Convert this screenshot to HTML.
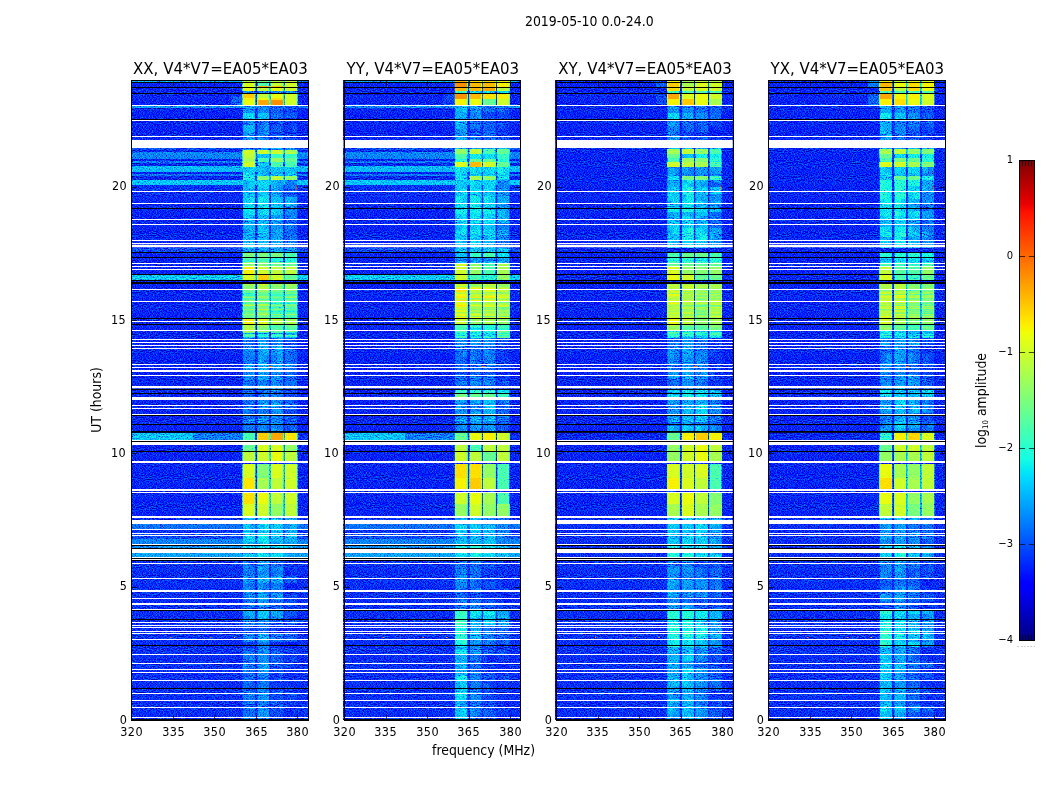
<!DOCTYPE html>
<html><head><meta charset="utf-8"><title>2019-05-10 0.0-24.0</title>
<style>html,body{margin:0;padding:0;background:#fff}svg{display:block}text{opacity:.999}text{font-family:"DejaVu Sans Condensed","DejaVu Sans","Liberation Sans",sans-serif;font-stretch:condensed;fill:#000}</style></head><body>
<svg width="1050" height="800" viewBox="0 0 1050 800">
<defs><filter id="jet" x="0" y="0" width="100%" height="100%" color-interpolation-filters="sRGB"><feTurbulence type="fractalNoise" baseFrequency="0.71 0.93" numOctaves="1" seed="7" result="n"/><feColorMatrix in="n" type="matrix" values="1 0 0 0 0 1 0 0 0 0 1 0 0 0 0 0 0 0 0 1" result="g0"/><feComponentTransfer in="g0" result="gn"><feFuncR type="table" tableValues="0.116 0.116 0.116 0.116 0.116 0.116 0.116 0.116 0.116 0.116 0.116 0.119 0.153 0.188 0.221 0.248 0.274 0.303 0.331 0.355 0.375 0.392 0.406 0.418 0.429 0.438 0.448 0.456 0.465 0.474 0.483 0.491 0.498 0.507 0.514 0.521 0.528 0.533 0.539 0.544 0.549 0.554 0.558 0.564 0.569 0.575 0.581 0.586 0.592 0.597 0.601 0.605 0.61 0.612 0.612 0.612 0.612 0.612 0.612 0.612 0.612 0.612 0.612 0.612 0.612"/><feFuncG type="table" tableValues="0.116 0.116 0.116 0.116 0.116 0.116 0.116 0.116 0.116 0.116 0.116 0.119 0.153 0.188 0.221 0.248 0.274 0.303 0.331 0.355 0.375 0.392 0.406 0.418 0.429 0.438 0.448 0.456 0.465 0.474 0.483 0.491 0.498 0.507 0.514 0.521 0.528 0.533 0.539 0.544 0.549 0.554 0.558 0.564 0.569 0.575 0.581 0.586 0.592 0.597 0.601 0.605 0.61 0.612 0.612 0.612 0.612 0.612 0.612 0.612 0.612 0.612 0.612 0.612 0.612"/><feFuncB type="table" tableValues="0.116 0.116 0.116 0.116 0.116 0.116 0.116 0.116 0.116 0.116 0.116 0.119 0.153 0.188 0.221 0.248 0.274 0.303 0.331 0.355 0.375 0.392 0.406 0.418 0.429 0.438 0.448 0.456 0.465 0.474 0.483 0.491 0.498 0.507 0.514 0.521 0.528 0.533 0.539 0.544 0.549 0.554 0.558 0.564 0.569 0.575 0.581 0.586 0.592 0.597 0.601 0.605 0.61 0.612 0.612 0.612 0.612 0.612 0.612 0.612 0.612 0.612 0.612 0.612 0.612"/></feComponentTransfer><feComposite in="SourceGraphic" in2="gn" operator="arithmetic" k1="-1.5892" k2="1.7946" k3="1.2225" k4="-0.4112" result="s"/><feComponentTransfer in="s"><feFuncR type="table" tableValues="0 0 0 0 0 0 0 0 0 0 0 0 0 0 0 0 0 0 0 0 0 0 0 0 0 0 0 0 0 0 0 0 0 0 0 0 0 0 0 0 0 0 0 0 0 0 0 0 0 0 0 0 0 0 0 0 0 0 0 0 0 0 0 0 0 0 0 0 0 0.006 0.032 0.058 0.084 0.11 0.135 0.161 0.187 0.213 0.239 0.265 0.29 0.316 0.342 0.368 0.394 0.419 0.445 0.471 0.497 0.523 0.548 0.574 0.6 0.626 0.652 0.677 0.703 0.729 0.755 0.781 0.806 0.832 0.858 0.884 0.91 0.935 0.961 0.987 1 1 1 1 1 1 1 1 1 1 1 1 1 1 1 1 1 1"/><feFuncG type="table" tableValues="0 0 0 0 0 0 0 0 0 0 0 0 0 0 0 0 0 0 0 0 0 0 0 0 0 0 0 0 0 0 0 0 0 0 0 0 0 0 0 0 0 0.012 0.044 0.076 0.108 0.14 0.172 0.204 0.236 0.268 0.3 0.332 0.364 0.396 0.428 0.46 0.492 0.524 0.556 0.588 0.62 0.652 0.684 0.716 0.748 0.78 0.812 0.844 0.876 0.908 0.94 0.972 1 1 1 1 1 1 1 1 1 1 1 1 1 1 1 1 1 1 1 1 1 1 1 1 1 1 1 1 1 1 1 1 1 1 0.97 0.941 0.911 0.881 0.852 0.822 0.793 0.763 0.733 0.704 0.674 0.644 0.615 0.585 0.556 0.526 0.496 0.467 0.437 0.407"/><feFuncB type="table" tableValues="0.5 0.5 0.5 0.5 0.5 0.5 0.5 0.5 0.5 0.5 0.5 0.5 0.5 0.5 0.5 0.5 0.5 0.5 0.5 0.5 0.5 0.5 0.5 0.5 0.5 0.5 0.536 0.573 0.609 0.645 0.682 0.718 0.755 0.791 0.827 0.864 0.9 0.936 0.973 1 1 1 1 1 1 1 1 1 1 1 1 1 1 1 1 1 1 1 1 1 1 1 1 1 1 1 1 1 0.987 0.961 0.935 0.91 0.884 0.858 0.832 0.806 0.781 0.755 0.729 0.703 0.677 0.652 0.626 0.6 0.574 0.548 0.523 0.497 0.471 0.445 0.419 0.394 0.368 0.342 0.316 0.29 0.265 0.239 0.213 0.187 0.161 0.135 0.11 0.084 0.058 0.032 0.006 0 0 0 0 0 0 0 0 0 0 0 0 0 0 0 0 0 0 0"/><feFuncA type="linear" slope="0" intercept="1"/></feComponentTransfer></filter>
<linearGradient id="cb" x1="0" y1="0" x2="0" y2="1"><stop offset="0" stop-color="rgb(128,0,0)"/><stop offset="0.09" stop-color="rgb(232,0,0)"/><stop offset="0.11" stop-color="rgb(255,19,0)"/><stop offset="0.22" stop-color="rgb(255,123,0)"/><stop offset="0.34" stop-color="rgb(255,236,0)"/><stop offset="0.35" stop-color="rgb(247,246,0)"/><stop offset="0.36" stop-color="rgb(239,255,8)"/><stop offset="0.5" stop-color="rgb(123,255,123)"/><stop offset="0.62" stop-color="rgb(21,255,226)"/><stop offset="0.65" stop-color="rgb(0,229,247)"/><stop offset="0.66" stop-color="rgb(0,219,255)"/><stop offset="0.88" stop-color="rgb(0,0,255)"/><stop offset="0.89" stop-color="rgb(0,0,255)"/><stop offset="1" stop-color="rgb(0,0,128)"/></linearGradient></defs>
<rect width="1050" height="800" fill="#fff"/>
<g filter="url(#jet)">
<rect x="131.25" y="80.0" width="176.9" height="640.0" fill="#292929"/>
<rect x="131.25" y="516" width="176.9" height="204.0" fill="#2c2c2c"/>
<rect x="131.25" y="148" width="176.9" height="2" fill="#333333"/>
<rect x="131.25" y="152" width="176.9" height="7" fill="#424242"/>
<rect x="131.25" y="161" width="176.9" height="2" fill="#404040"/>
<rect x="131.25" y="166" width="176.9" height="6" fill="#4f4f4f"/>
<rect x="131.25" y="174" width="176.9" height="2" fill="#404040"/>
<rect x="131.25" y="180" width="176.9" height="5" fill="#525252"/>
<rect x="131.25" y="185" width="176.9" height="6" fill="#2e2e2e"/>
<rect x="131.25" y="192" width="176.9" height="11" fill="#2b2b2b"/>
<rect x="131.25" y="81" width="176.9" height="1" fill="#4c4c4c"/>
<rect x="131.25" y="106" width="176.9" height="2" fill="#454545"/>
<rect x="131.25" y="546" width="176.9" height="2" fill="#474747"/>
<rect x="131.25" y="248" width="176.9" height="4" fill="#333333"/>
<rect x="131.25" y="275" width="176.9" height="6" fill="#545454"/>
<rect x="131.25" y="433" width="62" height="7" fill="#525252"/>
<rect x="193.25" y="433" width="50" height="7" fill="#404040"/>
<rect x="296.25" y="433" width="11.9" height="7" fill="#2b2b2b"/>
<rect x="131.25" y="524" width="176.9" height="5" fill="#3d3d3d"/>
<rect x="131.25" y="529" width="176.9" height="4" fill="#2e2e2e"/>
<rect x="131.25" y="533" width="176.9" height="6" fill="#333333"/>
<rect x="131.25" y="539" width="176.9" height="5" fill="#424242"/>
<rect x="131.25" y="553" width="176.9" height="4" fill="#4a4a4a"/>
<rect x="231.25" y="96" width="11.7" height="9" fill="#383838"/>
<rect x="242.6" y="80" width="12.7" height="2" fill="#959595"/>
<rect x="257.3" y="80" width="12.2" height="2" fill="#7a7a7a"/>
<rect x="270.6" y="80" width="12.9" height="2" fill="#959595"/>
<rect x="284.7" y="80" width="12.7" height="2" fill="#959595"/>
<rect x="242.6" y="83" width="12.7" height="4" fill="#9d9d9d"/>
<rect x="257.7" y="83" width="11.4" height="4" fill="#717171"/>
<rect x="270.6" y="83" width="12.9" height="4" fill="#959595"/>
<rect x="284.7" y="83" width="12.7" height="4" fill="#9a9a9a"/>
<rect x="242.6" y="86" width="12.7" height="1" fill="#9d9d9d"/>
<rect x="257.3" y="86" width="12.2" height="1" fill="#bbbbbb"/>
<rect x="270.6" y="86" width="12.9" height="1" fill="#b6b6b6"/>
<rect x="284.7" y="86" width="12.7" height="1" fill="#9a9a9a"/>
<rect x="242.6" y="88" width="12.7" height="3" fill="#a2a2a2"/>
<rect x="257.3" y="88" width="12.2" height="3" fill="#959595"/>
<rect x="270.6" y="88" width="12.9" height="3" fill="#a2a2a2"/>
<rect x="284.7" y="88" width="12.7" height="3" fill="#9a9a9a"/>
<rect x="243" y="91" width="11.9" height="3" fill="#454545"/>
<rect x="257.7" y="91" width="11.4" height="3" fill="#454545"/>
<rect x="271" y="91" width="12.1" height="3" fill="#454545"/>
<rect x="285.1" y="91" width="11.9" height="3" fill="#454545"/>
<rect x="242.6" y="94" width="12.7" height="4" fill="#b1b1b1"/>
<rect x="257.3" y="94" width="12.2" height="4" fill="#959595"/>
<rect x="270.6" y="94" width="12.9" height="4" fill="#a2a2a2"/>
<rect x="284.7" y="94" width="12.7" height="4" fill="#9a9a9a"/>
<rect x="242.6" y="98" width="12.7" height="2" fill="#a7a7a7"/>
<rect x="257.3" y="98" width="12.2" height="2" fill="#a2a2a2"/>
<rect x="270.6" y="98" width="12.9" height="2" fill="#acacac"/>
<rect x="284.7" y="98" width="12.7" height="2" fill="#9a9a9a"/>
<rect x="242.6" y="100" width="12.7" height="5" fill="#a2a2a2"/>
<rect x="257.3" y="100" width="12.2" height="5" fill="#bbbbbb"/>
<rect x="270.6" y="100" width="12.9" height="5" fill="#c1c1c1"/>
<rect x="284.7" y="100" width="12.7" height="5" fill="#9a9a9a"/>
<rect x="243" y="106" width="11.9" height="7" fill="#454545"/>
<rect x="257.7" y="106" width="11.4" height="7" fill="#424242"/>
<rect x="271" y="106" width="12.1" height="7" fill="#383838"/>
<rect x="285.1" y="106" width="11.9" height="7" fill="#333333"/>
<rect x="243" y="113" width="11.9" height="6" fill="#575757"/>
<rect x="257.7" y="113" width="11.4" height="6" fill="#525252"/>
<rect x="271" y="113" width="12.1" height="6" fill="#3d3d3d"/>
<rect x="285.1" y="113" width="11.9" height="6" fill="#383838"/>
<rect x="243" y="121" width="11.9" height="19" fill="#454545"/>
<rect x="257.7" y="121" width="11.4" height="19" fill="#404040"/>
<rect x="271" y="121" width="12.1" height="19" fill="#383838"/>
<rect x="285.1" y="121" width="11.9" height="19" fill="#303030"/>
<rect x="243" y="148" width="11.9" height="2" fill="#454545"/>
<rect x="257.7" y="148" width="11.4" height="2" fill="#454545"/>
<rect x="271" y="148" width="12.1" height="2" fill="#454545"/>
<rect x="285.1" y="148" width="11.9" height="2" fill="#454545"/>
<rect x="242.6" y="150" width="12.7" height="4" fill="#9a9a9a"/>
<rect x="257.3" y="150" width="12.2" height="4" fill="#9a9a9a"/>
<rect x="270.6" y="150" width="12.9" height="4" fill="#9a9a9a"/>
<rect x="284.7" y="150" width="12.7" height="4" fill="#909090"/>
<rect x="242.6" y="154" width="12.7" height="4" fill="#959595"/>
<rect x="257.7" y="154" width="11.4" height="4" fill="#525252"/>
<rect x="271" y="154" width="12.1" height="4" fill="#6b6b6b"/>
<rect x="285.1" y="154" width="11.9" height="4" fill="#6b6b6b"/>
<rect x="242.6" y="158" width="12.7" height="4" fill="#8e8e8e"/>
<rect x="257.7" y="158" width="11.4" height="4" fill="#717171"/>
<rect x="270.6" y="158" width="12.9" height="4" fill="#888888"/>
<rect x="284.7" y="158" width="12.7" height="4" fill="#7a7a7a"/>
<rect x="242.6" y="162" width="12.7" height="5" fill="#9a9a9a"/>
<rect x="257.7" y="162" width="11.4" height="5" fill="#525252"/>
<rect x="271" y="162" width="12.1" height="5" fill="#717171"/>
<rect x="285.1" y="162" width="11.9" height="5" fill="#717171"/>
<rect x="243" y="167" width="11.9" height="9" fill="#595959"/>
<rect x="257.7" y="167" width="11.4" height="9" fill="#525252"/>
<rect x="271" y="167" width="12.1" height="9" fill="#545454"/>
<rect x="285.1" y="167" width="11.9" height="9" fill="#545454"/>
<rect x="243" y="176" width="11.9" height="4" fill="#5e5e5e"/>
<rect x="257.3" y="176" width="12.2" height="4" fill="#838383"/>
<rect x="270.6" y="176" width="12.9" height="4" fill="#959595"/>
<rect x="284.7" y="176" width="12.7" height="4" fill="#888888"/>
<rect x="243" y="180" width="11.9" height="68" fill="#525252"/>
<rect x="257.7" y="180" width="11.4" height="68" fill="#545454"/>
<rect x="271" y="180" width="12.1" height="68" fill="#4d4d4d"/>
<rect x="285.1" y="180" width="11.9" height="68" fill="#424242"/>
<rect x="243" y="248" width="11.9" height="4" fill="#4a4a4a"/>
<rect x="257.7" y="248" width="11.4" height="4" fill="#4a4a4a"/>
<rect x="271" y="248" width="12.1" height="4" fill="#4a4a4a"/>
<rect x="285.1" y="248" width="11.9" height="4" fill="#454545"/>
<rect x="242.6" y="253" width="12.7" height="4" fill="#808080"/>
<rect x="257.3" y="253" width="12.2" height="4" fill="#808080"/>
<rect x="270.6" y="253" width="12.9" height="4" fill="#808080"/>
<rect x="285.1" y="253" width="11.9" height="4" fill="#717171"/>
<rect x="242.6" y="258" width="12.7" height="4" fill="#7a7a7a"/>
<rect x="257.3" y="258" width="12.2" height="4" fill="#7a7a7a"/>
<rect x="271" y="258" width="12.1" height="4" fill="#6b6b6b"/>
<rect x="285.1" y="258" width="11.9" height="4" fill="#6b6b6b"/>
<rect x="242.6" y="262" width="12.7" height="4" fill="#888888"/>
<rect x="257.3" y="262" width="12.2" height="4" fill="#838383"/>
<rect x="270.6" y="262" width="12.9" height="4" fill="#7a7a7a"/>
<rect x="284.7" y="262" width="12.7" height="4" fill="#7a7a7a"/>
<rect x="242.6" y="266" width="12.7" height="8" fill="#a7a7a7"/>
<rect x="257.3" y="266" width="12.2" height="8" fill="#9a9a9a"/>
<rect x="270.6" y="266" width="12.9" height="8" fill="#959595"/>
<rect x="284.7" y="266" width="12.7" height="8" fill="#959595"/>
<rect x="242.6" y="274" width="12.7" height="6" fill="#9d9d9d"/>
<rect x="257.3" y="274" width="12.2" height="6" fill="#b1b1b1"/>
<rect x="270.6" y="274" width="12.9" height="6" fill="#9a9a9a"/>
<rect x="284.7" y="274" width="12.7" height="6" fill="#7a7a7a"/>
<rect x="242.6" y="284" width="12.7" height="6" fill="#909090"/>
<rect x="257.3" y="284" width="12.2" height="6" fill="#989898"/>
<rect x="270.6" y="284" width="12.9" height="6" fill="#8e8e8e"/>
<rect x="284.7" y="284" width="12.7" height="6" fill="#8e8e8e"/>
<rect x="242.6" y="290" width="12.7" height="12" fill="#888888"/>
<rect x="257.3" y="290" width="12.2" height="12" fill="#8e8e8e"/>
<rect x="270.6" y="290" width="12.9" height="12" fill="#838383"/>
<rect x="284.7" y="290" width="12.7" height="12" fill="#8e8e8e"/>
<rect x="242.6" y="302" width="12.7" height="16" fill="#888888"/>
<rect x="257.3" y="302" width="12.2" height="16" fill="#888888"/>
<rect x="270.6" y="302" width="12.9" height="16" fill="#7a7a7a"/>
<rect x="284.7" y="302" width="12.7" height="16" fill="#7a7a7a"/>
<rect x="242.6" y="318" width="12.7" height="7" fill="#a7a7a7"/>
<rect x="257.3" y="318" width="12.2" height="7" fill="#9d9d9d"/>
<rect x="270.6" y="318" width="12.9" height="7" fill="#959595"/>
<rect x="284.7" y="318" width="12.7" height="7" fill="#8e8e8e"/>
<rect x="242.6" y="325" width="12.7" height="7" fill="#959595"/>
<rect x="257.3" y="325" width="12.2" height="7" fill="#888888"/>
<rect x="270.6" y="325" width="12.9" height="7" fill="#7a7a7a"/>
<rect x="284.7" y="325" width="12.7" height="7" fill="#7a7a7a"/>
<rect x="243" y="332" width="11.9" height="6" fill="#717171"/>
<rect x="257.7" y="332" width="11.4" height="6" fill="#666666"/>
<rect x="271" y="332" width="12.1" height="6" fill="#666666"/>
<rect x="285.1" y="332" width="11.9" height="6" fill="#666666"/>
<rect x="243" y="338" width="11.9" height="42" fill="#424242"/>
<rect x="257.7" y="338" width="11.4" height="42" fill="#4a4a4a"/>
<rect x="271" y="338" width="12.1" height="42" fill="#474747"/>
<rect x="285.1" y="338" width="11.9" height="42" fill="#3b3b3b"/>
<rect x="243" y="380" width="11.9" height="53" fill="#3d3d3d"/>
<rect x="257.7" y="380" width="11.4" height="53" fill="#424242"/>
<rect x="271" y="380" width="12.1" height="53" fill="#424242"/>
<rect x="285.1" y="380" width="11.9" height="53" fill="#383838"/>
<rect x="243" y="433" width="11.9" height="7" fill="#717171"/>
<rect x="257.3" y="433" width="12.2" height="7" fill="#b1b1b1"/>
<rect x="270.6" y="433" width="12.9" height="7" fill="#bbbbbb"/>
<rect x="284.7" y="433" width="12.7" height="7" fill="#aaaaaa"/>
<rect x="242.6" y="445" width="12.7" height="6" fill="#7a7a7a"/>
<rect x="257.3" y="445" width="12.2" height="6" fill="#9d9d9d"/>
<rect x="270.6" y="445" width="12.9" height="6" fill="#9d9d9d"/>
<rect x="284.7" y="445" width="12.7" height="6" fill="#888888"/>
<rect x="242.6" y="452" width="12.7" height="10" fill="#959595"/>
<rect x="257.3" y="452" width="12.2" height="10" fill="#9a9a9a"/>
<rect x="270.6" y="452" width="12.9" height="10" fill="#a2a2a2"/>
<rect x="284.7" y="452" width="12.7" height="10" fill="#959595"/>
<rect x="242.6" y="464" width="12.7" height="14" fill="#9d9d9d"/>
<rect x="257.3" y="464" width="12.2" height="14" fill="#838383"/>
<rect x="270.6" y="464" width="12.9" height="14" fill="#9d9d9d"/>
<rect x="284.7" y="464" width="12.7" height="14" fill="#9a9a9a"/>
<rect x="242.6" y="478" width="12.7" height="11" fill="#aaaaaa"/>
<rect x="257.3" y="478" width="12.2" height="11" fill="#8e8e8e"/>
<rect x="270.6" y="478" width="12.9" height="11" fill="#959595"/>
<rect x="284.7" y="478" width="12.7" height="11" fill="#9a9a9a"/>
<rect x="242.6" y="493" width="12.7" height="11" fill="#acacac"/>
<rect x="257.3" y="493" width="12.2" height="11" fill="#a2a2a2"/>
<rect x="270.6" y="493" width="12.9" height="11" fill="#959595"/>
<rect x="284.7" y="493" width="12.7" height="11" fill="#9a9a9a"/>
<rect x="242.6" y="504" width="12.7" height="12" fill="#9d9d9d"/>
<rect x="257.3" y="504" width="12.2" height="12" fill="#9a9a9a"/>
<rect x="270.6" y="504" width="12.9" height="12" fill="#888888"/>
<rect x="284.7" y="504" width="12.7" height="12" fill="#959595"/>
<rect x="243" y="516" width="11.9" height="29" fill="#525252"/>
<rect x="257.7" y="516" width="11.4" height="29" fill="#575757"/>
<rect x="271" y="516" width="12.1" height="29" fill="#525252"/>
<rect x="285.1" y="516" width="11.9" height="29" fill="#4a4a4a"/>
<rect x="243" y="545" width="11.9" height="15" fill="#525252"/>
<rect x="257.7" y="545" width="11.4" height="15" fill="#575757"/>
<rect x="271" y="545" width="12.1" height="15" fill="#525252"/>
<rect x="285.1" y="545" width="11.9" height="15" fill="#4a4a4a"/>
<rect x="243" y="560" width="11.9" height="40" fill="#424242"/>
<rect x="257.7" y="560" width="11.4" height="40" fill="#4a4a4a"/>
<rect x="271" y="560" width="12.1" height="40" fill="#454545"/>
<rect x="285.1" y="560" width="11.9" height="40" fill="#303030"/>
<rect x="243" y="600" width="11.9" height="11" fill="#383838"/>
<rect x="257.7" y="600" width="11.4" height="11" fill="#424242"/>
<rect x="271" y="600" width="12.1" height="11" fill="#383838"/>
<rect x="285.1" y="600" width="11.9" height="11" fill="#2e2e2e"/>
<rect x="243" y="611" width="11.9" height="9" fill="#4d4d4d"/>
<rect x="257.7" y="611" width="11.4" height="9" fill="#525252"/>
<rect x="271" y="611" width="12.1" height="9" fill="#4a4a4a"/>
<rect x="285.1" y="611" width="11.9" height="9" fill="#383838"/>
<rect x="243" y="620" width="11.9" height="100" fill="#3b3b3b"/>
<rect x="257.7" y="620" width="11.4" height="100" fill="#424242"/>
<rect x="271" y="620" width="12.1" height="100" fill="#333333"/>
<rect x="285.1" y="620" width="11.9" height="100" fill="#2e2e2e"/>
<path fill="#3c3c3c" d="M243 121h6.6v4h-6.6zM285.1 369h5.1v8h-5.1zM247.4 380h7.5v5h-7.5zM285.1 380h6v5h-6zM291.1 380h5.9v5h-5.9zM275.5 389h7.6v9h-7.6zM247.7 409h7.2v6h-7.2zM278.2 415h4.9v4h-4.9zM257.7 607h6.6v4h-6.6zM264.3 607h4.8v4h-4.8zM243 626h4.1v7h-4.1zM243 657h5.6v4h-5.6zM275.3 661h7.8v3h-7.8zM247 664h7.9v8h-7.9zM248.5 672h6.4v4h-6.4zM257.7 719h6.3v1h-6.3z"/>
<path fill="#454545" d="M249.6 121h5.3v4h-5.3zM263.8 132h5.3v3h-5.3zM257.7 135h6.4v5h-6.4zM275.3 223h7.8v6h-7.8zM257.7 333h11.4v1h-11.4zM285.1 333h11.9v1h-11.9zM275.9 343h7.2v3h-7.2zM250.1 346h4.8v9h-4.8zM278.6 377h4.5v3h-4.5zM271 398h7.5v5h-7.5zM275.2 409h7.9v6h-7.9zM261.5 419h7.6v4h-7.6zM285.1 542h4.4v3h-4.4zM262 567h7.1v4h-7.1zM278.3 567h4.8v4h-4.8zM257.7 571h6.9v5h-6.9zM271 587h6.5v7h-6.5zM248.2 594h6.7v6h-6.7zM257.7 664h5.3v8h-5.3zM257.7 691h5.8v3h-5.8zM257.7 694h3.7v6h-3.7z"/>
<path fill="#373737" d="M257.7 121h4.1v4h-4.1zM271 125h5.7v7h-5.7zM276.7 125h6.4v7h-6.4zM292.5 125h4.5v7h-4.5zM285.1 220h4v3h-4zM285.1 338h7.1v5h-7.1zM292.2 343h4.8v3h-4.8zM285.1 419h7.3v4h-7.3zM292.4 419h4.6v4h-4.6zM285.1 600h6.7v7h-6.7zM243 607h5.3v4h-5.3zM289.6 611h7.4v5h-7.4zM291 619h6v1h-6zM292 620h5v6h-5zM249.3 648h5.6v4h-5.6zM275.2 657h7.9v4h-7.9zM247.5 687h7.4v4h-7.4zM248.9 719h6v1h-6z"/>
<path fill="#3f3f3f" d="M261.8 121h7.3v4h-7.3zM243 135h4.1v5h-4.1zM264.1 135h5v5h-5zM285.1 180h7v8h-7zM292.7 242h4.3v6h-4.3zM285.1 346h4.5v9h-4.5zM243 355h5.8v9h-5.8zM290.5 364h6.5v5h-6.5zM279 403h4.1v6h-4.1zM262.5 409h6.6v6h-6.6zM243 419h5.1v4h-5.1zM275.2 423h7.9v6h-7.9zM248.9 429h6v4h-6zM271 567h7.3v4h-7.3zM243 571h5.1v5h-5.1zM248.1 571h6.8v5h-6.8zM271 583h4.2v4h-4.2zM257.7 648h5.2v4h-5.2zM243 694h4.6v6h-4.6zM249.8 707h5.1v4h-5.1z"/>
<path fill="#2e2e2e" d="M271 121h7.4v4h-7.4zM285.1 567h4.4v4h-4.4zM289.4 661h7.6v3h-7.6zM271 672h8v4h-8zM290.7 672h6.3v4h-6.3zM271 676h7.6v5h-7.6zM285.1 676h4v5h-4zM285.1 691h6.2v3h-6.2zM285.1 704h7.3v3h-7.3z"/>
<path fill="#383838" d="M278.4 121h4.7v4h-4.7zM243 389h5.8v9h-5.8zM248.8 389h6.1v9h-6.1zM290.1 403h6.9v6h-6.9zM292.5 415h4.5v4h-4.5zM248.3 560h6.6v7h-6.6zM248.3 607h6.6v4h-6.6zM279 607h4.1v4h-4.1zM292 633h5v9h-5zM243 648h6.3v4h-6.3zM271 648h7.5v4h-7.5zM243 661h6.9v3h-6.9zM278.4 664h4.7v8h-4.7zM243 704h7.1v3h-7.1z"/>
<path fill="#2b2b2b" d="M285.1 121h6.8v4h-6.8zM285.1 132h7.1v3h-7.1zM276 626h7.1v7h-7.1zM289.6 681h7.4v6h-7.4z"/>
<path fill="#2f2f2f" d="M291.9 121h5.1v4h-5.1zM285.1 125h7.4v7h-7.4zM292.2 132h4.8v3h-4.8zM285.1 389h7v9h-7zM285.1 594h5v6h-5zM291.4 616h5.6v3h-5.6zM285.1 657h4.1v4h-4.1zM271 687h6.2v4h-6.2zM271 719h7v1h-7zM289.6 719h7.4v1h-7.4z"/>
<path fill="#4e4e4e" d="M243 125h6.6v7h-6.6zM249.6 125h5.3v7h-5.3zM271 180h6.6v8h-6.6zM265.1 215h4v5h-4zM257.7 233h4.2v9h-4.2zM257.7 337h11.4v1h-11.4zM263.1 346h6v9h-6zM261.8 364h7.3v5h-7.3zM285.1 516h6.5v8h-6.5zM247.5 619h7.4v1h-7.4z"/>
<path fill="#3d3d3d" d="M257.7 125h6.8v7h-6.8zM271 338h6.5v5h-6.5zM285.1 377h7.9v3h-7.9zM243 380h4.4v5h-4.4zM262.4 380h6.7v5h-6.7zM276.6 380h6.5v5h-6.5zM247.7 398h7.2v5h-7.2zM249.7 403h5.2v6h-5.2zM243 415h5.1v4h-5.1zM249.9 423h5v6h-5zM264.9 423h4.2v6h-4.2zM291.8 429h5.2v4h-5.2zM278 560h5.1v7h-5.1zM248.2 567h6.7v4h-6.7zM271 571h5.8v5h-5.8zM277.9 633h5.2v9h-5.2zM243 676h6.8v5h-6.8zM243 707h6.8v4h-6.8zM243 711h5.7v8h-5.7zM248.7 711h6.2v8h-6.2z"/>
<path fill="#484848" d="M264.5 125h4.6v7h-4.6zM277.6 180h5.5v8h-5.5zM271 223h4.3v6h-4.3zM264.6 377h4.5v3h-4.5zM243 385h5.1v4h-5.1zM285.1 524h5.3v9h-5.3zM271 542h7.9v3h-7.9zM250 550h4.9v4h-4.9zM264.5 560h4.6v7h-4.6zM271 576h6.7v7h-6.7zM257.7 600h5.1v7h-5.1zM257.7 657h6.2v4h-6.2zM261.4 694h7.7v6h-7.7z"/>
<path fill="#494949" d="M243 132h5.6v3h-5.6zM277.9 215h5.2v5h-5.2zM271 220h7v3h-7zM271 233h6.9v9h-6.9zM257.7 338h6.9v5h-6.9zM257.7 343h4.6v3h-4.6zM277.1 355h6v9h-6zM243 364h5.1v5h-5.1zM262.2 403h6.9v6h-6.9zM285.1 550h4v4h-4zM243 576h4.5v7h-4.5zM243 611h5.3v5h-5.3zM276.9 611h6.2v5h-6.2zM271 619h8v1h-8z"/>
<path fill="#474747" d="M248.6 132h6.3v3h-6.3zM243 220h5.4v3h-5.4zM243 229h7.3v4h-7.3zM264.6 338h4.5v5h-4.5zM257.7 346h5.4v9h-5.4zM276.8 385h6.3v4h-6.3zM291.2 554h5.8v6h-5.8zM264.6 571h4.5v5h-4.5zM265 594h4.1v6h-4.1zM264.6 620h4.5v6h-4.5zM257.7 672h5.8v4h-5.8zM265.3 711h3.8v8h-3.8z"/>
<path fill="#404040" d="M257.7 132h6.1v3h-6.1zM285.1 229h5.1v4h-5.1zM271 333h12.1v1h-12.1zM243 338h6.6v5h-6.6zM248.8 355h6.1v9h-6.1zM271 355h6.1v9h-6.1zM250 377h4.9v3h-4.9zM257.7 380h4.7v5h-4.7zM248.1 385h6.8v4h-6.8zM243 398h4.7v5h-4.7zM257.7 403h4.5v6h-4.5zM285.1 403h5v6h-5zM243 409h4.7v6h-4.7zM262.5 587h6.6v7h-6.6zM248.2 600h6.7v7h-6.7zM257.7 642h6.6v6h-6.6zM248.4 652h6.5v5h-6.5zM249.9 661h5v3h-5zM265.2 687h3.9v4h-3.9zM257.7 700h4.9v4h-4.9z"/>
<path fill="#363636" d="M271 132h8v3h-8zM285.1 135h5v5h-5zM285.1 429h6.7v4h-6.7zM285.1 576h7.3v7h-7.3zM271 607h8v4h-8zM285.1 611h4.5v5h-4.5zM278.6 676h4.5v5h-4.5zM277.2 704h5.9v3h-5.9z"/>
<path fill="#353535" d="M279 132h4.1v3h-4.1zM293 377h4v3h-4zM292.3 398h4.7v5h-4.7zM291.5 409h5.5v6h-5.5zM285.1 423h5.1v6h-5.1zM247.1 626h7.8v7h-7.8zM271 661h4.3v3h-4.3zM279 672h4.1v4h-4.1zM277.2 687h5.9v4h-5.9zM271 707h5.8v4h-5.8zM276 711h7.1v8h-7.1z"/>
<path fill="#4a4a4a" d="M247.1 135h7.8v5h-7.8zM271 215h6.9v5h-6.9zM250.6 233h4.3v9h-4.3zM277.9 233h5.2v9h-5.2zM271 242h7.2v6h-7.2zM262.3 343h6.8v3h-6.8zM271 364h5.5v5h-5.5zM276.5 364h6.6v5h-6.6zM264.1 369h5v8h-5zM271 403h8v6h-8zM257.7 587h4.8v7h-4.8zM276.8 594h6.3v6h-6.3zM277.7 616h5.4v3h-5.4zM257.7 633h5.3v9h-5.3zM262.6 661h6.5v3h-6.5z"/>
<path fill="#323232" d="M271 135h7.3v5h-7.3zM290.1 135h6.9v5h-6.9zM292.2 338h4.8v5h-4.8zM285.1 409h6.4v6h-6.4zM290.1 594h6.9v6h-6.9zM285.1 620h6.9v6h-6.9zM271 626h5v7h-5zM285.1 648h7.3v4h-7.3zM285.1 661h4.3v3h-4.3zM285.1 664h6.4v8h-6.4zM291.3 700h5.7v4h-5.7zM276.8 707h6.3v4h-6.3zM243 719h5.9v1h-5.9z"/>
<path fill="#3b3b3b" d="M278.3 135h4.8v5h-4.8zM285.1 215h4.5v5h-4.5zM291.8 223h5.2v6h-5.2zM290.2 369h6.8v8h-6.8zM285.1 398h7.2v5h-7.2zM243 403h6.7v6h-6.7zM271 560h7v7h-7zM276.3 600h6.8v7h-6.8zM278.5 620h4.6v6h-4.6zM263 626h6.1v7h-6.1zM271 652h5.1v5h-5.1zM276.1 652h7v5h-7zM257.7 676h6.8v5h-6.8zM243 681h4.5v6h-4.5z"/>
<path fill="#515151" d="M243 167h7v5h-7zM257.7 167h6.6v5h-6.6zM243 188h4.8v9h-4.8zM271 197h7.7v9h-7.7zM257.7 215h7.4v5h-7.4zM257.7 242h5.1v6h-5.1zM278.2 242h4.9v6h-4.9zM265.1 616h4v3h-4zM243 619h4.5v1h-4.5z"/>
<path fill="#565656" d="M250 167h4.9v5h-4.9zM248.1 172h6.8v4h-6.8zM257.7 180h7v8h-7zM243 206h4.6v9h-4.6zM257.7 206h6.7v9h-6.7zM271 206h5.8v9h-5.8zM257.7 516h6.6v8h-6.6zM243 554h4.8v6h-4.8z"/>
<path fill="#4b4b4b" d="M264.3 167h4.8v5h-4.8zM271 188h7.6v9h-7.6zM291.1 197h5.9v9h-5.9zM278 346h5.1v9h-5.1zM257.7 355h5.5v9h-5.5zM248.1 364h6.8v5h-6.8zM257.7 364h4.1v5h-4.1zM257.7 369h6.4v8h-6.4zM271 385h5.8v4h-5.8zM271 429h5.4v4h-5.4zM248.2 542h6.7v3h-6.7zM289.5 542h7.5v3h-7.5zM279 619h4.1v1h-4.1zM263 664h6.1v8h-6.1z"/>
<path fill="#525252" d="M271 167h5.5v5h-5.5zM276.5 167h6.6v5h-6.6zM285.1 167h6.6v5h-6.6zM285.1 172h6.4v4h-6.4zM257.7 188h4.7v9h-4.7zM250.3 229h4.6v4h-4.6zM262.8 242h6.3v6h-6.3zM243 516h6.6v8h-6.6zM257.7 524h7.2v9h-7.2zM278.5 524h4.6v9h-4.6zM250 533h4.9v4h-4.9zM285.1 533h5.7v4h-5.7zM243 542h5.2v3h-5.2zM257.7 542h5.1v3h-5.1zM263.4 611h5.7v5h-5.7z"/>
<path fill="#505050" d="M291.7 167h5.3v5h-5.3zM278.7 197h4.4v9h-4.4zM276.8 206h6.3v9h-6.3zM248.6 215h6.3v5h-6.3zM261.9 233h7.2v9h-7.2zM276.6 516h6.5v8h-6.5zM291.6 516h5.4v8h-5.4zM276.9 537h6.2v5h-6.2zM278.9 542h4.2v3h-4.2zM276.9 550h6.2v4h-6.2zM264.8 576h4.3v7h-4.3z"/>
<path fill="#5c5c5c" d="M243 172h5.1v4h-5.1zM257.7 545h3.7v5h-3.7z"/>
<path fill="#575757" d="M257.7 172h4.1v4h-4.1zM250.6 242h4.3v6h-4.3zM285.1 334h11.9v1h-11.9zM257.7 537h4.1v5h-4.1zM261.9 619h7.2v1h-7.2z"/>
<path fill="#4c4c4c" d="M261.8 172h7.3v4h-7.3zM261.5 220h7.6v3h-7.6zM250.9 223h4v6h-4zM243 233h7.6v9h-7.6zM257.7 419h3.8v4h-3.8zM249.5 524h5.4v9h-5.4zM292.6 545h4.4v5h-4.4zM257.7 594h7.3v6h-7.3zM271 611h5.9v5h-5.9z"/>
<path fill="#4f4f4f" d="M271 172h5.2v4h-5.2zM276.2 172h6.9v4h-6.9zM247.8 188h7.1v9h-7.1zM248.4 220h6.5v3h-6.5zM243 223h7.9v6h-7.9zM271 337h12.1v1h-12.1zM257.7 377h6.9v3h-6.9zM290.4 524h6.6v9h-6.6zM271 537h5.9v5h-5.9zM257.7 567h4.3v4h-4.3zM277.7 576h5.4v7h-5.4z"/>
<path fill="#535353" d="M291.5 172h5.5v4h-5.5zM264.2 229h4.9v4h-4.9zM243 242h7.6v6h-7.6zM243 333h11.9v1h-11.9zM243 337h11.9v1h-11.9zM243 524h6.5v9h-6.5zM271 524h7.5v9h-7.5zM290.8 533h6.2v4h-6.2zM243 537h4.3v5h-4.3zM285.1 545h7.5v5h-7.5zM257.7 611h5.7v5h-5.7zM257.7 616h7.4v3h-7.4z"/>
<path fill="#4d4d4d" d="M243 180h5.4v8h-5.4zM285.1 197h6v9h-6zM257.7 220h3.8v3h-3.8zM263.3 223h5.8v6h-5.8zM275.8 229h7.3v4h-7.3zM285.1 337h11.9v1h-11.9zM257.7 385h6.9v4h-6.9zM285.1 537h6.6v5h-6.6zM291.7 537h5.3v5h-5.3zM243 550h7v4h-7zM263.4 550h5.7v4h-5.7zM271 550h5.9v4h-5.9zM285.1 554h6.1v6h-6.1zM257.7 576h7.1v7h-7.1zM248.3 611h6.6v5h-6.6zM250.4 616h4.5v3h-4.5zM263 633h6.1v9h-6.1z"/>
<path fill="#545454" d="M248.4 180h6.5v8h-6.5zM262.4 188h6.7v9h-6.7zM243 215h5.6v5h-5.6zM257.7 223h5.6v6h-5.6zM257.7 229h6.5v4h-6.5zM249.6 516h5.3v8h-5.3zM243 533h7v4h-7zM247.1 545h7.8v5h-7.8zM271 545h5.9v5h-5.9zM247.8 554h7.1v6h-7.1zM257.7 619h4.2v1h-4.2z"/>
<path fill="#585858" d="M264.7 180h4.4v8h-4.4zM247.3 537h7.6v5h-7.6zM243 545h4.1v5h-4.1zM261.5 554h7.6v6h-7.6z"/>
<path fill="#414141" d="M292.1 180h4.9v8h-4.9zM243 346h7.1v9h-7.1zM243 369h5.3v8h-5.3zM285.1 385h4.4v4h-4.4zM263.9 389h5.2v9h-5.2zM278.5 398h4.6v5h-4.6zM257.7 409h4.8v6h-4.8zM257.7 415h3.8v4h-3.8zM243 429h5.9v4h-5.9zM264.4 429h4.7v4h-4.7zM271 594h5.8v6h-5.8zM250.2 620h4.7v6h-4.7zM264.3 642h4.8v6h-4.8zM249.4 700h5.5v4h-5.5z"/>
<path fill="#444444" d="M278.6 188h4.5v9h-4.5zM285.1 206h6.9v9h-6.9zM289.6 215h7.4v5h-7.4zM285.1 242h7.6v6h-7.6zM263.2 355h5.9v9h-5.9zM264.6 385h4.5v4h-4.5zM261.5 415h7.6v4h-7.6zM271 423h4.2v6h-4.2zM276.4 429h6.7v4h-6.7zM289.1 550h7.9v4h-7.9zM257.7 560h6.8v7h-6.8zM277.5 587h5.6v7h-5.6zM262.8 600h6.3v7h-6.3zM271 616h6.7v3h-6.7zM243 633h7.3v9h-7.3zM257.7 652h5.9v5h-5.9zM263.6 652h5.5v5h-5.5zM243 664h4v8h-4z"/>
<path fill="#393939" d="M285.1 188h5.4v9h-5.4zM290.5 188h6.5v9h-6.5zM290.2 229h6.8v4h-6.8zM285.1 233h4.6v9h-4.6zM248.7 343h6.2v3h-6.2zM257.7 389h6.2v9h-6.2zM292.4 576h4.6v7h-4.6zM243 600h5.2v7h-5.2zM285.1 633h6.9v9h-6.9zM243 672h5.5v4h-5.5zM247.5 681h7.4v6h-7.4zM243 687h4.5v4h-4.5zM276.1 691h7v3h-7zM271 700h7.2v4h-7.2zM262.5 704h6.6v3h-6.6z"/>
<path fill="#555555" d="M243 197h6.5v9h-6.5zM271 533h7.6v4h-7.6zM257.7 550h5.7v4h-5.7z"/>
<path fill="#595959" d="M249.5 197h5.4v9h-5.4zM271 516h5.6v8h-5.6zM278.6 533h4.5v4h-4.5zM262.8 542h6.3v3h-6.3zM271 554h6.6v6h-6.6z"/>
<path fill="#5e5e5e" d="M257.7 197h6.2v9h-6.2zM271 261h12.1v1h-12.1zM285.1 261h11.9v1h-11.9zM271 303h12.1v1h-12.1zM257.7 334h11.4v1h-11.4zM257.7 533h6.2v4h-6.2zM257.7 554h3.8v6h-3.8z"/>
<path fill="#5a5a5a" d="M263.9 197h5.2v9h-5.2zM247.6 206h7.3v9h-7.3zM276.9 545h6.2v5h-6.2zM277.6 554h5.5v6h-5.5z"/>
<path fill="#5d5d5d" d="M264.4 206h4.7v9h-4.7zM263.9 533h5.2v4h-5.2z"/>
<path fill="#434343" d="M292 206h5v9h-5zM271 229h4.8v4h-4.8zM277.5 338h5.6v5h-5.6zM271 369h6.8v8h-6.8zM277.8 369h5.3v8h-5.3zM243 377h7v3h-7zM271 380h5.6v5h-5.6zM271 389h4.5v9h-4.5zM265.1 398h4v5h-4zM271 409h4.2v6h-4.2zM271 419h4.2v4h-4.2zM243 567h5.2v4h-5.2zM276.8 571h6.3v5h-6.3zM247.5 576h7.4v7h-7.4zM257.7 583h5.9v4h-5.9zM243 587h7.5v7h-7.5zM243 616h7.4v3h-7.4zM250.3 633h4.6v9h-4.6zM243 652h5.4v5h-5.4zM248.6 657h6.3v4h-6.3zM257.7 661h4.9v3h-4.9zM263.5 672h5.6v4h-5.6zM263.5 691h5.6v3h-5.6zM257.7 704h4.8v3h-4.8z"/>
<path fill="#464646" d="M278 220h5.1v3h-5.1zM271 346h7v9h-7zM285.1 364h5.4v5h-5.4zM248.3 369h6.6v8h-6.6zM271 377h7.6v3h-7.6zM257.7 398h7.4v5h-7.4zM271 415h7.2v4h-7.2zM248.1 419h6.8v4h-6.8zM257.7 429h6.7v4h-6.7zM262.9 648h6.2v4h-6.2zM263.9 657h5.2v4h-5.2zM265.2 707h3.9v4h-3.9zM257.7 711h7.6v8h-7.6z"/>
<path fill="#3a3a3a" d="M289.1 220h7.9v3h-7.9zM249.6 338h5.3v5h-5.3zM289.6 346h7.4v9h-7.4zM290.7 355h6.3v9h-6.3zM248.1 415h6.8v4h-6.8zM285.1 415h7.4v4h-7.4zM290.2 423h6.8v6h-6.8zM248.4 583h6.5v4h-6.5zM271 600h5.3v7h-5.3zM285.1 619h5.9v1h-5.9zM257.7 626h5.3v7h-5.3zM249.8 676h5.1v5h-5.1zM243 691h7.6v3h-7.6zM250.6 691h4.3v3h-4.3z"/>
<path fill="#424242" d="M285.1 223h6.7v6h-6.7zM243 343h5.7v3h-5.7zM275.2 419h7.9v4h-7.9zM257.7 423h7.2v6h-7.2zM243 560h5.3v7h-5.3zM243 583h5.4v4h-5.4zM250.5 587h4.4v7h-4.4zM243 620h7.2v6h-7.2zM257.7 620h6.9v6h-6.9zM257.7 687h7.5v4h-7.5zM247.6 694h7.3v6h-7.3zM262.6 700h6.5v4h-6.5zM257.7 707h7.5v4h-7.5z"/>
<path fill="#3e3e3e" d="M289.7 233h7.3v9h-7.3zM271 343h4.9v3h-4.9zM285.1 355h5.6v9h-5.6zM289.5 385h7.5v4h-7.5zM243 423h6.9v6h-6.9zM263.6 583h5.5v4h-5.5zM275.2 583h7.9v4h-7.9zM243 594h5.2v6h-5.2zM271 633h6.9v9h-6.9zM271 657h4.2v4h-4.2zM264.5 676h4.6v5h-4.6zM257.7 681h6.5v6h-6.5zM264.2 681h4.9v6h-4.9zM243 700h6.4v4h-6.4zM264 719h5.1v1h-5.1z"/>
<path fill="#747474" d="M243 258h11.9v1h-11.9z"/>
<path fill="#7b7b7b" d="M257.7 258h11.4v1h-11.4zM243 310h11.9v1h-11.9zM243 313h11.9v1h-11.9z"/>
<path fill="#636363" d="M271 258h12.1v1h-12.1zM285.1 260h11.9v1h-11.9zM285.1 311h11.9v1h-11.9z"/>
<path fill="#646464" d="M285.1 258h11.9v1h-11.9zM243 261h11.9v1h-11.9z"/>
<path fill="#727272" d="M243 259h11.9v1h-11.9zM257.7 299h11.4v1h-11.4zM257.7 303h11.4v1h-11.4zM271 308h12.1v1h-12.1zM285.1 315h11.9v1h-11.9zM271 328h12.1v1h-12.1zM285.1 329h11.9v1h-11.9z"/>
<path fill="#6e6e6e" d="M257.7 259h11.4v1h-11.4zM271 300h12.1v1h-12.1zM285.1 330h11.9v1h-11.9zM271 335h12.1v1h-12.1z"/>
<path fill="#626262" d="M271 259h12.1v1h-12.1zM271 260h12.1v1h-12.1zM271 311h12.1v1h-12.1zM285.1 332h11.9v1h-11.9zM261.4 545h7.7v5h-7.7z"/>
<path fill="#666666" d="M285.1 259h11.9v1h-11.9zM285.1 302h11.9v1h-11.9zM271 334h12.1v1h-12.1z"/>
<path fill="#6c6c6c" d="M243 260h11.9v1h-11.9zM271 294h12.1v1h-12.1zM243 298h11.9v1h-11.9zM285.1 310h11.9v1h-11.9zM285.1 317h11.9v1h-11.9zM243 334h11.9v1h-11.9z"/>
<path fill="#717171" d="M257.7 260h11.4v1h-11.4zM285.1 295h11.9v1h-11.9zM243 311h11.9v1h-11.9zM271 312h12.1v1h-12.1zM271 317h12.1v1h-12.1z"/>
<path fill="#6d6d6d" d="M257.7 261h11.4v1h-11.4zM243 293h11.9v1h-11.9zM285.1 294h11.9v1h-11.9zM285.1 298h11.9v1h-11.9zM271 299h12.1v1h-12.1zM285.1 308h11.9v1h-11.9zM271 315h12.1v1h-12.1zM271 332h12.1v1h-12.1z"/>
<path fill="#8f8f8f" d="M243 284h11.9v1h-11.9zM257.7 305h11.4v1h-11.4zM257.7 325h11.4v1h-11.4zM243 327h11.9v1h-11.9z"/>
<path fill="#9c9c9c" d="M257.7 284h11.4v1h-11.4z"/>
<path fill="#8a8a8a" d="M271 284h12.1v1h-12.1zM285.1 290h11.9v1h-11.9zM257.7 296h11.4v1h-11.4zM243 297h11.9v1h-11.9z"/>
<path fill="#8e8e8e" d="M285.1 284h11.9v1h-11.9zM243 289h11.9v1h-11.9zM257.7 290h11.4v1h-11.4z"/>
<path fill="#8b8b8b" d="M243 285h11.9v1h-11.9zM285.1 285h11.9v1h-11.9zM257.7 286h11.4v1h-11.4zM285.1 287h11.9v1h-11.9z"/>
<path fill="#909090" d="M257.7 285h11.4v1h-11.4z"/>
<path fill="#878787" d="M271 285h12.1v1h-12.1zM243 288h11.9v1h-11.9zM285.1 289h11.9v1h-11.9zM257.7 291h11.4v1h-11.4zM257.7 310h11.4v1h-11.4z"/>
<path fill="#838383" d="M243 286h11.9v1h-11.9zM271 288h12.1v1h-12.1zM257.7 329h11.4v1h-11.4z"/>
<path fill="#818181" d="M271 286h12.1v1h-12.1zM285.1 293h11.9v1h-11.9zM285.1 296h11.9v1h-11.9zM243 300h11.9v1h-11.9zM285.1 300h11.9v1h-11.9zM243 306h11.9v1h-11.9zM271 309h12.1v1h-12.1zM257.7 315h11.4v1h-11.4zM257.7 326h11.4v1h-11.4z"/>
<path fill="#868686" d="M285.1 286h11.9v1h-11.9zM257.7 327h11.4v1h-11.4zM243 330h11.9v1h-11.9z"/>
<path fill="#858585" d="M243 287h11.9v1h-11.9zM285.1 288h11.9v1h-11.9zM271 289h12.1v1h-12.1zM271 305h12.1v1h-12.1zM257.7 307h11.4v1h-11.4zM257.7 312h11.4v1h-11.4z"/>
<path fill="#959595" d="M257.7 287h11.4v1h-11.4zM257.7 288h11.4v1h-11.4z"/>
<path fill="#888888" d="M271 287h12.1v1h-12.1zM271 301h12.1v1h-12.1zM243 309h11.9v1h-11.9zM257.7 313h11.4v1h-11.4zM243 314h11.9v1h-11.9zM271 314h12.1v1h-12.1z"/>
<path fill="#8d8d8d" d="M257.7 289h11.4v1h-11.4zM285.1 297h11.9v1h-11.9z"/>
<path fill="#7d7d7d" d="M243 290h11.9v1h-11.9zM243 296h11.9v1h-11.9zM271 297h12.1v1h-12.1zM257.7 298h11.4v1h-11.4zM243 316h11.9v1h-11.9zM285.1 331h11.9v1h-11.9z"/>
<path fill="#808080" d="M271 290h12.1v1h-12.1zM285.1 305h11.9v1h-11.9zM257.7 308h11.4v1h-11.4zM257.7 328h11.4v1h-11.4z"/>
<path fill="#777777" d="M243 291h11.9v1h-11.9zM257.7 294h11.4v1h-11.4zM271 296h12.1v1h-12.1zM285.1 307h11.9v1h-11.9zM271 325h12.1v1h-12.1zM271 329h12.1v1h-12.1z"/>
<path fill="#7e7e7e" d="M271 291h12.1v1h-12.1zM285.1 304h11.9v1h-11.9zM257.7 306h11.4v1h-11.4zM271 316h12.1v1h-12.1zM271 331h12.1v1h-12.1z"/>
<path fill="#7a7a7a" d="M285.1 291h11.9v1h-11.9zM257.7 302h11.4v1h-11.4zM243 312h11.9v1h-11.9z"/>
<path fill="#787878" d="M243 292h11.9v1h-11.9zM257.7 293h11.4v1h-11.4zM285.1 306h11.9v1h-11.9zM285.1 326h11.9v1h-11.9zM243 335h11.9v1h-11.9z"/>
<path fill="#7f7f7f" d="M257.7 292h11.4v1h-11.4zM285.1 325h11.9v1h-11.9z"/>
<path fill="#757575" d="M271 292h12.1v1h-12.1zM243 308h11.9v1h-11.9zM257.7 311h11.4v1h-11.4zM285.1 327h11.9v1h-11.9zM285.1 328h11.9v1h-11.9z"/>
<path fill="#767676" d="M285.1 292h11.9v1h-11.9zM285.1 299h11.9v1h-11.9zM243 302h11.9v1h-11.9zM243 307h11.9v1h-11.9zM271 310h12.1v1h-12.1zM285.1 316h11.9v1h-11.9zM257.7 317h11.4v1h-11.4zM257.7 330h11.4v1h-11.4z"/>
<path fill="#707070" d="M271 293h12.1v1h-12.1zM285.1 312h11.9v1h-11.9z"/>
<path fill="#676767" d="M243 294h11.9v1h-11.9zM271 295h12.1v1h-12.1zM285.1 303h11.9v1h-11.9z"/>
<path fill="#686868" d="M243 295h11.9v1h-11.9zM271 307h12.1v1h-12.1zM257.7 335h11.4v1h-11.4z"/>
<path fill="#797979" d="M257.7 295h11.4v1h-11.4zM271 306h12.1v1h-12.1zM243 317h11.9v1h-11.9zM243 332h11.9v1h-11.9z"/>
<path fill="#898989" d="M257.7 297h11.4v1h-11.4zM243 304h11.9v1h-11.9zM285.1 314h11.9v1h-11.9z"/>
<path fill="#737373" d="M271 298h12.1v1h-12.1zM243 299h11.9v1h-11.9zM285.1 313h11.9v1h-11.9zM271 327h12.1v1h-12.1zM285.1 335h11.9v1h-11.9z"/>
<path fill="#848484" d="M257.7 300h11.4v1h-11.4z"/>
<path fill="#919191" d="M243 301h11.9v1h-11.9zM243 326h11.9v1h-11.9z"/>
<path fill="#939393" d="M257.7 301h11.4v1h-11.4zM243 329h11.9v1h-11.9zM243 331h11.9v1h-11.9z"/>
<path fill="#969696" d="M285.1 301h11.9v1h-11.9z"/>
<path fill="#6f6f6f" d="M271 302h12.1v1h-12.1zM243 303h11.9v1h-11.9zM271 326h12.1v1h-12.1zM243 336h11.9v1h-11.9z"/>
<path fill="#949494" d="M257.7 304h11.4v1h-11.4zM257.7 309h11.4v1h-11.4z"/>
<path fill="#7c7c7c" d="M271 304h12.1v1h-12.1zM285.1 309h11.9v1h-11.9zM243 315h11.9v1h-11.9z"/>
<path fill="#929292" d="M243 305h11.9v1h-11.9zM257.7 314h11.4v1h-11.4zM243 325h11.9v1h-11.9zM243 328h11.9v1h-11.9z"/>
<path fill="#6b6b6b" d="M271 313h12.1v1h-12.1zM271 330h12.1v1h-12.1zM257.7 332h11.4v1h-11.4z"/>
<path fill="#828282" d="M257.7 316h11.4v1h-11.4z"/>
<path fill="#8c8c8c" d="M257.7 331h11.4v1h-11.4z"/>
<path fill="#656565" d="M257.7 336h11.4v1h-11.4z"/>
<path fill="#696969" d="M271 336h12.1v1h-12.1zM285.1 336h11.9v1h-11.9z"/>
<path fill="#313131" d="M285.1 343h7.1v3h-7.1zM292.1 389h4.9v9h-4.9zM243 642h4.8v6h-4.8zM285.1 652h6.3v5h-6.3zM291.4 652h5.6v5h-5.6zM271 681h5.9v6h-5.9zM271 694h7.9v6h-7.9zM285.1 694h4.3v6h-4.3z"/>
<path fill="#5f5f5f" d="M264.3 516h4.8v8h-4.8z"/>
<path fill="#5b5b5b" d="M264.9 524h4.2v9h-4.2zM261.8 537h7.3v5h-7.3z"/>
<path fill="#2d2d2d" d="M285.1 560h7.8v7h-7.8zM292.9 560h4.1v7h-4.1zM289.5 567h7.5v4h-7.5zM291.5 664h5.5v8h-5.5zM285.1 681h4.5v6h-4.5zM292.2 687h4.8v4h-4.8zM292.3 711h4.7v8h-4.7zM278 719h5.1v1h-5.1z"/>
<path fill="#262626" d="M285.1 571h5.5v5h-5.5zM291.3 642h5.7v6h-5.7z"/>
<path fill="#303030" d="M290.6 571h6.4v5h-6.4zM247.8 642h7.1v6h-7.1zM292.4 648h4.6v4h-4.6zM276.9 681h6.2v6h-6.2zM292.5 707h4.5v4h-4.5z"/>
<path fill="#292929" d="M285.1 583h7.5v4h-7.5zM285.1 626h4.7v7h-4.7zM289.8 626h7.2v7h-7.2zM289.1 676h7.9v5h-7.9zM291.3 691h5.7v3h-5.7zM285.1 707h7.4v4h-7.4z"/>
<path fill="#272727" d="M292.6 583h4.4v4h-4.4zM285.1 587h5.4v7h-5.4z"/>
<path fill="#2a2a2a" d="M290.5 587h6.5v7h-6.5zM278.5 642h4.6v6h-4.6zM292.4 704h4.6v3h-4.6zM285.1 711h7.2v8h-7.2z"/>
<path fill="#343434" d="M291.8 600h5.2v7h-5.2zM285.1 616h6.3v3h-6.3zM278.5 648h4.6v4h-4.6zM289.2 657h7.8v4h-7.8zM271 664h7.4v8h-7.4zM271 691h5.1v3h-5.1zM278.9 694h4.2v6h-4.2zM250.1 704h4.8v3h-4.8zM271 711h5v8h-5z"/>
<path fill="#2c2c2c" d="M285.1 607h4.8v4h-4.8zM271 642h7.5v6h-7.5zM285.1 672h5.6v4h-5.6z"/>
<path fill="#282828" d="M289.9 607h7.1v4h-7.1z"/>
<path fill="#333333" d="M271 620h7.5v6h-7.5zM285.1 687h7.1v4h-7.1zM289.4 694h7.6v6h-7.6zM278.2 700h4.9v4h-4.9zM285.1 700h6.2v4h-6.2zM271 704h6.2v3h-6.2z"/>
<path fill="#242424" d="M285.1 642h6.2v6h-6.2z"/>
<path fill="#252525" d="M285.1 719h4.5v1h-4.5z"/>
</g>
<rect x="269.25" y="366" width="3" height="1" fill="#ff7000"/>
<rect x="170.25" y="637" width="1.4" height="1" fill="#ff9000"/>
<rect x="210.25" y="637" width="1.4" height="1" fill="#ff9000"/>
<rect x="233.75" y="637" width="1.4" height="1" fill="#ffb000"/>
<rect x="296.55" y="185" width="0.9" height="2" fill="#d00000"/>
<rect x="296.55" y="187" width="0.9" height="3" fill="#ff6000"/>
<rect x="296.55" y="172" width="0.9" height="1" fill="#d00000"/>
<path d="M131.25 105h176.9v1h-176.9zM131.25 120h176.9v1h-176.9zM131.25 136h176.9v1h-176.9zM131.25 140h176.9v8h-176.9zM131.25 191h176.9v1h-176.9zM131.25 203h176.9v1h-176.9zM131.25 219h176.9v1h-176.9zM131.25 224h176.9v1h-176.9zM131.25 240h176.9v1h-176.9zM131.25 243h176.9v1h-176.9zM131.25 244.8h176.9v2.4h-176.9zM131.25 263h176.9v1h-176.9zM131.25 266h176.9v1h-176.9zM131.25 269h176.9v1h-176.9zM131.25 289h176.9v1h-176.9zM131.25 301h176.9v1h-176.9zM131.25 321h176.9v1h-176.9zM131.25 330h176.9v1h-176.9zM131.25 339h176.9v1h-176.9zM131.25 342h176.9v1h-176.9zM131.25 345h176.9v1h-176.9zM131.25 348h176.9v1h-176.9zM131.25 364h176.9v1h-176.9zM131.25 367h176.9v1h-176.9zM131.25 370h176.9v2h-176.9zM131.25 375h176.9v1h-176.9zM131.25 386h176.9v2.2h-176.9zM131.25 397h176.9v3h-176.9zM131.25 405h176.9v1h-176.9zM131.25 408h176.9v1h-176.9zM131.25 414h176.9v1h-176.9zM131.25 440h176.9v1h-176.9zM131.25 442h176.9v3h-176.9zM131.25 461h176.9v2h-176.9zM131.25 489h176.9v2h-176.9zM131.25 492h176.9v1h-176.9zM131.25 516h176.9v2h-176.9zM131.25 520h176.9v4h-176.9zM131.25 529h176.9v1h-176.9zM131.25 533h176.9v1h-176.9zM131.25 535h176.9v1h-176.9zM131.25 544h176.9v1h-176.9zM131.25 549h176.9v4h-176.9zM131.25 557h176.9v1h-176.9zM131.25 559h176.9v1h-176.9zM131.25 563h176.9v1h-176.9zM131.25 578h176.9v1h-176.9zM131.25 590h176.9v2h-176.9zM131.25 598h176.9v1h-176.9zM131.25 603h176.9v2h-176.9zM131.25 609h176.9v1h-176.9zM131.25 622h176.9v1h-176.9zM131.25 625h176.9v1h-176.9zM131.25 627h176.9v1h-176.9zM131.25 631h176.9v1h-176.9zM131.25 633h176.9v1h-176.9zM131.25 639h176.9v1h-176.9zM131.25 654h176.9v1h-176.9zM131.25 663h176.9v1h-176.9zM131.25 669h176.9v1h-176.9zM131.25 672h176.9v1h-176.9zM131.25 680h176.9v1h-176.9zM131.25 693h176.9v1h-176.9zM131.25 700h176.9v1h-176.9zM131.25 707h176.9v1h-176.9zM131.25 717h176.9v1h-176.9z" fill="#fff"/>
<path d="M131.25 82h176.9v1h-176.9zM131.25 87h176.9v1h-176.9zM131.25 93h176.9v1h-176.9zM131.25 119h176.9v1h-176.9zM131.25 208h176.9v1h-176.9zM131.25 252h176.9v1h-176.9zM131.25 257h176.9v1h-176.9zM131.25 274h176.9v1h-176.9zM131.25 280h176.9v1h-176.9zM131.25 282h176.9v2h-176.9zM131.25 318h176.9v1h-176.9zM131.25 324h176.9v1h-176.9zM131.25 389h176.9v1h-176.9zM131.25 393h176.9v1h-176.9zM131.25 415h176.9v1h-176.9zM131.25 424h176.9v1h-176.9zM131.25 431h176.9v1.8h-176.9zM131.25 441h176.9v1h-176.9zM131.25 451h176.9v1h-176.9zM131.25 545h176.9v1h-176.9zM131.25 548h176.9v1h-176.9zM131.25 558h176.9v1h-176.9zM131.25 560h176.9v1h-176.9zM131.25 610h176.9v1h-176.9zM131.25 619h176.9v1h-176.9zM131.25 645h176.9v1h-176.9zM131.25 688h176.9v1h-176.9zM131.25 719h176.9v1h-176.9z" fill="#000"/>
<rect x="131.5" y="80.5" width="177" height="640" fill="none" stroke="#000" stroke-width="1"/>
<path d="M131.5 720.5v-5.6M131.5 80.5v5.6M173.5 720.5v-5.6M173.5 80.5v5.6M214.5 720.5v-5.6M214.5 80.5v5.6M256.5 720.5v-5.6M256.5 80.5v5.6M297.5 720.5v-5.6M297.5 80.5v5.6M131.5 720.5h5.6M308.5 720.5h-5.6M131.5 587.5h5.6M308.5 587.5h-5.6M131.5 453.5h5.6M308.5 453.5h-5.6M131.5 320.5h5.6M308.5 320.5h-5.6M131.5 187.5h5.6M308.5 187.5h-5.6" stroke="#000" stroke-width="0.7" fill="none"/>
<text x="131.62" y="735.7" font-size="12.5" letter-spacing="0.45" text-anchor="middle">320</text>
<text x="173.62" y="735.7" font-size="12.5" letter-spacing="0.45" text-anchor="middle">335</text>
<text x="214.62" y="735.7" font-size="12.5" letter-spacing="0.45" text-anchor="middle">350</text>
<text x="256.62" y="735.7" font-size="12.5" letter-spacing="0.45" text-anchor="middle">365</text>
<text x="297.62" y="735.7" font-size="12.5" letter-spacing="0.45" text-anchor="middle">380</text>
<text x="127.2" y="723.8" font-size="12.5" letter-spacing="0.3" text-anchor="end">0</text>
<text x="127.2" y="589.87" font-size="12.5" letter-spacing="0.3" text-anchor="end">5</text>
<text x="126" y="456.93" font-size="12.5" letter-spacing="0.3" text-anchor="end">10</text>
<text x="126" y="324" font-size="12.5" letter-spacing="0.3" text-anchor="end">15</text>
<text x="126.95" y="189.87" font-size="12.5" letter-spacing="0.3" text-anchor="end">20</text>
<text x="220.45" y="73.5" font-size="16.67" text-anchor="middle">XX, V4*V7=EA05*EA03</text>
<g filter="url(#jet)">
<rect x="343.53" y="80.0" width="176.9" height="640.0" fill="#292929"/>
<rect x="343.53" y="516" width="176.9" height="204.0" fill="#2c2c2c"/>
<rect x="343.53" y="148" width="176.9" height="2" fill="#333333"/>
<rect x="343.53" y="152" width="176.9" height="7" fill="#424242"/>
<rect x="343.53" y="161" width="176.9" height="2" fill="#404040"/>
<rect x="343.53" y="166" width="176.9" height="6" fill="#4f4f4f"/>
<rect x="343.53" y="174" width="176.9" height="2" fill="#404040"/>
<rect x="343.53" y="180" width="176.9" height="5" fill="#525252"/>
<rect x="343.53" y="185" width="176.9" height="6" fill="#2e2e2e"/>
<rect x="343.53" y="192" width="176.9" height="11" fill="#2b2b2b"/>
<rect x="343.53" y="81" width="176.9" height="1" fill="#4c4c4c"/>
<rect x="343.53" y="106" width="176.9" height="2" fill="#454545"/>
<rect x="343.53" y="546" width="176.9" height="2" fill="#474747"/>
<rect x="343.53" y="248" width="176.9" height="4" fill="#333333"/>
<rect x="343.53" y="275" width="176.9" height="6" fill="#545454"/>
<rect x="343.53" y="433" width="62" height="7" fill="#525252"/>
<rect x="405.53" y="433" width="50" height="7" fill="#404040"/>
<rect x="508.53" y="433" width="11.9" height="7" fill="#2b2b2b"/>
<rect x="343.53" y="524" width="176.9" height="5" fill="#3d3d3d"/>
<rect x="343.53" y="529" width="176.9" height="4" fill="#2e2e2e"/>
<rect x="343.53" y="533" width="176.9" height="6" fill="#333333"/>
<rect x="343.53" y="539" width="176.9" height="5" fill="#424242"/>
<rect x="343.53" y="553" width="176.9" height="4" fill="#4a4a4a"/>
<rect x="443.53" y="94" width="11.7" height="11" fill="#333333"/>
<rect x="454.88" y="80" width="12.7" height="2" fill="#b6b6b6"/>
<rect x="469.58" y="80" width="12.2" height="2" fill="#acacac"/>
<rect x="482.88" y="80" width="12.9" height="2" fill="#acacac"/>
<rect x="496.98" y="80" width="12.7" height="2" fill="#a2a2a2"/>
<rect x="454.88" y="83" width="12.7" height="4" fill="#c1c1c1"/>
<rect x="469.58" y="83" width="12.2" height="4" fill="#b6b6b6"/>
<rect x="482.88" y="83" width="12.9" height="4" fill="#b6b6b6"/>
<rect x="496.98" y="83" width="12.7" height="4" fill="#a7a7a7"/>
<rect x="454.88" y="88" width="12.7" height="3" fill="#b6b6b6"/>
<rect x="469.58" y="88" width="12.2" height="3" fill="#b6b6b6"/>
<rect x="482.88" y="88" width="12.9" height="3" fill="#bbbbbb"/>
<rect x="496.98" y="88" width="12.7" height="3" fill="#959595"/>
<rect x="455.28" y="91" width="11.9" height="3" fill="#6b6b6b"/>
<rect x="469.98" y="91" width="11.4" height="3" fill="#595959"/>
<rect x="483.28" y="91" width="12.1" height="3" fill="#595959"/>
<rect x="497.38" y="91" width="11.9" height="3" fill="#595959"/>
<rect x="454.88" y="94" width="12.7" height="5" fill="#c1c1c1"/>
<rect x="469.58" y="94" width="12.2" height="5" fill="#b6b6b6"/>
<rect x="482.88" y="94" width="12.9" height="5" fill="#acacac"/>
<rect x="496.98" y="94" width="12.7" height="5" fill="#a7a7a7"/>
<rect x="454.88" y="99" width="12.7" height="6" fill="#a7a7a7"/>
<rect x="469.58" y="99" width="12.2" height="6" fill="#a2a2a2"/>
<rect x="482.88" y="99" width="12.9" height="6" fill="#7a7a7a"/>
<rect x="496.98" y="99" width="12.7" height="6" fill="#9a9a9a"/>
<rect x="455.28" y="106" width="11.9" height="13" fill="#525252"/>
<rect x="469.98" y="106" width="11.4" height="13" fill="#4a4a4a"/>
<rect x="483.28" y="106" width="12.1" height="13" fill="#3d3d3d"/>
<rect x="497.38" y="106" width="11.9" height="13" fill="#383838"/>
<rect x="455.28" y="121" width="11.9" height="19" fill="#454545"/>
<rect x="469.98" y="121" width="11.4" height="19" fill="#383838"/>
<rect x="483.28" y="121" width="12.1" height="19" fill="#383838"/>
<rect x="497.38" y="121" width="11.9" height="19" fill="#2e2e2e"/>
<rect x="455.28" y="148" width="11.9" height="2" fill="#4d4d4d"/>
<rect x="469.98" y="148" width="11.4" height="2" fill="#4d4d4d"/>
<rect x="483.28" y="148" width="12.1" height="2" fill="#4d4d4d"/>
<rect x="497.38" y="148" width="11.9" height="2" fill="#4d4d4d"/>
<rect x="454.88" y="149" width="12.7" height="5" fill="#888888"/>
<rect x="469.58" y="149" width="12.2" height="5" fill="#959595"/>
<rect x="483.28" y="149" width="12.1" height="5" fill="#717171"/>
<rect x="496.98" y="149" width="12.7" height="5" fill="#7a7a7a"/>
<rect x="455.28" y="154" width="11.9" height="5" fill="#717171"/>
<rect x="469.98" y="154" width="11.4" height="5" fill="#5e5e5e"/>
<rect x="483.28" y="154" width="12.1" height="5" fill="#595959"/>
<rect x="497.38" y="154" width="11.9" height="5" fill="#6b6b6b"/>
<rect x="455.28" y="159" width="11.9" height="3" fill="#666666"/>
<rect x="469.58" y="159" width="12.2" height="3" fill="#7a7a7a"/>
<rect x="482.88" y="159" width="12.9" height="3" fill="#7a7a7a"/>
<rect x="497.38" y="159" width="11.9" height="3" fill="#666666"/>
<rect x="454.88" y="162" width="12.7" height="5" fill="#9d9d9d"/>
<rect x="469.58" y="162" width="12.2" height="5" fill="#b6b6b6"/>
<rect x="482.88" y="162" width="12.9" height="5" fill="#9a9a9a"/>
<rect x="496.98" y="162" width="12.7" height="5" fill="#7a7a7a"/>
<rect x="455.28" y="167" width="11.9" height="9" fill="#595959"/>
<rect x="469.98" y="167" width="11.4" height="9" fill="#595959"/>
<rect x="483.28" y="167" width="12.1" height="9" fill="#595959"/>
<rect x="497.38" y="167" width="11.9" height="9" fill="#595959"/>
<rect x="455.28" y="176" width="11.9" height="4" fill="#595959"/>
<rect x="469.58" y="176" width="12.2" height="4" fill="#8e8e8e"/>
<rect x="482.88" y="176" width="12.9" height="4" fill="#888888"/>
<rect x="497.38" y="176" width="11.9" height="4" fill="#595959"/>
<rect x="455.28" y="180" width="11.9" height="68" fill="#575757"/>
<rect x="469.98" y="180" width="11.4" height="68" fill="#595959"/>
<rect x="483.28" y="180" width="12.1" height="68" fill="#545454"/>
<rect x="497.38" y="180" width="11.9" height="68" fill="#474747"/>
<rect x="455.28" y="248" width="11.9" height="4" fill="#525252"/>
<rect x="469.98" y="248" width="11.4" height="4" fill="#525252"/>
<rect x="483.28" y="248" width="12.1" height="4" fill="#525252"/>
<rect x="497.38" y="248" width="11.9" height="4" fill="#525252"/>
<rect x="455.28" y="253" width="11.9" height="4" fill="#525252"/>
<rect x="469.98" y="253" width="11.4" height="4" fill="#6b6b6b"/>
<rect x="483.28" y="253" width="12.1" height="4" fill="#717171"/>
<rect x="497.38" y="253" width="11.9" height="4" fill="#595959"/>
<rect x="455.28" y="258" width="11.9" height="5" fill="#525252"/>
<rect x="469.98" y="258" width="11.4" height="5" fill="#525252"/>
<rect x="483.28" y="258" width="12.1" height="5" fill="#525252"/>
<rect x="497.38" y="258" width="11.9" height="5" fill="#525252"/>
<rect x="454.88" y="264" width="12.7" height="10" fill="#9a9a9a"/>
<rect x="469.58" y="264" width="12.2" height="10" fill="#888888"/>
<rect x="483.28" y="264" width="12.1" height="10" fill="#717171"/>
<rect x="496.98" y="264" width="12.7" height="10" fill="#8e8e8e"/>
<rect x="454.88" y="274" width="12.7" height="6" fill="#9a9a9a"/>
<rect x="469.98" y="274" width="11.4" height="6" fill="#717171"/>
<rect x="483.28" y="274" width="12.1" height="6" fill="#666666"/>
<rect x="496.98" y="274" width="12.7" height="6" fill="#888888"/>
<rect x="454.88" y="284" width="12.7" height="17" fill="#a7a7a7"/>
<rect x="469.58" y="284" width="12.2" height="17" fill="#9d9d9d"/>
<rect x="482.88" y="284" width="12.9" height="17" fill="#a2a2a2"/>
<rect x="496.98" y="284" width="12.7" height="17" fill="#9a9a9a"/>
<rect x="454.88" y="302" width="12.7" height="16" fill="#a7a7a7"/>
<rect x="469.58" y="302" width="12.2" height="16" fill="#9a9a9a"/>
<rect x="482.88" y="302" width="12.9" height="16" fill="#9a9a9a"/>
<rect x="496.98" y="302" width="12.7" height="16" fill="#959595"/>
<rect x="454.88" y="318" width="12.7" height="6" fill="#9a9a9a"/>
<rect x="469.58" y="318" width="12.2" height="6" fill="#888888"/>
<rect x="482.88" y="318" width="12.9" height="6" fill="#8e8e8e"/>
<rect x="496.98" y="318" width="12.7" height="6" fill="#888888"/>
<rect x="454.88" y="325" width="12.7" height="5" fill="#7a7a7a"/>
<rect x="469.98" y="325" width="11.4" height="5" fill="#666666"/>
<rect x="483.28" y="325" width="12.1" height="5" fill="#6b6b6b"/>
<rect x="497.38" y="325" width="11.9" height="5" fill="#717171"/>
<rect x="455.28" y="331" width="11.9" height="7" fill="#717171"/>
<rect x="469.98" y="331" width="11.4" height="7" fill="#666666"/>
<rect x="483.28" y="331" width="12.1" height="7" fill="#666666"/>
<rect x="496.98" y="331" width="12.7" height="7" fill="#7a7a7a"/>
<rect x="455.28" y="338" width="11.9" height="51" fill="#3d3d3d"/>
<rect x="469.98" y="338" width="11.4" height="51" fill="#3d3d3d"/>
<rect x="483.28" y="338" width="12.1" height="51" fill="#3d3d3d"/>
<rect x="497.38" y="338" width="11.9" height="51" fill="#303030"/>
<rect x="455.28" y="389" width="11.9" height="4" fill="#6b6b6b"/>
<rect x="469.98" y="389" width="11.4" height="4" fill="#666666"/>
<rect x="483.28" y="389" width="12.1" height="4" fill="#666666"/>
<rect x="497.38" y="389" width="11.9" height="4" fill="#595959"/>
<rect x="454.88" y="394" width="12.7" height="3" fill="#808080"/>
<rect x="469.58" y="394" width="12.2" height="3" fill="#7a7a7a"/>
<rect x="482.88" y="394" width="12.9" height="3" fill="#7a7a7a"/>
<rect x="497.38" y="394" width="11.9" height="3" fill="#6b6b6b"/>
<rect x="455.28" y="400" width="11.9" height="33" fill="#454545"/>
<rect x="469.98" y="400" width="11.4" height="33" fill="#474747"/>
<rect x="483.28" y="400" width="12.1" height="33" fill="#4a4a4a"/>
<rect x="497.38" y="400" width="11.9" height="33" fill="#3b3b3b"/>
<rect x="454.88" y="433" width="12.7" height="7" fill="#7a7a7a"/>
<rect x="469.58" y="433" width="12.2" height="7" fill="#a2a2a2"/>
<rect x="482.88" y="433" width="12.9" height="7" fill="#a7a7a7"/>
<rect x="496.98" y="433" width="12.7" height="7" fill="#9a9a9a"/>
<rect x="454.88" y="445" width="12.7" height="6" fill="#959595"/>
<rect x="469.98" y="445" width="11.4" height="6" fill="#717171"/>
<rect x="482.88" y="445" width="12.9" height="6" fill="#959595"/>
<rect x="496.98" y="445" width="12.7" height="6" fill="#959595"/>
<rect x="454.88" y="452" width="12.7" height="10" fill="#9a9a9a"/>
<rect x="469.58" y="452" width="12.2" height="10" fill="#959595"/>
<rect x="482.88" y="452" width="12.9" height="10" fill="#7a7a7a"/>
<rect x="496.98" y="452" width="12.7" height="10" fill="#959595"/>
<rect x="454.88" y="464" width="12.7" height="14" fill="#acacac"/>
<rect x="469.58" y="464" width="12.2" height="14" fill="#acacac"/>
<rect x="482.88" y="464" width="12.9" height="14" fill="#888888"/>
<rect x="497.38" y="464" width="11.9" height="14" fill="#717171"/>
<rect x="454.88" y="478" width="12.7" height="11" fill="#a7a7a7"/>
<rect x="469.58" y="478" width="12.2" height="11" fill="#b1b1b1"/>
<rect x="482.88" y="478" width="12.9" height="11" fill="#959595"/>
<rect x="497.38" y="478" width="11.9" height="11" fill="#717171"/>
<rect x="454.88" y="492" width="12.7" height="12" fill="#9a9a9a"/>
<rect x="469.58" y="492" width="12.2" height="12" fill="#a2a2a2"/>
<rect x="482.88" y="492" width="12.9" height="12" fill="#8e8e8e"/>
<rect x="497.38" y="492" width="11.9" height="12" fill="#717171"/>
<rect x="454.88" y="504" width="12.7" height="12" fill="#888888"/>
<rect x="469.58" y="504" width="12.2" height="12" fill="#9a9a9a"/>
<rect x="482.88" y="504" width="12.9" height="12" fill="#888888"/>
<rect x="496.98" y="504" width="12.7" height="12" fill="#888888"/>
<rect x="455.28" y="516" width="11.9" height="29" fill="#4d4d4d"/>
<rect x="469.98" y="516" width="11.4" height="29" fill="#4d4d4d"/>
<rect x="483.28" y="516" width="12.1" height="29" fill="#4d4d4d"/>
<rect x="497.38" y="516" width="11.9" height="29" fill="#424242"/>
<rect x="455.28" y="545" width="11.9" height="15" fill="#595959"/>
<rect x="469.98" y="545" width="11.4" height="15" fill="#5e5e5e"/>
<rect x="483.28" y="545" width="12.1" height="15" fill="#545454"/>
<rect x="497.38" y="545" width="11.9" height="15" fill="#4d4d4d"/>
<rect x="455.28" y="560" width="11.9" height="51" fill="#404040"/>
<rect x="469.98" y="560" width="11.4" height="51" fill="#3b3b3b"/>
<rect x="483.28" y="560" width="12.1" height="51" fill="#333333"/>
<rect x="497.38" y="560" width="11.9" height="51" fill="#2e2e2e"/>
<rect x="455.28" y="611" width="11.9" height="14" fill="#6b6b6b"/>
<rect x="469.98" y="611" width="11.4" height="14" fill="#575757"/>
<rect x="483.28" y="611" width="12.1" height="14" fill="#595959"/>
<rect x="497.38" y="611" width="11.9" height="14" fill="#4d4d4d"/>
<rect x="455.28" y="625" width="11.9" height="22" fill="#666666"/>
<rect x="469.98" y="625" width="11.4" height="22" fill="#4d4d4d"/>
<rect x="483.28" y="625" width="12.1" height="22" fill="#424242"/>
<rect x="497.38" y="625" width="11.9" height="22" fill="#3b3b3b"/>
<rect x="455.28" y="647" width="11.9" height="73" fill="#525252"/>
<rect x="469.98" y="647" width="11.4" height="73" fill="#404040"/>
<rect x="483.28" y="647" width="12.1" height="73" fill="#333333"/>
<rect x="497.38" y="647" width="11.9" height="73" fill="#2e2e2e"/>
<path fill="#4c4c4c" d="M455.3 106h7.4v6h-7.4zM455.3 112h6v6h-6zM497.4 196h5.3v8h-5.3zM502.7 196h6.6v8h-6.6zM497.4 261h11.9v1h-11.9zM501.9 551h7.4v3h-7.4zM497.4 611h4.1v4h-4.1zM470 625h5.1v7h-5.1zM462.9 668h4.3v4h-4.3z"/>
<path fill="#545454" d="M462.7 106h4.5v6h-4.5zM476.3 174h5.1v2h-5.1zM483.3 174h6.5v2h-6.5zM473.8 180h7.6v9h-7.6zM488 235h7.4v6h-7.4zM455.3 335h11.9v1h-11.9zM470 618h4.4v7h-4.4zM460.8 680h6.4v3h-6.4zM459.9 683h7.3v9h-7.3z"/>
<path fill="#444444" d="M470 106h5.1v6h-5.1zM455.3 129h6.2v8h-6.2zM503.7 180h5.5v9h-5.5zM497.4 193h7.6v3h-7.6zM483.3 259h12.1v1h-12.1zM455.3 338h4.3v8h-4.3zM459.6 338h7.6v8h-7.6zM462.9 349h4.2v8h-4.2zM483.3 349h6v8h-6zM470 357h5.1v8h-5.1zM475.6 403h5.7v9h-5.7zM503 415h6.3v3h-6.3zM470 421h6v7h-6zM470 428h7.4v5h-7.4zM483.3 428h7.9v5h-7.9zM505.1 525h4.2v8h-4.2zM460.7 569h6.5v6h-6.5zM470 607h5.9v3h-5.9zM470 672h7v4h-7zM470 692h5.8v8h-5.8z"/>
<path fill="#474747" d="M475.1 106h6.3v6h-6.3zM476.8 112h4.6v6h-4.6zM502.8 189h6.5v4h-6.5zM497.4 207h5.1v3h-5.1zM502.5 207h6.8v3h-6.8zM497.4 235h4.9v6h-4.9zM470 260h11.4v1h-11.4zM470 261h11.4v1h-11.4zM474.7 338h6.7v8h-6.7zM455.3 403h4.8v9h-4.8zM470 403h5.7v9h-5.7zM462.3 610h4.9v1h-4.9zM470 640h7.3v4h-7.3zM470 650h5.5v4h-5.5zM475.4 650h5.9v4h-5.9z"/>
<path fill="#3f3f3f" d="M483.3 106h4.4v6h-4.4zM476.2 365h5.1v6h-5.1zM483.3 365h5.6v6h-5.6zM470 378h6.4v3h-6.4zM502.8 533h6.5v8h-6.5zM477 560h4.4v5h-4.4zM455.3 607h6.1v3h-6.1zM461.4 607h5.8v3h-5.8zM476.2 610h5.2v1h-5.2zM488.5 625h6.9v7h-6.9zM489 632h6.4v8h-6.4zM490.6 640h4.8v4h-4.8zM470 668h4.7v4h-4.7zM470 683h6v9h-6z"/>
<path fill="#3b3b3b" d="M487.7 106h7.7v6h-7.7zM483.3 118h8v1h-8zM503.5 118h5.8v1h-5.8zM474.7 349h6.7v8h-6.7zM475.6 371h5.8v3h-5.8zM483.3 374h4.3v4h-4.3zM502.8 381h6.5v4h-6.5zM455.3 591h7.7v9h-7.7zM455.3 600h5.8v7h-5.8zM470 663h7.2v5h-7.2zM477.2 663h4.2v5h-4.2zM483.3 709h4.7v7h-4.7z"/>
<path fill="#3d3d3d" d="M497.4 106h6.7v6h-6.7zM475.4 121h6v8h-6zM476.2 374h5.2v4h-5.2zM490.7 381h4.6v4h-4.6zM503.9 403h5.4v9h-5.4zM504.8 418h4.5v3h-4.5zM475 569h6.4v6h-6.4zM503 640h6.3v4h-6.3zM470 654h7.5v9h-7.5zM474.9 700h6.5v9h-6.5z"/>
<path fill="#373737" d="M504 106h5.2v6h-5.2zM455.3 365h7.1v6h-7.1zM455.3 378h7.3v3h-7.3zM497.4 421h4.9v7h-4.9zM502.2 421h7v7h-7zM489.4 565h6v4h-6zM497.4 610h7.1v1h-7.1z"/>
<path fill="#4b4b4b" d="M461.3 112h5.9v6h-5.9zM455.3 137h6.4v3h-6.4zM497.4 230h6.8v5h-6.8zM497.4 258h11.9v1h-11.9zM470 415h6.6v3h-6.6zM455.3 516h7.9v9h-7.9zM497.4 618h5.1v7h-5.1zM502.4 618h6.8v7h-6.8zM475.1 625h6.3v7h-6.3zM455.3 663h7.6v5h-7.6z"/>
<path fill="#404040" d="M470 112h6.8v6h-6.8zM497.4 223h5.3v7h-5.3zM470 349h4.7v8h-4.7zM455.3 374h5.2v4h-5.2zM487.6 374h7.8v4h-7.8zM461.5 560h5.7v5h-5.7zM470 582h4.9v6h-4.9zM470 600h5.2v7h-5.2zM475.2 600h6.2v7h-6.2zM475.9 607h5.5v3h-5.5zM470 610h6.2v1h-6.2zM483.3 625h5.2v7h-5.2zM470 647h6.1v3h-6.1zM477.3 676h4.1v4h-4.1zM473.9 680h7.5v3h-7.5zM476 683h5.4v9h-5.4z"/>
<path fill="#333333" d="M483.3 112h4.1v6h-4.1zM503.1 338h6.2v8h-6.2zM455.3 371h7.4v3h-7.4zM489.3 371h6.1v3h-6.1zM504.9 374h4.4v4h-4.4zM483.3 569h5.3v6h-5.3zM497.4 588h4.3v3h-4.3zM483.3 607h4.5v3h-4.5zM483.3 610h6.7v1h-6.7zM504.5 610h4.8v1h-4.8zM483.3 654h4.2v9h-4.2zM504.9 672h4.3v4h-4.3zM483.3 676h7.7v4h-7.7zM483.3 700h4.4v9h-4.4z"/>
<path fill="#323232" d="M487.4 112h8v6h-8zM502.6 112h6.7v6h-6.7zM470 129h5.3v8h-5.3zM497.4 349h6.9v8h-6.9zM503.1 357h6.2v8h-6.2zM503.9 365h5.4v6h-5.4zM470 591h6.1v9h-6.1zM487.8 607h7.6v3h-7.6zM497.4 607h7.2v3h-7.2zM483.3 647h6v3h-6z"/>
<path fill="#343434" d="M497.4 112h5.2v6h-5.2zM501.5 137h7.8v3h-7.8zM497.4 365h6.5v6h-6.5zM462.7 371h4.5v3h-4.5zM470 371h5.6v3h-5.6zM483.3 371h6v3h-6zM483.3 385h5.5v4h-5.5zM489.6 560h5.7v5h-5.7zM501.7 588h7.6v3h-7.6zM476.1 591h5.3v9h-5.3zM483.3 692h7.3v8h-7.3z"/>
<path fill="#4e4e4e" d="M455.3 118h4.5v1h-4.5zM488 241h7.4v7h-7.4zM483.3 403h6v9h-6zM474.4 412h7v3h-7zM491.1 428h4.2v5h-4.2zM475.8 516h5.6v9h-5.6zM476 541h5.4v3h-5.4zM455.3 544h7.8v1h-7.8zM502.9 615h6.3v3h-6.3zM474.4 618h7v7h-7zM470 632h5.7v8h-5.7zM455.3 672h6v4h-6zM455.3 683h4.6v9h-4.6z"/>
<path fill="#4f4f4f" d="M459.8 118h7.4v1h-7.4zM497.4 214h6.8v6h-6.8zM455.3 223h7.3v7h-7.3zM459.8 235h7.4v6h-7.4zM476.5 400h4.9v3h-4.9zM483.3 412h6.5v3h-6.5zM470 418h4.2v3h-4.2zM470 516h5.8v9h-5.8zM470 533h3.8v8h-3.8zM473.8 533h7.6v8h-7.6zM483.3 533h7.5v8h-7.5zM483.3 544h4.2v1h-4.2zM497.4 554h6.8v6h-6.8zM497.4 615h5.6v3h-5.6zM475.7 632h5.7v8h-5.7zM455.3 680h5.5v3h-5.5zM455.3 700h5v9h-5z"/>
<path fill="#464646" d="M470 118h7.2v1h-7.2zM504.5 210h4.8v4h-4.8zM497.4 259h11.9v1h-11.9zM470 374h6.2v4h-6.2zM477.2 381h4.2v4h-4.2zM483.3 381h7.5v4h-7.5zM461.3 400h5.9v3h-5.9zM455.3 412h5.3v3h-5.3zM460.6 412h6.6v3h-6.6zM483.3 421h4.4v7h-4.4zM487.7 421h7.7v7h-7.7zM462.8 428h4.4v5h-4.4zM483.3 516h5.9v9h-5.9zM455.3 575h7.1v7h-7.1zM462.4 575h4.8v7h-4.8zM470 709h5.4v7h-5.4z"/>
<path fill="#484848" d="M477.1 118h4.2v1h-4.2zM461.5 129h5.7v8h-5.7zM497.4 204h5.2v3h-5.2zM502.6 204h6.7v3h-6.7zM455.3 258h11.9v1h-11.9zM483.3 258h12.1v1h-12.1zM455.3 261h11.9v1h-11.9zM470 338h4.7v8h-4.7zM483.3 338h6v8h-6zM470 412h4.4v3h-4.4zM455.3 418h4.8v3h-4.8zM462.7 421h4.5v7h-4.5z"/>
<path fill="#3a3a3a" d="M491.3 118h4.1v1h-4.1zM483.3 129h5.1v8h-5.1zM475.4 346h6v3h-6zM462.1 357h5.1v8h-5.1zM470 365h6.3v6h-6.3zM497.4 403h6.5v9h-6.5zM501.3 412h7.9v3h-7.9zM455.3 560h6.2v5h-6.2zM504.3 625h5v7h-5zM504.5 644h4.8v3h-4.8zM483.3 683h6.3v9h-6.3zM474.8 716h6.6v4h-6.6z"/>
<path fill="#393939" d="M497.4 118h6.1v1h-6.1zM489.2 121h6.2v8h-6.2zM475.6 137h5.8v3h-5.8zM462.9 346h4.3v3h-4.3zM475.1 357h6.3v8h-6.3zM470 560h7v5h-7zM476.3 575h5.1v7h-5.1zM463 591h4.2v9h-4.2zM490.6 600h4.8v7h-4.8zM483.3 644h7.1v3h-7.1zM483.3 650h7.8v4h-7.8zM491 676h4.4v4h-4.4z"/>
<path fill="#515151" d="M455.3 121h4.7v8h-4.7zM489.8 174h5.6v2h-5.6zM475.9 193h5.5v3h-5.5zM490.7 193h4.6v3h-4.6zM497.4 210h7.1v4h-7.1zM483.3 241h4.7v7h-4.7zM470 262h11.4v1h-11.4zM483.3 335h12.1v1h-12.1zM483.3 400h5.4v3h-5.4zM477.4 525h3.9v8h-3.9zM455.3 541h7.3v3h-7.3zM483.3 541h5.6v3h-5.6z"/>
<path fill="#4a4a4a" d="M459.9 121h7.2v8h-7.2zM504.1 230h5.1v5h-5.1zM470 258h11.4v1h-11.4zM470 259h11.4v1h-11.4zM470 400h6.5v3h-6.5zM476.6 415h4.8v3h-4.8zM483.3 418h5.7v3h-5.7zM476 421h5.4v7h-5.4zM501.5 611h7.8v4h-7.8zM477.3 640h4.1v4h-4.1zM455.3 647h7.1v3h-7.1z"/>
<path fill="#3e3e3e" d="M470 121h5.4v8h-5.4zM491.1 137h4.3v3h-4.3zM497.4 241h7.2v7h-7.2zM483.3 260h12.1v1h-12.1zM490.9 346h4.5v3h-4.5zM489.3 349h6.1v8h-6.1zM455.3 357h6.8v8h-6.8zM462.4 365h4.8v6h-4.8zM476.4 378h5v3h-5zM455.3 381h6.1v4h-6.1zM470 385h6.1v4h-6.1zM497.4 412h4v3h-4zM497.4 418h7.4v3h-7.4zM455.3 565h4.7v4h-4.7zM455.3 569h5.4v6h-5.4zM470 575h6.3v7h-6.3zM459.7 588h7.5v3h-7.5zM470 680h3.9v3h-3.9zM475.3 709h6v7h-6zM470 716h4.8v4h-4.8z"/>
<path fill="#383838" d="M483.3 121h5.9v8h-5.9zM475.3 129h6.1v8h-6.1zM483.3 137h7.8v3h-7.8zM497.4 338h5.7v8h-5.7zM488.9 365h6.5v6h-6.5zM476.1 385h5.3v4h-5.3zM497.4 428h7.9v5h-7.9zM474.8 582h6.5v6h-6.5zM489.3 582h6.1v6h-6.1zM483.3 600h7.3v7h-7.3zM490 610h5.4v1h-5.4zM502.9 632h6.4v8h-6.4zM497.4 650h7.7v4h-7.7zM487.8 672h7.6v4h-7.6zM488 709h7.4v7h-7.4zM483.3 716h4.6v4h-4.6z"/>
<path fill="#363636" d="M497.4 121h6.9v8h-6.9zM462.5 378h4.6v3h-4.6zM455.3 385h5.4v4h-5.4zM460.7 385h6.5v4h-6.5zM488.7 385h6.6v4h-6.6zM477.5 565h3.9v4h-3.9zM483.3 565h6.1v4h-6.1zM483.3 582h6v6h-6z"/>
<path fill="#2e2e2e" d="M504.3 121h5v8h-5zM503.6 129h5.7v8h-5.7zM497.4 371h4.1v3h-4.1zM497.4 374h7.5v4h-7.5zM502.5 385h6.8v4h-6.8zM488.6 569h6.8v6h-6.8zM504.5 569h4.8v6h-4.8zM497.4 575h7.7v7h-7.7zM505.1 650h4.2v4h-4.2zM483.3 663h7.5v5h-7.5zM497.4 668h7.9v4h-7.9z"/>
<path fill="#3c3c3c" d="M488.4 129h7v8h-7zM504.5 241h4.7v7h-4.7zM470 346h5.4v3h-5.4zM455.3 349h7.7v8h-7.7zM460.5 374h6.7v4h-6.7zM483.3 378h6.3v3h-6.3zM489.6 378h5.8v3h-5.8zM497.4 400h7.3v3h-7.3zM501.3 516h7.9v9h-7.9zM460 565h7.2v4h-7.2zM470 565h7.5v4h-7.5zM470 569h5v6h-5zM470 588h5.5v3h-5.5zM497.4 625h6.9v7h-6.9zM497.4 632h5.5v8h-5.5zM490.4 644h5v3h-5zM477.5 654h3.9v9h-3.9zM470 700h4.9v9h-4.9z"/>
<path fill="#2f2f2f" d="M497.4 129h6.2v8h-6.2zM497.4 357h5.7v8h-5.7zM483.3 575h6.7v7h-6.7zM483.3 588h7.4v3h-7.4zM489.3 647h6.1v3h-6.1zM503.1 647h6.2v3h-6.2zM497.4 654h7.8v9h-7.8zM483.3 680h7.5v3h-7.5zM497.4 692h4.5v8h-4.5zM502.8 709h6.5v7h-6.5z"/>
<path fill="#494949" d="M461.7 137h5.5v3h-5.5zM497.4 189h5.4v4h-5.4zM483.3 261h12.1v1h-12.1zM483.3 415h5v3h-5zM463.2 516h4v9h-4zM455.3 533h4.2v8h-4.2zM460.3 700h6.9v9h-6.9z"/>
<path fill="#424242" d="M470 137h5.6v3h-5.6zM502.3 235h7v6h-7zM460 403h7.1v9h-7.1zM455.3 582h5.5v6h-5.5zM460.7 582h6.4v6h-6.4zM455.3 588h4.4v3h-4.4zM470 644h7v3h-7zM477 644h4.4v3h-4.4zM476 647h5.3v3h-5.3z"/>
<path fill="#353535" d="M497.4 137h4.1v3h-4.1zM505.3 428h4v5h-4zM497.4 640h5.6v4h-5.6zM491.1 650h4.3v4h-4.3zM474.7 668h6.7v4h-6.7zM483.3 672h4.5v4h-4.5zM502.2 676h7.1v4h-7.1zM487.7 700h7.7v9h-7.7zM487.9 716h7.5v4h-7.5z"/>
<path fill="#5c5c5c" d="M455.3 167h5.3v7h-5.3zM455.3 196h6.5v8h-6.5zM455.3 210h5v4h-5zM470 210h5.8v4h-5.8zM476.6 220h4.8v3h-4.8zM460.9 230h6.3v5h-6.3zM470 329h11.4v1h-11.4zM470 332h11.4v1h-11.4zM483.3 332h12.1v1h-12.1zM470 551h4.2v3h-4.2zM476.4 611h5v4h-5zM455.3 644h7.3v3h-7.3zM455.3 650h6.2v4h-6.2zM461.5 650h5.7v4h-5.7z"/>
<path fill="#575757" d="M460.6 167h6.6v7h-6.6zM503.1 167h6.1v7h-6.1zM497.4 174h4.2v2h-4.2zM461.7 193h5.5v3h-5.5zM483.3 204h7.6v3h-7.6zM463.2 207h4v3h-4zM470 207h4.7v3h-4.7zM455.3 220h7.4v3h-7.4zM489.4 230h6v5h-6zM483.3 333h12.1v1h-12.1zM455.3 525h6.3v8h-6.3zM483.3 554h6.3v6h-6.3zM488.4 615h7v3h-7zM483.3 618h5.8v7h-5.8z"/>
<path fill="#595959" d="M470 167h5.4v7h-5.4zM455.3 204h6.4v3h-6.4zM483.3 207h4.3v3h-4.3zM475.7 214h5.7v6h-5.7zM462.7 220h4.5v3h-4.5zM470 220h6.6v3h-6.6zM462.5 223h4.6v7h-4.6zM470 241h5.9v7h-5.9zM459.6 554h7.6v6h-7.6zM483.3 611h4.7v4h-4.7zM455.3 692h7.5v8h-7.5z"/>
<path fill="#555555" d="M475.4 167h6v7h-6zM483.3 167h6.5v7h-6.5zM483.3 180h4.4v9h-4.4zM455.3 189h5v4h-5zM461.8 196h5.4v8h-5.4zM488.8 196h6.5v8h-6.5zM455.3 214h6.4v6h-6.4zM483.3 223h4.4v7h-4.4zM470 235h5v6h-5zM475.9 241h5.5v7h-5.5zM470 525h7.5v8h-7.5zM488.9 541h6.5v3h-6.5zM476.6 544h4.8v1h-4.8zM487.5 544h7.9v1h-7.9zM483.3 545h6.9v6h-6.9zM497.4 545h6.5v6h-6.5zM504.2 554h5.1v6h-5.1zM483.3 615h5.1v3h-5.1zM489.1 618h6.3v7h-6.3z"/>
<path fill="#585858" d="M489.7 167h5.6v7h-5.6zM455.3 174h7.6v2h-7.6zM501.6 174h7.7v2h-7.7zM483.3 214h4.8v6h-4.8zM470 335h11.4v1h-11.4zM470 336h11.4v1h-11.4zM455.3 554h4.3v6h-4.3zM489.6 554h5.8v6h-5.8z"/>
<path fill="#5f5f5f" d="M497.4 167h5.8v7h-5.8zM460.2 189h6.9v4h-6.9zM470 327h11.4v1h-11.4zM455.3 545h4.8v6h-4.8zM490.2 545h5.2v6h-5.2zM470 554h7.3v6h-7.3z"/>
<path fill="#4d4d4d" d="M462.8 174h4.3v2h-4.3zM504.2 214h5.1v6h-5.1zM497.4 220h5.1v3h-5.1zM483.3 235h4.7v6h-4.7zM462.1 241h5.1v7h-5.1zM455.3 400h6v3h-6zM460.1 418h7.1v3h-7.1zM459.5 533h7.7v8h-7.7zM470 541h6v3h-6zM470 544h6.6v1h-6.6zM455.3 654h7.9v9h-7.9zM455.3 668h7.6v4h-7.6z"/>
<path fill="#525252" d="M470 174h6.3v2h-6.3zM489.8 189h5.5v4h-5.5zM487.5 207h7.8v3h-7.8zM470 223h5.1v7h-5.1zM488.7 400h6.7v3h-6.7zM474.2 418h7.2v3h-7.2zM490.8 533h4.6v8h-4.6z"/>
<path fill="#535353" d="M455.3 180h7.1v9h-7.1zM462.4 180h4.8v9h-4.8zM470 193h5.9v3h-5.9zM455.3 207h7.9v3h-7.9zM488.1 214h7.3v6h-7.3zM455.3 241h6.8v7h-6.8zM455.3 262h11.9v1h-11.9zM489 418h6.4v3h-6.4zM483.3 525h5.3v8h-5.3zM462.6 541h4.6v3h-4.6zM503.9 545h5.4v6h-5.4zM476.6 615h4.7v3h-4.7zM462.8 716h4.4v4h-4.4z"/>
<path fill="#5a5a5a" d="M470 180h3.8v9h-3.8zM474.2 189h7.2v4h-7.2zM483.3 189h6.6v4h-6.6zM476.7 196h4.7v8h-4.7zM461.7 204h5.5v3h-5.5zM490.9 204h4.5v3h-4.5zM491.1 210h4.3v4h-4.3zM461.7 214h5.5v6h-5.5zM470 214h5.7v6h-5.7zM483.3 220h7.1v3h-7.1zM490.4 220h5v3h-5zM470 333h11.4v1h-11.4zM470 611h6.4v4h-6.4zM470 615h6.7v3h-6.7z"/>
<path fill="#565656" d="M487.7 180h7.7v9h-7.7zM475 223h6.3v7h-6.3zM455.3 230h5.6v5h-5.6zM483.3 230h6.1v5h-6.1zM455.3 235h4.5v6h-4.5zM483.3 262h12.1v1h-12.1zM497.4 262h11.9v1h-11.9zM470 328h11.4v1h-11.4zM461.6 525h5.6v8h-5.6zM488.1 551h7.3v3h-7.3zM497.4 551h4.5v3h-4.5zM462.7 692h4.4v8h-4.4zM461.2 709h6v7h-6z"/>
<path fill="#414141" d="M497.4 180h6.4v9h-6.4zM502.7 223h6.6v7h-6.6zM455.3 259h11.9v1h-11.9zM489.2 338h6.1v8h-6.1zM483.3 346h7.6v3h-7.6zM483.3 357h5.2v8h-5.2zM488.5 357h6.9v8h-6.9zM497.4 415h5.6v3h-5.6zM455.3 421h7.4v7h-7.4zM497.4 541h7.3v3h-7.3zM475.4 588h5.9v3h-5.9zM455.3 610h7v1h-7zM483.3 640h7.3v4h-7.3z"/>
<path fill="#5e5e5e" d="M470 189h4.2v4h-4.2zM470 196h6.7v8h-6.7zM460.3 210h6.9v4h-6.9zM483.3 210h7.8v4h-7.8zM477.7 230h3.7v5h-3.7zM483.3 325h12.1v1h-12.1zM455.3 333h11.9v1h-11.9zM462.9 551h4.2v3h-4.2zM488 611h7.4v4h-7.4z"/>
<path fill="#505050" d="M455.3 193h6.4v3h-6.4zM483.3 193h7.5v3h-7.5zM502.5 220h6.8v3h-6.8zM487.7 223h7.7v7h-7.7zM475 235h6.4v6h-6.4zM489.3 403h6.1v9h-6.1zM489.8 412h5.6v3h-5.6zM488.3 415h7.1v3h-7.1zM488.6 525h6.8v8h-6.8zM463 544h4.1v1h-4.1zM462.4 647h4.8v3h-4.8zM463.1 654h4v9h-4zM462.9 663h4.3v5h-4.3zM461.3 672h5.9v4h-5.9zM455.3 709h5.9v7h-5.9zM455.3 716h7.5v4h-7.5z"/>
<path fill="#434343" d="M505 193h4.3v3h-4.3zM455.3 260h11.9v1h-11.9zM455.3 346h7.6v3h-7.6zM461.4 381h5.8v4h-5.8zM470 381h7.2v4h-7.2zM455.3 415h7.9v3h-7.9zM455.3 428h7.5v5h-7.5zM497.4 525h7.7v8h-7.7zM497.4 544h7.7v1h-7.7zM505.1 544h4.2v1h-4.2zM483.3 632h5.7v8h-5.7zM477 672h4.4v4h-4.4zM470 676h7.3v4h-7.3zM475.8 692h5.6v8h-5.6z"/>
<path fill="#5d5d5d" d="M483.3 196h5.6v8h-5.6zM475.8 210h5.6v4h-5.6zM483.3 551h4.8v3h-4.8zM477.3 554h4.1v6h-4.1zM455.3 676h7v4h-7zM462.3 676h4.9v4h-4.9z"/>
<path fill="#606060" d="M470 204h4.1v3h-4.1zM474.7 207h6.7v3h-6.7zM483.3 334h12.1v1h-12.1zM460.1 545h7.1v6h-7.1z"/>
<path fill="#5b5b5b" d="M474.1 204h7.3v3h-7.3zM470 230h7.7v5h-7.7zM455.3 551h7.7v3h-7.7zM462.6 644h4.6v3h-4.6z"/>
<path fill="#454545" d="M497.4 260h11.9v1h-11.9zM504.7 400h4.6v3h-4.6zM463.2 415h4v3h-4zM477.4 428h4v5h-4zM489.2 516h6.2v9h-6.2zM497.4 516h4v9h-4zM497.4 533h5.4v8h-5.4zM504.7 541h4.6v3h-4.6zM461 600h6.1v7h-6.1z"/>
<path fill="#9a9a9a" d="M455.3 284h11.9v1h-11.9zM483.3 284h12.1v1h-12.1zM470 296h11.4v1h-11.4zM497.4 306h11.9v1h-11.9zM455.3 307h11.9v1h-11.9zM483.3 314h12.1v1h-12.1z"/>
<path fill="#8e8e8e" d="M470 284h11.4v1h-11.4zM483.3 285h12.1v1h-12.1zM483.3 286h12.1v1h-12.1zM497.4 298h11.9v1h-11.9zM497.4 314h11.9v1h-11.9z"/>
<path fill="#8a8a8a" d="M497.4 284h11.9v1h-11.9zM470 286h11.4v1h-11.4zM470 299h11.4v1h-11.4z"/>
<path fill="#999999" d="M455.3 285h11.9v1h-11.9zM470 290h11.4v1h-11.4zM455.3 293h11.9v1h-11.9zM455.3 302h11.9v1h-11.9zM455.3 308h11.9v1h-11.9z"/>
<path fill="#828282" d="M470 285h11.4v1h-11.4zM470 293h11.4v1h-11.4zM483.3 307h12.1v1h-12.1zM497.4 308h11.9v1h-11.9z"/>
<path fill="#858585" d="M497.4 285h11.9v1h-11.9zM497.4 312h11.9v1h-11.9zM470 316h11.4v1h-11.4z"/>
<path fill="#8d8d8d" d="M455.3 286h11.9v1h-11.9zM483.3 299h12.1v1h-12.1zM497.4 303h11.9v1h-11.9zM455.3 312h11.9v1h-11.9z"/>
<path fill="#888888" d="M497.4 286h11.9v1h-11.9zM470 289h11.4v1h-11.4z"/>
<path fill="#a1a1a1" d="M455.3 287h11.9v1h-11.9zM455.3 311h11.9v1h-11.9zM455.3 314h11.9v1h-11.9z"/>
<path fill="#979797" d="M470 287h11.4v1h-11.4zM497.4 288h11.9v1h-11.9zM497.4 290h11.9v1h-11.9zM455.3 292h11.9v1h-11.9zM455.3 313h11.9v1h-11.9z"/>
<path fill="#969696" d="M483.3 287h12.1v1h-12.1zM483.3 289h12.1v1h-12.1zM470 291h11.4v1h-11.4zM470 315h11.4v1h-11.4zM483.3 315h12.1v1h-12.1zM483.3 317h12.1v1h-12.1z"/>
<path fill="#919191" d="M497.4 287h11.9v1h-11.9zM470 292h11.4v1h-11.4zM483.3 293h12.1v1h-12.1zM470 304h11.4v1h-11.4z"/>
<path fill="#a9a9a9" d="M455.3 288h11.9v1h-11.9zM455.3 296h11.9v1h-11.9zM455.3 297h11.9v1h-11.9zM455.3 317h11.9v1h-11.9z"/>
<path fill="#a6a6a6" d="M470 288h11.4v1h-11.4zM455.3 304h11.9v1h-11.9zM455.3 306h11.9v1h-11.9z"/>
<path fill="#a3a3a3" d="M483.3 288h12.1v1h-12.1zM497.4 297h11.9v1h-11.9zM483.3 300h12.1v1h-12.1zM455.3 315h11.9v1h-11.9zM470 317h11.4v1h-11.4z"/>
<path fill="#9d9d9d" d="M455.3 289h11.9v1h-11.9zM455.3 303h11.9v1h-11.9zM470 305h11.4v1h-11.4zM497.4 305h11.9v1h-11.9z"/>
<path fill="#848484" d="M497.4 289h11.9v1h-11.9zM497.4 293h11.9v1h-11.9zM470 298h11.4v1h-11.4z"/>
<path fill="#acacac" d="M455.3 290h11.9v1h-11.9z"/>
<path fill="#a4a4a4" d="M483.3 290h12.1v1h-12.1z"/>
<path fill="#ababab" d="M455.3 291h11.9v1h-11.9z"/>
<path fill="#9b9b9b" d="M483.3 291h12.1v1h-12.1zM483.3 295h12.1v1h-12.1zM497.4 300h11.9v1h-11.9z"/>
<path fill="#959595" d="M497.4 291h11.9v1h-11.9zM483.3 294h12.1v1h-12.1zM497.4 294h11.9v1h-11.9zM497.4 296h11.9v1h-11.9zM455.3 298h11.9v1h-11.9zM483.3 304h12.1v1h-12.1z"/>
<path fill="#898989" d="M483.3 292h12.1v1h-12.1zM497.4 292h11.9v1h-11.9zM483.3 302h12.1v1h-12.1zM470 303h11.4v1h-11.4zM470 307h11.4v1h-11.4zM497.4 313h11.9v1h-11.9z"/>
<path fill="#a2a2a2" d="M455.3 294h11.9v1h-11.9zM455.3 295h11.9v1h-11.9z"/>
<path fill="#989898" d="M470 294h11.4v1h-11.4zM483.3 310h12.1v1h-12.1z"/>
<path fill="#939393" d="M470 295h11.4v1h-11.4zM455.3 299h11.9v1h-11.9zM470 313h11.4v1h-11.4zM497.4 315h11.9v1h-11.9z"/>
<path fill="#9c9c9c" d="M497.4 295h11.9v1h-11.9z"/>
<path fill="#a7a7a7" d="M483.3 296h12.1v1h-12.1z"/>
<path fill="#a8a8a8" d="M470 297h11.4v1h-11.4z"/>
<path fill="#aaaaaa" d="M483.3 297h12.1v1h-12.1zM455.3 305h11.9v1h-11.9z"/>
<path fill="#949494" d="M483.3 298h12.1v1h-12.1zM470 306h11.4v1h-11.4z"/>
<path fill="#878787" d="M497.4 299h11.9v1h-11.9z"/>
<path fill="#adadad" d="M455.3 300h11.9v1h-11.9z"/>
<path fill="#a5a5a5" d="M470 300h11.4v1h-11.4z"/>
<path fill="#838383" d="M470 302h11.4v1h-11.4zM483.3 309h12.1v1h-12.1z"/>
<path fill="#7d7d7d" d="M497.4 302h11.9v1h-11.9zM497.4 337h11.9v1h-11.9z"/>
<path fill="#929292" d="M483.3 303h12.1v1h-12.1zM497.4 304h11.9v1h-11.9z"/>
<path fill="#9e9e9e" d="M483.3 305h12.1v1h-12.1z"/>
<path fill="#9f9f9f" d="M483.3 306h12.1v1h-12.1zM470 314h11.4v1h-11.4zM497.4 317h11.9v1h-11.9z"/>
<path fill="#797979" d="M497.4 307h11.9v1h-11.9zM497.4 332h11.9v1h-11.9zM497.4 334h11.9v1h-11.9z"/>
<path fill="#909090" d="M470 308h11.4v1h-11.4zM455.3 309h11.9v1h-11.9zM470 310h11.4v1h-11.4z"/>
<path fill="#8c8c8c" d="M483.3 308h12.1v1h-12.1zM497.4 310h11.9v1h-11.9zM497.4 311h11.9v1h-11.9zM483.3 312h12.1v1h-12.1z"/>
<path fill="#818181" d="M470 309h11.4v1h-11.4zM497.4 309h11.9v1h-11.9zM470 312h11.4v1h-11.4z"/>
<path fill="#a0a0a0" d="M455.3 310h11.9v1h-11.9z"/>
<path fill="#8f8f8f" d="M470 311h11.4v1h-11.4zM483.3 313h12.1v1h-12.1z"/>
<path fill="#8b8b8b" d="M483.3 311h12.1v1h-12.1zM455.3 316h11.9v1h-11.9z"/>
<path fill="#7f7f7f" d="M483.3 316h12.1v1h-12.1zM497.4 331h11.9v1h-11.9z"/>
<path fill="#7c7c7c" d="M497.4 316h11.9v1h-11.9z"/>
<path fill="#6b6b6b" d="M455.3 325h11.9v1h-11.9zM497.4 325h11.9v1h-11.9zM483.3 326h12.1v1h-12.1zM459.7 618h7.4v7h-7.4z"/>
<path fill="#616161" d="M470 325h11.4v1h-11.4zM483.3 327h12.1v1h-12.1zM459.4 625h7.8v7h-7.8z"/>
<path fill="#767676" d="M455.3 326h11.9v1h-11.9z"/>
<path fill="#6a6a6a" d="M470 326h11.4v1h-11.4zM455.3 337h11.9v1h-11.9zM462.2 615h4.9v3h-4.9zM462.5 640h4.7v4h-4.7z"/>
<path fill="#717171" d="M497.4 326h11.9v1h-11.9z"/>
<path fill="#707070" d="M455.3 327h11.9v1h-11.9z"/>
<path fill="#6c6c6c" d="M497.4 327h11.9v1h-11.9zM455.3 332h11.9v1h-11.9z"/>
<path fill="#6d6d6d" d="M455.3 328h11.9v1h-11.9zM455.3 334h11.9v1h-11.9zM455.3 615h7v3h-7zM455.3 618h4.5v7h-4.5z"/>
<path fill="#646464" d="M483.3 328h12.1v1h-12.1z"/>
<path fill="#686868" d="M497.4 328h11.9v1h-11.9zM470 334h11.4v1h-11.4zM483.3 336h12.1v1h-12.1z"/>
<path fill="#6e6e6e" d="M455.3 329h11.9v1h-11.9zM470 331h11.4v1h-11.4zM455.3 336h11.9v1h-11.9zM462 611h5.2v4h-5.2z"/>
<path fill="#636363" d="M483.3 329h12.1v1h-12.1zM483.3 331h12.1v1h-12.1zM497.4 335h11.9v1h-11.9zM470 545h6.3v6h-6.3z"/>
<path fill="#656565" d="M497.4 329h11.9v1h-11.9zM497.4 333h11.9v1h-11.9zM470 337h11.4v1h-11.4zM474.2 551h7.2v3h-7.2zM455.3 632h6.7v8h-6.7z"/>
<path fill="#747474" d="M455.3 331h11.9v1h-11.9z"/>
<path fill="#777777" d="M497.4 336h11.9v1h-11.9z"/>
<path fill="#696969" d="M483.3 337h12.1v1h-12.1zM476.3 545h5.1v6h-5.1zM455.3 611h6.7v4h-6.7z"/>
<path fill="#2c2c2c" d="M497.4 346h5.5v3h-5.5zM502.6 565h6.7v4h-6.7zM483.3 591h7.4v9h-7.4zM497.4 683h6.6v9h-6.6zM497.4 700h7.9v9h-7.9z"/>
<path fill="#303030" d="M502.9 346h6.4v3h-6.4zM497.4 385h5.1v4h-5.1zM483.3 560h6.4v5h-6.4zM497.4 560h7.3v5h-7.3zM497.4 582h5.9v6h-5.9zM490.6 588h4.7v3h-4.7zM504.6 607h4.7v3h-4.7zM497.4 644h7.1v3h-7.1zM505.2 654h4.1v9h-4.1zM483.3 668h4.6v4h-4.6zM503.9 683h5.3v9h-5.3z"/>
<path fill="#2d2d2d" d="M504.2 349h5v8h-5zM497.4 378h5.3v3h-5.3zM502.7 378h6.6v3h-6.6zM497.4 565h5.2v4h-5.2zM497.4 569h7.1v6h-7.1zM497.4 591h4.8v9h-4.8zM505.3 668h4v4h-4zM497.4 672h7.6v4h-7.6zM490.8 680h4.6v3h-4.6zM504.4 680h4.9v3h-4.9z"/>
<path fill="#282828" d="M501.5 371h7.8v3h-7.8zM504.7 560h4.6v5h-4.6z"/>
<path fill="#313131" d="M497.4 381h5.4v4h-5.4zM490 575h5.4v7h-5.4zM497.4 600h5.8v7h-5.8zM490.7 663h4.6v5h-4.6zM497.4 676h4.8v4h-4.8zM497.4 680h7v3h-7zM489.6 683h5.8v9h-5.8zM490.6 692h4.8v8h-4.8zM497.4 709h5.4v7h-5.4z"/>
<path fill="#2b2b2b" d="M505 575h4.2v7h-4.2zM490.6 591h4.7v9h-4.7zM501.9 692h7.4v8h-7.4z"/>
<path fill="#2a2a2a" d="M503.3 582h6v6h-6zM503.1 600h6.1v7h-6.1zM503.9 716h5.4v4h-5.4z"/>
<path fill="#262626" d="M502.2 591h7.1v9h-7.1zM497.4 647h5.7v3h-5.7zM497.4 663h7.9v5h-7.9zM505.3 663h4v5h-4z"/>
<path fill="#626262" d="M455.3 625h4.1v7h-4.1zM455.3 640h7.2v4h-7.2z"/>
<path fill="#676767" d="M462 632h5.2v8h-5.2z"/>
<path fill="#292929" d="M487.5 654h7.9v9h-7.9zM487.8 668h7.5v4h-7.5z"/>
<path fill="#272727" d="M505.3 700h4v9h-4zM497.4 716h6.5v4h-6.5z"/>
</g>
<rect x="481.53" y="366" width="3" height="1" fill="#ff7000"/>
<rect x="382.53" y="637" width="1.4" height="1" fill="#ff9000"/>
<rect x="422.53" y="637" width="1.4" height="1" fill="#ff9000"/>
<rect x="446.03" y="637" width="1.4" height="1" fill="#ffb000"/>
<rect x="466.73" y="251" width="1.2" height="1" fill="#e02000"/>
<rect x="466.73" y="265" width="1.2" height="1" fill="#e02000"/>
<path d="M343.53 105h176.9v1h-176.9zM343.53 120h176.9v1h-176.9zM343.53 136h176.9v1h-176.9zM343.53 140h176.9v8h-176.9zM343.53 191h176.9v1h-176.9zM343.53 203h176.9v1h-176.9zM343.53 219h176.9v1h-176.9zM343.53 224h176.9v1h-176.9zM343.53 240h176.9v1h-176.9zM343.53 243h176.9v1h-176.9zM343.53 244.8h176.9v2.4h-176.9zM343.53 263h176.9v1h-176.9zM343.53 266h176.9v1h-176.9zM343.53 269h176.9v1h-176.9zM343.53 289h176.9v1h-176.9zM343.53 301h176.9v1h-176.9zM343.53 321h176.9v1h-176.9zM343.53 330h176.9v1h-176.9zM343.53 339h176.9v1h-176.9zM343.53 342h176.9v1h-176.9zM343.53 345h176.9v1h-176.9zM343.53 348h176.9v1h-176.9zM343.53 364h176.9v1h-176.9zM343.53 367h176.9v1h-176.9zM343.53 370h176.9v2h-176.9zM343.53 375h176.9v1h-176.9zM343.53 386h176.9v2.2h-176.9zM343.53 397h176.9v3h-176.9zM343.53 405h176.9v1h-176.9zM343.53 408h176.9v1h-176.9zM343.53 414h176.9v1h-176.9zM343.53 440h176.9v1h-176.9zM343.53 442h176.9v3h-176.9zM343.53 461h176.9v2h-176.9zM343.53 489h176.9v2h-176.9zM343.53 492h176.9v1h-176.9zM343.53 516h176.9v2h-176.9zM343.53 520h176.9v4h-176.9zM343.53 529h176.9v1h-176.9zM343.53 533h176.9v1h-176.9zM343.53 535h176.9v1h-176.9zM343.53 544h176.9v1h-176.9zM343.53 549h176.9v4h-176.9zM343.53 557h176.9v1h-176.9zM343.53 559h176.9v1h-176.9zM343.53 563h176.9v1h-176.9zM343.53 578h176.9v1h-176.9zM343.53 590h176.9v2h-176.9zM343.53 598h176.9v1h-176.9zM343.53 603h176.9v2h-176.9zM343.53 609h176.9v1h-176.9zM343.53 622h176.9v1h-176.9zM343.53 625h176.9v1h-176.9zM343.53 627h176.9v1h-176.9zM343.53 631h176.9v1h-176.9zM343.53 633h176.9v1h-176.9zM343.53 639h176.9v1h-176.9zM343.53 654h176.9v1h-176.9zM343.53 663h176.9v1h-176.9zM343.53 669h176.9v1h-176.9zM343.53 672h176.9v1h-176.9zM343.53 680h176.9v1h-176.9zM343.53 693h176.9v1h-176.9zM343.53 700h176.9v1h-176.9zM343.53 707h176.9v1h-176.9zM343.53 717h176.9v1h-176.9z" fill="#fff"/>
<path d="M343.53 82h176.9v1h-176.9zM343.53 87h176.9v1h-176.9zM343.53 93h176.9v1h-176.9zM343.53 119h176.9v1h-176.9zM343.53 208h176.9v1h-176.9zM343.53 252h176.9v1h-176.9zM343.53 257h176.9v1h-176.9zM343.53 274h176.9v1h-176.9zM343.53 280h176.9v1h-176.9zM343.53 282h176.9v2h-176.9zM343.53 318h176.9v1h-176.9zM343.53 324h176.9v1h-176.9zM343.53 389h176.9v1h-176.9zM343.53 393h176.9v1h-176.9zM343.53 415h176.9v1h-176.9zM343.53 424h176.9v1h-176.9zM343.53 431h176.9v1.8h-176.9zM343.53 441h176.9v1h-176.9zM343.53 451h176.9v1h-176.9zM343.53 545h176.9v1h-176.9zM343.53 548h176.9v1h-176.9zM343.53 558h176.9v1h-176.9zM343.53 560h176.9v1h-176.9zM343.53 610h176.9v1h-176.9zM343.53 619h176.9v1h-176.9zM343.53 645h176.9v1h-176.9zM343.53 688h176.9v1h-176.9zM343.53 719h176.9v1h-176.9z" fill="#000"/>
<rect x="344.5" y="80.5" width="176" height="640" fill="none" stroke="#000" stroke-width="1"/>
<path d="M344.5 720.5v-5.6M344.5 80.5v5.6M386.5 720.5v-5.6M386.5 80.5v5.6M427.5 720.5v-5.6M427.5 80.5v5.6M469.5 720.5v-5.6M469.5 80.5v5.6M510.5 720.5v-5.6M510.5 80.5v5.6M344.5 720.5h5.6M520.5 720.5h-5.6M344.5 587.5h5.6M520.5 587.5h-5.6M344.5 453.5h5.6M520.5 453.5h-5.6M344.5 320.5h5.6M520.5 320.5h-5.6M344.5 187.5h5.6M520.5 187.5h-5.6" stroke="#000" stroke-width="0.7" fill="none"/>
<text x="344.62" y="735.7" font-size="12.5" letter-spacing="0.45" text-anchor="middle">320</text>
<text x="385.62" y="735.7" font-size="12.5" letter-spacing="0.45" text-anchor="middle">335</text>
<text x="427.62" y="735.7" font-size="12.5" letter-spacing="0.45" text-anchor="middle">350</text>
<text x="468.62" y="735.7" font-size="12.5" letter-spacing="0.45" text-anchor="middle">365</text>
<text x="510.62" y="735.7" font-size="12.5" letter-spacing="0.45" text-anchor="middle">380</text>
<text x="340.2" y="723.8" font-size="12.5" letter-spacing="0.3" text-anchor="end">0</text>
<text x="340.2" y="589.87" font-size="12.5" letter-spacing="0.3" text-anchor="end">5</text>
<text x="339" y="456.93" font-size="12.5" letter-spacing="0.3" text-anchor="end">10</text>
<text x="339" y="324" font-size="12.5" letter-spacing="0.3" text-anchor="end">15</text>
<text x="339.95" y="189.87" font-size="12.5" letter-spacing="0.3" text-anchor="end">20</text>
<text x="432.73" y="73.5" font-size="16.67" text-anchor="middle">YY, V4*V7=EA05*EA03</text>
<g filter="url(#jet)">
<rect x="555.8" y="80.0" width="176.9" height="640.0" fill="#292929"/>
<rect x="555.8" y="516" width="176.9" height="204.0" fill="#2c2c2c"/>
<rect x="655.8" y="81" width="11.7" height="6" fill="#383838"/>
<rect x="655.8" y="94.5" width="11.7" height="10.5" fill="#333333"/>
<rect x="667.15" y="80" width="12.7" height="2" fill="#a2a2a2"/>
<rect x="681.85" y="80" width="12.2" height="2" fill="#888888"/>
<rect x="695.15" y="80" width="12.9" height="2" fill="#959595"/>
<rect x="709.25" y="80" width="12.7" height="2" fill="#959595"/>
<rect x="667.15" y="83" width="12.7" height="4" fill="#b1b1b1"/>
<rect x="681.85" y="83" width="12.2" height="4" fill="#8e8e8e"/>
<rect x="695.15" y="83" width="12.9" height="4" fill="#9d9d9d"/>
<rect x="709.25" y="83" width="12.7" height="4" fill="#9a9a9a"/>
<rect x="667.15" y="88" width="12.7" height="3" fill="#acacac"/>
<rect x="681.85" y="88" width="12.2" height="3" fill="#959595"/>
<rect x="695.15" y="88" width="12.9" height="3" fill="#9d9d9d"/>
<rect x="709.25" y="88" width="12.7" height="3" fill="#9a9a9a"/>
<rect x="667.55" y="91" width="11.9" height="2" fill="#717171"/>
<rect x="682.25" y="91" width="11.4" height="2" fill="#717171"/>
<rect x="695.55" y="91" width="12.1" height="2" fill="#717171"/>
<rect x="709.65" y="91" width="11.9" height="2" fill="#717171"/>
<rect x="667.15" y="94" width="12.7" height="5" fill="#bbbbbb"/>
<rect x="681.85" y="94" width="12.2" height="5" fill="#9d9d9d"/>
<rect x="695.15" y="94" width="12.9" height="5" fill="#a2a2a2"/>
<rect x="709.25" y="94" width="12.7" height="5" fill="#9a9a9a"/>
<rect x="667.15" y="99" width="12.7" height="6" fill="#a7a7a7"/>
<rect x="681.85" y="99" width="12.2" height="6" fill="#b1b1b1"/>
<rect x="695.15" y="99" width="12.9" height="6" fill="#a2a2a2"/>
<rect x="709.25" y="99" width="12.7" height="6" fill="#8e8e8e"/>
<rect x="667.55" y="106" width="11.9" height="7" fill="#454545"/>
<rect x="682.25" y="106" width="11.4" height="7" fill="#424242"/>
<rect x="695.55" y="106" width="12.1" height="7" fill="#3d3d3d"/>
<rect x="709.65" y="106" width="11.9" height="7" fill="#383838"/>
<rect x="667.55" y="113" width="11.9" height="6" fill="#575757"/>
<rect x="682.25" y="113" width="11.4" height="6" fill="#4d4d4d"/>
<rect x="695.55" y="113" width="12.1" height="6" fill="#454545"/>
<rect x="709.65" y="113" width="11.9" height="6" fill="#3d3d3d"/>
<rect x="667.55" y="121" width="11.9" height="19" fill="#454545"/>
<rect x="682.25" y="121" width="11.4" height="19" fill="#383838"/>
<rect x="695.55" y="121" width="12.1" height="19" fill="#383838"/>
<rect x="709.65" y="121" width="11.9" height="19" fill="#2e2e2e"/>
<rect x="667.55" y="148" width="11.9" height="1" fill="#4d4d4d"/>
<rect x="682.25" y="148" width="11.4" height="1" fill="#4d4d4d"/>
<rect x="695.55" y="148" width="12.1" height="1" fill="#4d4d4d"/>
<rect x="709.65" y="148" width="11.9" height="1" fill="#4d4d4d"/>
<rect x="667.15" y="149" width="12.7" height="5" fill="#8e8e8e"/>
<rect x="681.85" y="149" width="12.2" height="5" fill="#959595"/>
<rect x="695.15" y="149" width="12.9" height="5" fill="#888888"/>
<rect x="709.65" y="149" width="11.9" height="5" fill="#717171"/>
<rect x="667.15" y="154" width="12.7" height="4" fill="#7a7a7a"/>
<rect x="682.25" y="154" width="11.4" height="4" fill="#525252"/>
<rect x="695.55" y="154" width="12.1" height="4" fill="#5e5e5e"/>
<rect x="709.65" y="154" width="11.9" height="4" fill="#5e5e5e"/>
<rect x="667.55" y="158" width="11.9" height="4" fill="#717171"/>
<rect x="681.85" y="158" width="12.2" height="4" fill="#888888"/>
<rect x="695.15" y="158" width="12.9" height="4" fill="#838383"/>
<rect x="709.65" y="158" width="11.9" height="4" fill="#666666"/>
<rect x="667.15" y="162" width="12.7" height="5" fill="#9a9a9a"/>
<rect x="681.85" y="162" width="12.2" height="5" fill="#959595"/>
<rect x="695.15" y="162" width="12.9" height="5" fill="#8e8e8e"/>
<rect x="709.65" y="162" width="11.9" height="5" fill="#717171"/>
<rect x="667.55" y="167" width="11.9" height="9" fill="#4d4d4d"/>
<rect x="682.25" y="167" width="11.4" height="9" fill="#4d4d4d"/>
<rect x="695.55" y="167" width="12.1" height="9" fill="#4d4d4d"/>
<rect x="709.65" y="167" width="11.9" height="9" fill="#4a4a4a"/>
<rect x="667.55" y="176" width="11.9" height="4" fill="#595959"/>
<rect x="681.85" y="176" width="12.2" height="4" fill="#808080"/>
<rect x="695.15" y="176" width="12.9" height="4" fill="#838383"/>
<rect x="709.65" y="176" width="11.9" height="4" fill="#6b6b6b"/>
<rect x="667.55" y="180" width="11.9" height="68" fill="#525252"/>
<rect x="682.25" y="180" width="11.4" height="68" fill="#595959"/>
<rect x="695.55" y="180" width="12.1" height="68" fill="#525252"/>
<rect x="709.65" y="180" width="11.9" height="68" fill="#454545"/>
<rect x="667.55" y="253" width="11.9" height="4" fill="#717171"/>
<rect x="681.85" y="253" width="12.2" height="4" fill="#7a7a7a"/>
<rect x="695.15" y="253" width="12.9" height="4" fill="#7a7a7a"/>
<rect x="709.65" y="253" width="11.9" height="4" fill="#717171"/>
<rect x="667.55" y="258" width="11.9" height="5" fill="#6b6b6b"/>
<rect x="682.25" y="258" width="11.4" height="5" fill="#6b6b6b"/>
<rect x="695.55" y="258" width="12.1" height="5" fill="#666666"/>
<rect x="709.65" y="258" width="11.9" height="5" fill="#6b6b6b"/>
<rect x="667.15" y="263" width="12.7" height="3" fill="#7a7a7a"/>
<rect x="681.85" y="263" width="12.2" height="3" fill="#7a7a7a"/>
<rect x="695.15" y="263" width="12.9" height="3" fill="#7a7a7a"/>
<rect x="709.25" y="263" width="12.7" height="3" fill="#7a7a7a"/>
<rect x="667.15" y="266" width="12.7" height="8" fill="#9d9d9d"/>
<rect x="681.85" y="266" width="12.2" height="8" fill="#888888"/>
<rect x="695.15" y="266" width="12.9" height="8" fill="#838383"/>
<rect x="709.25" y="266" width="12.7" height="8" fill="#888888"/>
<rect x="667.15" y="274" width="12.7" height="6" fill="#a2a2a2"/>
<rect x="681.85" y="274" width="12.2" height="6" fill="#9a9a9a"/>
<rect x="695.15" y="274" width="12.9" height="6" fill="#7a7a7a"/>
<rect x="709.25" y="274" width="12.7" height="6" fill="#7a7a7a"/>
<rect x="667.15" y="284" width="12.7" height="6" fill="#989898"/>
<rect x="681.85" y="284" width="12.2" height="6" fill="#989898"/>
<rect x="695.15" y="284" width="12.9" height="6" fill="#909090"/>
<rect x="709.25" y="284" width="12.7" height="6" fill="#909090"/>
<rect x="667.15" y="290" width="12.7" height="12" fill="#a2a2a2"/>
<rect x="681.85" y="290" width="12.2" height="12" fill="#989898"/>
<rect x="695.15" y="290" width="12.9" height="12" fill="#959595"/>
<rect x="709.25" y="290" width="12.7" height="12" fill="#959595"/>
<rect x="667.15" y="302" width="12.7" height="16" fill="#9d9d9d"/>
<rect x="681.85" y="302" width="12.2" height="16" fill="#959595"/>
<rect x="695.15" y="302" width="12.9" height="16" fill="#8e8e8e"/>
<rect x="709.25" y="302" width="12.7" height="16" fill="#959595"/>
<rect x="667.15" y="318" width="12.7" height="6" fill="#a2a2a2"/>
<rect x="681.85" y="318" width="12.2" height="6" fill="#959595"/>
<rect x="695.15" y="318" width="12.9" height="6" fill="#888888"/>
<rect x="709.25" y="318" width="12.7" height="6" fill="#8e8e8e"/>
<rect x="667.15" y="325" width="12.7" height="6" fill="#8e8e8e"/>
<rect x="681.85" y="325" width="12.2" height="6" fill="#7a7a7a"/>
<rect x="695.15" y="325" width="12.9" height="6" fill="#7a7a7a"/>
<rect x="709.25" y="325" width="12.7" height="6" fill="#838383"/>
<rect x="667.55" y="331" width="11.9" height="7" fill="#717171"/>
<rect x="682.25" y="331" width="11.4" height="7" fill="#6b6b6b"/>
<rect x="695.55" y="331" width="12.1" height="7" fill="#666666"/>
<rect x="709.65" y="331" width="11.9" height="7" fill="#6b6b6b"/>
<rect x="667.55" y="338" width="11.9" height="51" fill="#424242"/>
<rect x="682.25" y="338" width="11.4" height="51" fill="#474747"/>
<rect x="695.55" y="338" width="12.1" height="51" fill="#424242"/>
<rect x="709.65" y="338" width="11.9" height="51" fill="#333333"/>
<rect x="667.55" y="389" width="11.9" height="8" fill="#595959"/>
<rect x="682.25" y="389" width="11.4" height="8" fill="#5e5e5e"/>
<rect x="695.55" y="389" width="12.1" height="8" fill="#595959"/>
<rect x="709.65" y="389" width="11.9" height="8" fill="#525252"/>
<rect x="667.55" y="400" width="11.9" height="33" fill="#454545"/>
<rect x="682.25" y="400" width="11.4" height="33" fill="#4d4d4d"/>
<rect x="695.55" y="400" width="12.1" height="33" fill="#4d4d4d"/>
<rect x="709.65" y="400" width="11.9" height="33" fill="#3d3d3d"/>
<rect x="667.15" y="433" width="12.7" height="7" fill="#7a7a7a"/>
<rect x="681.85" y="433" width="12.2" height="7" fill="#a7a7a7"/>
<rect x="695.15" y="433" width="12.9" height="7" fill="#b1b1b1"/>
<rect x="709.25" y="433" width="12.7" height="7" fill="#a7a7a7"/>
<rect x="667.15" y="445" width="12.7" height="6" fill="#888888"/>
<rect x="681.85" y="445" width="12.2" height="6" fill="#9a9a9a"/>
<rect x="695.15" y="445" width="12.9" height="6" fill="#a2a2a2"/>
<rect x="709.25" y="445" width="12.7" height="6" fill="#959595"/>
<rect x="667.15" y="452" width="12.7" height="10" fill="#888888"/>
<rect x="681.85" y="452" width="12.2" height="10" fill="#9a9a9a"/>
<rect x="695.15" y="452" width="12.9" height="10" fill="#a2a2a2"/>
<rect x="709.25" y="452" width="12.7" height="10" fill="#8e8e8e"/>
<rect x="667.15" y="464" width="12.7" height="14" fill="#9d9d9d"/>
<rect x="681.85" y="464" width="12.2" height="14" fill="#9a9a9a"/>
<rect x="695.15" y="464" width="12.9" height="14" fill="#9d9d9d"/>
<rect x="709.65" y="464" width="11.9" height="14" fill="#717171"/>
<rect x="667.15" y="478" width="12.7" height="11" fill="#a7a7a7"/>
<rect x="681.85" y="478" width="12.2" height="11" fill="#9d9d9d"/>
<rect x="695.15" y="478" width="12.9" height="11" fill="#959595"/>
<rect x="709.65" y="478" width="11.9" height="11" fill="#717171"/>
<rect x="667.15" y="492" width="12.7" height="12" fill="#9d9d9d"/>
<rect x="681.85" y="492" width="12.2" height="12" fill="#a2a2a2"/>
<rect x="695.15" y="492" width="12.9" height="12" fill="#959595"/>
<rect x="709.25" y="492" width="12.7" height="12" fill="#838383"/>
<rect x="667.15" y="504" width="12.7" height="12" fill="#8e8e8e"/>
<rect x="681.85" y="504" width="12.2" height="12" fill="#9d9d9d"/>
<rect x="695.15" y="504" width="12.9" height="12" fill="#8e8e8e"/>
<rect x="709.25" y="504" width="12.7" height="12" fill="#888888"/>
<rect x="667.55" y="516" width="11.9" height="29" fill="#525252"/>
<rect x="682.25" y="516" width="11.4" height="29" fill="#525252"/>
<rect x="695.55" y="516" width="12.1" height="29" fill="#525252"/>
<rect x="709.65" y="516" width="11.9" height="29" fill="#4a4a4a"/>
<rect x="667.55" y="545" width="11.9" height="15" fill="#5e5e5e"/>
<rect x="682.25" y="545" width="11.4" height="15" fill="#5e5e5e"/>
<rect x="695.55" y="545" width="12.1" height="15" fill="#595959"/>
<rect x="709.65" y="545" width="11.9" height="15" fill="#525252"/>
<rect x="667.55" y="560" width="11.9" height="51" fill="#454545"/>
<rect x="682.25" y="560" width="11.4" height="51" fill="#454545"/>
<rect x="695.55" y="560" width="12.1" height="51" fill="#3d3d3d"/>
<rect x="709.65" y="560" width="11.9" height="51" fill="#383838"/>
<rect x="667.55" y="611" width="11.9" height="36" fill="#616161"/>
<rect x="682.25" y="611" width="11.4" height="36" fill="#616161"/>
<rect x="695.55" y="611" width="12.1" height="36" fill="#595959"/>
<rect x="709.65" y="611" width="11.9" height="36" fill="#4a4a4a"/>
<rect x="667.55" y="647" width="11.9" height="73" fill="#4d4d4d"/>
<rect x="682.25" y="647" width="11.4" height="73" fill="#525252"/>
<rect x="695.55" y="647" width="12.1" height="73" fill="#454545"/>
<rect x="709.65" y="647" width="11.9" height="73" fill="#383838"/>
<path fill="#4b4b4b" d="M667.5 121h7.4v5h-7.4zM675.5 219h4v3h-4zM709.6 228h6.9v6h-6.9zM716.5 228h5v6h-5zM682.2 372h3.7v7h-3.7zM686.4 400h7.3v4h-7.3zM700.4 400h7.2v4h-7.2zM667.5 585h7.8v5h-7.8zM682.2 605h7v4h-7zM667.5 661h7.5v7h-7.5zM671.7 673h7.7v6h-7.7zM689.1 691h4.6v8h-4.6z"/>
<path fill="#424242" d="M674.9 121h4.5v5h-4.5zM695.5 174h5.6v2h-5.6zM709.6 174h7.8v2h-7.8zM702.7 338h5v4h-5zM709.6 400h6.4v4h-6.4zM695.5 422h5.9v4h-5.9zM675.5 572h4v6h-4zM682.2 572h5.9v6h-5.9zM714.6 585h7v5h-7zM702.2 699h5.5v3h-5.5zM701.9 715h5.8v5h-5.8z"/>
<path fill="#3c3c3c" d="M682.2 121h6.7v5h-6.7zM686 126h7.7v6h-7.7zM700.5 126h7.2v6h-7.2zM715.5 216h6.1v3h-6.1zM716 400h5.5v4h-5.5zM709.6 585h4.9v5h-4.9zM682.2 597h7.5v5h-7.5zM714.6 668h7v5h-7zM709.6 679h4.6v7h-4.6zM714.2 679h7.3v7h-7.3z"/>
<path fill="#3b3b3b" d="M689 121h4.7v5h-4.7zM714.3 212h7.3v4h-7.3zM709.6 219h6.1v3h-6.1zM716.3 222h5.2v6h-5.2zM700.5 342h7.1v8h-7.1zM701.8 379h5.9v8h-5.9zM671.6 422h7.8v4h-7.8zM709.6 422h6v4h-6zM671.9 560h7.6v7h-7.6zM715.1 572h6.4v6h-6.4zM709.6 578h5.6v7h-5.6zM702.9 602h4.7v3h-4.7zM701.8 605h5.8v4h-5.8zM702.8 661h4.8v7h-4.8zM709.6 673h4v6h-4zM714.5 699h7v3h-7zM709.6 715h7.9v5h-7.9z"/>
<path fill="#383838" d="M695.5 121h7.2v5h-7.2zM709.6 180h4.4v3h-4.4zM709.6 183h6.7v4h-6.7zM703.5 567h4.1v5h-4.1zM702.5 572h5.2v6h-5.2zM709.6 602h7.6v3h-7.6zM717.1 647h4.5v9h-4.5z"/>
<path fill="#373737" d="M702.8 121h4.9v5h-4.9zM667.5 379h5.1v8h-5.1zM709.6 590h7.2v7h-7.2zM714.2 656h7.4v5h-7.4zM713.7 673h7.9v6h-7.9zM709.6 686h6.1v5h-6.1zM717.6 702h4v4h-4zM709.6 706h6.2v9h-6.2z"/>
<path fill="#343434" d="M709.6 121h6.6v5h-6.6zM695.5 126h4.9v6h-4.9zM686.3 136h7.3v4h-7.3zM695.5 136h5.2v4h-5.2zM716.9 342h4.6v8h-4.6zM714.4 560h7.2v7h-7.2zM695.5 597h7.9v5h-7.9zM709.6 597h4.4v5h-4.4zM709.6 661h7.9v7h-7.9z"/>
<path fill="#323232" d="M716.2 121h5.3v5h-5.3zM682.2 132h6.3v4h-6.3zM688.6 132h5.1v4h-5.1zM716.1 136h5.4v4h-5.4zM709.6 350h7.6v7h-7.6z"/>
<path fill="#404040" d="M667.5 126h6.7v6h-6.7zM695.5 342h5v8h-5zM695.5 350h7.8v7h-7.8zM673.7 357h5.7v7h-5.7zM667.5 364h4.7v8h-4.7zM682.2 387h7.1v2h-7.1zM700.8 387h6.9v2h-6.9zM695.5 647h5.3v9h-5.3zM703.4 656h4.2v5h-4.2z"/>
<path fill="#414141" d="M674.2 126h5.2v6h-5.2zM686.5 174h7.2v2h-7.2zM701.2 174h6.5v2h-6.5zM674.1 350h5.3v7h-5.3zM701 357h6.6v7h-6.6zM689.4 364h4.2v8h-4.2zM695.5 379h6.2v8h-6.2zM667.5 422h4.1v4h-4.1zM667.5 560h4.3v7h-4.3zM695.5 572h6.9v6h-6.9zM674 691h5.5v8h-5.5zM695.5 702h4.2v4h-4.2z"/>
<path fill="#353535" d="M682.2 126h3.7v6h-3.7zM715.7 422h5.9v4h-5.9zM715.6 609h6v2h-6z"/>
<path fill="#272727" d="M709.6 126h4.1v6h-4.1z"/>
<path fill="#2e2e2e" d="M713.7 126h7.8v6h-7.8zM709.6 342h7.3v8h-7.3zM717.3 350h4.3v7h-4.3zM715.4 357h6.1v7h-6.1zM713.7 372h7.8v7h-7.8zM714.1 691h7.5v8h-7.5z"/>
<path fill="#434343" d="M667.5 132h6.9v4h-6.9zM688.2 167h5.4v7h-5.4zM674.5 174h5v2h-5zM682.2 174h4.2v2h-4.2zM717 204h4.6v5h-4.6zM673.5 342h5.9v8h-5.9zM703.3 350h4.3v7h-4.3zM700.4 364h7.2v8h-7.2zM695.5 372h7.1v7h-7.1zM667.5 387h6.2v2h-6.2zM716.4 404h5.2v9h-5.2zM716.5 413h5v5h-5zM682.2 567h3.8v5h-3.8zM675.4 585h4.1v5h-4.1zM682.2 590h6.5v7h-6.5zM695.5 590h7.2v7h-7.2zM716.5 620h5v6h-5zM700.6 673h7.1v6h-7.1zM695.5 686h5.9v5h-5.9zM701.4 686h6.2v5h-6.2zM695.5 699h6.6v3h-6.6z"/>
<path fill="#3a3a3a" d="M674.5 132h5v4h-5zM682.2 136h4.1v4h-4.1zM700.7 136h6.9v4h-6.9zM673.6 338h5.9v4h-5.9zM709.6 572h5.5v6h-5.5zM689.8 597h3.9v5h-3.9zM695.5 605h6.3v4h-6.3zM717.1 605h4.5v4h-4.5zM695.5 609h4.9v2h-4.9zM700.4 609h7.2v2h-7.2zM695.5 661h7.3v7h-7.3zM709.6 668h4.9v5h-4.9zM717.5 715h4v5h-4z"/>
<path fill="#2c2c2c" d="M695.5 132h7.9v4h-7.9zM709.6 357h5.8v7h-5.8z"/>
<path fill="#2f2f2f" d="M703.4 132h4.2v4h-4.2zM709.6 136h6.5v4h-6.5zM709.6 338h4.3v4h-4.3zM713.6 379h7.9v8h-7.9zM709.6 702h7.9v4h-7.9z"/>
<path fill="#262626" d="M709.6 132h6.8v4h-6.8z"/>
<path fill="#252525" d="M716.4 132h5.1v4h-5.1z"/>
<path fill="#444444" d="M667.5 136h6.7v4h-6.7zM703 167h4.7v7h-4.7zM709.6 194h4.3v7h-4.3zM714.1 234h7.5v7h-7.5zM686 357h7.6v7h-7.6zM695.5 357h5.5v7h-5.5zM673.7 387h5.7v2h-5.7zM695.5 387h5.2v2h-5.2zM709.6 404h6.7v9h-6.7zM667.5 418h4v4h-4zM709.6 418h5.2v4h-5.2zM701.5 422h6.2v4h-6.2zM682.2 560h5.4v7h-5.4zM688.1 572h5.5v6h-5.5zM667.5 597h4.5v5h-4.5zM713.8 638h7.7v8h-7.7zM695.5 691h6.1v8h-6.1z"/>
<path fill="#474747" d="M674.2 136h5.2v4h-5.2zM695.5 167h7.4v7h-7.4zM667.5 180h7v3h-7zM700.3 216h7.4v3h-7.4zM682.2 338h7v4h-7zM667.5 350h6.6v7h-6.6zM682.2 357h3.8v7h-3.8zM673.1 400h6.4v4h-6.4zM674.5 404h5v9h-5zM667.5 413h6.1v5h-6.1zM673.6 413h5.8v5h-5.8zM682.2 422h6.4v4h-6.4zM709.6 534h4.3v5h-4.3zM667.5 567h7.2v5h-7.2zM667.5 572h7.9v6h-7.9zM695.5 578h4.6v7h-4.6zM671.5 590h7.9v7h-7.9zM702.7 590h4.9v7h-4.9zM672.5 605h7v4h-7zM689.3 605h4.4v4h-4.4zM667.5 609h5v2h-5zM688.6 609h5v2h-5zM700.8 647h6.8v9h-6.8zM686.1 661h7.5v7h-7.5zM695.5 673h5v6h-5zM672.3 702h7.1v4h-7.1z"/>
<path fill="#4a4a4a" d="M667.5 167h7.7v7h-7.7zM701.9 194h5.8v7h-5.8zM695.5 222h5.2v6h-5.2zM682.2 342h6.4v8h-6.4zM667.5 400h5.5v4h-5.5zM682.2 400h4.1v4h-4.1zM674.8 567h4.7v5h-4.7zM709.6 646h5.6v1h-5.6zM667.5 668h6.7v5h-6.7zM695.5 679h4.5v7h-4.5zM673.9 686h5.5v5h-5.5zM667.5 715h4.2v5h-4.2z"/>
<path fill="#454545" d="M675.2 167h4.2v7h-4.2zM714.5 241h7.1v7h-7.1zM689.3 338h4.4v4h-4.4zM667.5 357h6.2v7h-6.2zM682.2 379h5.2v8h-5.2zM687.4 379h6.2v8h-6.2zM667.5 404h6.9v9h-6.9zM688.7 422h5v4h-5zM700.2 578h7.5v7h-7.5zM703.3 585h4.3v5h-4.3zM672.1 597h7.4v5h-7.4zM672.3 602h7.1v3h-7.1zM682.2 602h6.7v3h-6.7zM700 679h7.6v7h-7.6zM701.3 706h6.4v9h-6.4z"/>
<path fill="#494949" d="M682.2 167h6v7h-6zM667.5 212h6.6v4h-6.6zM688.7 342h5v8h-5zM682.2 350h5.6v7h-5.6zM687.8 350h5.8v7h-5.8zM682.2 364h7.2v8h-7.2zM673.4 372h6v7h-6zM702.7 372h5v7h-5zM716.2 539h5.3v6h-5.3zM682.2 578h5.1v7h-5.1zM687.3 578h6.3v7h-6.3zM688.8 590h4.9v7h-4.9zM709.6 620h6.9v6h-6.9zM709.6 638h4.2v8h-4.2zM682.2 661h3.9v7h-3.9zM695.5 706h5.7v9h-5.7zM695.5 715h6.3v5h-6.3z"/>
<path fill="#464646" d="M709.6 167h4.7v7h-4.7zM674.5 180h4.9v3h-4.9zM714 180h7.5v3h-7.5zM700.5 183h7.1v4h-7.1zM714 194h7.6v7h-7.6zM709.6 201h5.6v3h-5.6zM709.6 204h7.3v5h-7.3zM695.5 219h6.3v3h-6.3zM667.5 372h5.9v7h-5.9zM689.4 387h4.3v2h-4.3zM709.6 426h6.8v7h-6.8zM714 534h7.6v5h-7.6zM686 567h7.6v5h-7.6zM686.6 585h7.1v5h-7.1zM695.5 585h7.8v5h-7.8zM667.5 605h4.9v4h-4.9zM695.5 656h7.9v5h-7.9zM702.8 668h4.9v5h-4.9zM667.5 691h6.4v8h-6.4zM671.8 715h7.7v5h-7.7z"/>
<path fill="#484848" d="M714.4 167h7.2v7h-7.2zM667.5 216h7.1v3h-7.1zM674.7 426h4.8v7h-4.8zM716.5 525h5.1v9h-5.1zM675 578h4.5v7h-4.5zM672.6 609h6.9v2h-6.9zM682.2 609h6.4v2h-6.4zM709.6 626h7.8v8h-7.8zM672.6 706h6.9v9h-6.9z"/>
<path fill="#4d4d4d" d="M667.5 174h6.9v2h-6.9zM667.5 183h5v4h-5zM695.5 194h6.3v7h-6.3zM715.2 201h6.3v3h-6.3zM689.7 212h4v4h-4zM709.6 241h4.8v7h-4.8zM686 372h7.7v7h-7.7zM687 413h6.6v5h-6.6zM709.6 516h6.6v9h-6.6zM716.2 516h5.3v9h-5.3zM672 534h7.5v5h-7.5zM667.5 578h7.4v7h-7.4zM682.2 585h4.3v5h-4.3zM717.4 626h4.1v8h-4.1zM667.5 647h5.5v9h-5.5zM673.1 647h6.4v9h-6.4zM667.5 656h6.7v5h-6.7zM674.2 668h5.2v5h-5.2zM695.5 668h7.2v5h-7.2zM667.5 679h4.5v7h-4.5zM667.5 702h4.8v4h-4.8zM682.2 702h4.2v4h-4.2z"/>
<path fill="#3e3e3e" d="M717.5 174h4.1v2h-4.1zM709.6 212h4.6v4h-4.6zM667.5 342h6v8h-6zM695.5 364h4.9v8h-4.9zM716.5 426h5.1v7h-5.1zM687.6 560h6v7h-6zM695.5 567h8v5h-8zM716.8 567h4.8v5h-4.8zM715.3 578h6.3v7h-6.3zM699.8 702h7.9v4h-7.9z"/>
<path fill="#515151" d="M682.2 180h5.4v3h-5.4zM695.5 180h4.6v3h-4.6zM695.5 187h6.5v7h-6.5zM703.1 201h4.6v3h-4.6zM709.6 209h7.1v3h-7.1zM687.4 219h6.3v3h-6.3zM701.9 219h5.8v3h-5.8zM682.2 222h6.6v6h-6.6zM702.4 241h5.3v7h-5.3zM709.6 389h7.8v7h-7.8zM715.9 396h5.7v1h-5.7zM687.3 516h6.3v9h-6.3zM703 516h4.6v9h-4.6zM687.5 525h6.1v9h-6.1zM717.5 545h4v3h-4zM703.1 638h4.6v8h-4.6zM672.1 679h7.4v7h-7.4zM687.3 715h6.4v5h-6.4z"/>
<path fill="#5b5b5b" d="M687.7 180h6v3h-6zM682.2 336h11.4v1h-11.4zM695.5 389h5.2v7h-5.2zM703.3 545h4.4v3h-4.4zM715.9 555h5.6v5h-5.6zM672.2 620h7.2v6h-7.2zM701.1 646h6.6v1h-6.6zM688.6 668h5.1v5h-5.1z"/>
<path fill="#4e4e4e" d="M700.2 180h7.5v3h-7.5zM674.2 212h5.3v4h-5.3zM717.4 389h4.1v7h-4.1zM695.5 400h4.9v4h-4.9zM709.6 539h6.6v6h-6.6zM713.9 548h7.7v7h-7.7zM667.5 590h4v7h-4zM709.6 611h5.2v9h-5.2zM715.3 646h6.3v1h-6.3zM687.9 673h5.8v6h-5.8zM688.2 706h5.5v9h-5.5zM682.2 715h5v5h-5z"/>
<path fill="#4c4c4c" d="M672.6 183h6.9v4h-6.9zM667.5 201h4.9v3h-4.9zM671.8 241h7.6v7h-7.6zM701.7 426h6v7h-6zM709.6 525h6.8v9h-6.8zM709.6 545h7.9v3h-7.9zM709.6 634h6.4v4h-6.4zM682.2 647h6.7v9h-6.7zM675 661h4.4v7h-4.4zM667.5 686h6.4v5h-6.4zM682.2 691h6.8v8h-6.8z"/>
<path fill="#5a5a5a" d="M682.2 183h6.5v4h-6.5zM688 204h5.7v5h-5.7zM682.2 219h5.1v3h-5.1zM688.9 222h4.8v6h-4.8zM672.3 228h7.2v6h-7.2zM682.2 331h11.4v1h-11.4zM702.7 555h4.9v5h-4.9zM695.5 626h5.2v8h-5.2zM702.6 634h5.1v4h-5.1zM667.5 638h7.3v8h-7.3z"/>
<path fill="#4f4f4f" d="M688.7 183h4.9v4h-4.9zM695.5 204h6.1v5h-6.1zM701.6 204h6v5h-6zM716.8 209h4.8v3h-4.8zM682.2 212h7.4v4h-7.4zM695.5 212h5.6v4h-5.6zM667.5 228h4.7v6h-4.7zM709.6 234h4.4v7h-4.4zM682.2 404h5.3v9h-5.3zM671.5 418h7.9v4h-7.9zM702.5 418h5.2v4h-5.2zM714.9 611h6.7v9h-6.7zM701.3 620h6.4v6h-6.4zM686.8 679h6.9v7h-6.9zM682.2 686h5.1v5h-5.1zM682.2 699h4.1v3h-4.1zM686.4 702h7.2v4h-7.2z"/>
<path fill="#505050" d="M695.5 183h5v4h-5zM709.6 187h4.7v7h-4.7zM671.7 204h7.7v5h-7.7zM667.5 234h7.4v7h-7.4zM695.5 331h12.1v1h-12.1zM695.5 336h12.1v1h-12.1zM687.5 404h6.1v9h-6.1zM682.2 413h4.8v5h-4.8zM682.2 418h6.5v4h-6.5zM667.5 426h7.1v7h-7.1zM674.3 656h5.2v5h-5.2zM667.5 673h4.2v6h-4.2zM687.3 686h6.3v5h-6.3zM667.5 706h5v9h-5z"/>
<path fill="#393939" d="M716.4 183h5.2v4h-5.2zM667.5 338h6v4h-6zM695.5 338h7.1v4h-7.1zM672.3 364h7.2v8h-7.2zM709.6 372h4.1v7h-4.1zM703.6 560h4.1v7h-4.1zM709.6 567h7.1v5h-7.1zM703.4 597h4.2v5h-4.2zM695.5 602h7.4v3h-7.4z"/>
<path fill="#555555" d="M667.5 187h4.8v7h-4.8zM667.5 194h4v7h-4zM671.6 194h7.9v7h-7.9zM695.5 216h4.7v3h-4.7zM667.5 222h6.9v6h-6.9zM674.4 222h5v6h-5zM695.5 234h4.4v7h-4.4zM667.5 241h4.3v7h-4.3zM682.2 241h5.9v7h-5.9zM695.5 241h6.8v7h-6.8zM709.6 331h11.9v1h-11.9zM695.5 413h6.5v5h-6.5zM702.1 413h5.6v5h-5.6zM700.1 525h7.6v9h-7.6zM695.5 534h6.2v5h-6.2zM689.7 539h4v6h-4zM695.5 548h7.9v7h-7.9zM682.2 656h5v5h-5z"/>
<path fill="#545454" d="M672.3 187h7.1v7h-7.1zM714.3 187h7.2v7h-7.2zM674.7 216h4.8v3h-4.8zM702.4 228h5.3v6h-5.3zM695.5 260h12.1v1h-12.1zM682.2 337h11.4v1h-11.4zM695.5 404h6.1v9h-6.1zM688.7 418h4.9v4h-4.9zM682.2 516h5.1v9h-5.1zM667.5 539h4.2v6h-4.2zM695.5 539h6.4v6h-6.4zM709.6 555h6.3v5h-6.3zM667.5 699h5.6v3h-5.6zM673.1 699h6.3v3h-6.3z"/>
<path fill="#5e5e5e" d="M682.2 187h5.9v7h-5.9zM699.9 234h7.7v7h-7.7zM673.1 545h6.4v3h-6.4zM686.8 548h6.9v7h-6.9zM695.5 611h6.1v9h-6.1z"/>
<path fill="#676767" d="M688.1 187h5.5v7h-5.5zM667.5 258h11.9v1h-11.9zM709.6 259h11.9v1h-11.9zM709.6 261h11.9v1h-11.9zM695.5 262h12.1v1h-12.1zM688.2 555h5.5v5h-5.5zM682.2 634h7.4v4h-7.4zM667.5 646h5.2v1h-5.2z"/>
<path fill="#585858" d="M702.1 187h5.6v7h-5.6zM695.5 337h12.1v1h-12.1zM674.1 389h5.3v7h-5.3zM701.6 404h6v9h-6zM674.3 516h5.2v9h-5.2zM695.5 516h7.5v9h-7.5zM682.2 539h7.4v6h-7.4zM701.9 539h5.7v6h-5.7zM689 545h4.7v3h-4.7zM667.5 620h4.7v6h-4.7zM695.5 646h5.5v1h-5.5zM687.2 656h6.4v5h-6.4z"/>
<path fill="#525252" d="M682.2 194h4v7h-4zM700.8 222h6.9v6h-6.9zM674.9 234h4.5v7h-4.5zM688 426h5.6v7h-5.6zM667.5 516h6.7v9h-6.7zM673 525h6.4v9h-6.4zM682.2 534h7.4v5h-7.4zM701.7 534h5.9v5h-5.9zM671.7 539h7.7v6h-7.7zM716 634h5.5v4h-5.5zM682.2 706h5.9v9h-5.9z"/>
<path fill="#5d5d5d" d="M686.3 194h7.4v7h-7.4zM682.2 201h5.2v3h-5.2zM672.2 209h7.3v3h-7.3zM682.2 389h7.4v7h-7.4zM673.2 396h6.3v1h-6.3zM675 548h4.5v7h-4.5zM701.7 611h6v9h-6z"/>
<path fill="#575757" d="M672.4 201h7v3h-7zM689.6 389h4v7h-4zM689.7 534h4v5h-4zM709.6 548h4.2v7h-4.2zM682.2 668h6.3v5h-6.3z"/>
<path fill="#5f5f5f" d="M687.4 201h6.2v3h-6.2zM682.2 260h11.4v1h-11.4zM695.5 396h5.7v1h-5.7zM703.4 548h4.2v7h-4.2zM689.7 634h4v4h-4z"/>
<path fill="#595959" d="M695.5 201h7.5v3h-7.5zM682.2 204h5.7v5h-5.7zM682.2 216h7v3h-7zM695.5 228h6.8v6h-6.8zM688.1 241h5.5v7h-5.5zM700.7 389h6.9v7h-6.9zM701.2 396h6.4v1h-6.4zM695.5 525h4.5v9h-4.5zM695.5 545h7.7v3h-7.7zM695.5 555h7.2v5h-7.2zM695.5 620h5.7v6h-5.7zM682.2 638h5.8v8h-5.8z"/>
<path fill="#565656" d="M667.5 204h4.2v5h-4.2zM699.7 209h7.9v3h-7.9zM667.5 337h11.9v1h-11.9zM709.6 337h11.9v1h-11.9zM709.6 396h6.2v1h-6.2zM682.2 426h5.8v7h-5.8zM695.5 426h6.1v7h-6.1zM682.2 673h5.6v6h-5.6zM682.2 679h4.5v7h-4.5z"/>
<path fill="#606060" d="M667.5 209h4.6v3h-4.6zM709.6 260h11.9v1h-11.9zM688.4 620h5.2v6h-5.2zM682.2 626h6.9v8h-6.9zM667.5 634h5.9v4h-5.9z"/>
<path fill="#636363" d="M682.2 209h7.5v3h-7.5zM689.8 209h3.9v3h-3.9zM695.5 334h12.1v1h-12.1zM709.6 336h11.9v1h-11.9zM667.5 548h7.4v7h-7.4zM674.8 555h4.6v5h-4.6zM682.2 646h7.3v1h-7.3z"/>
<path fill="#5c5c5c" d="M695.5 209h4.2v3h-4.2zM682.2 228h6.3v6h-6.3zM682.2 234h4.4v7h-4.4zM686.7 234h7v7h-7zM695.5 258h12.1v1h-12.1zM667.5 260h11.9v1h-11.9zM695.5 335h12.1v1h-12.1zM682.2 545h6.7v3h-6.7zM682.2 548h4.5v7h-4.5zM688.1 638h5.6v8h-5.6z"/>
<path fill="#535353" d="M701.2 212h6.5v4h-6.5zM689.3 216h4.4v3h-4.4zM667.5 219h7.9v3h-7.9zM667.5 389h6.6v7h-6.6zM695.5 418h6.9v4h-6.9zM667.5 525h5.5v9h-5.5zM682.2 525h5.3v9h-5.3zM667.5 534h4.4v5h-4.4zM695.5 638h7.5v8h-7.5zM689 647h4.7v9h-4.7zM686.3 699h7.3v3h-7.3z"/>
<path fill="#3f3f3f" d="M709.6 216h5.8v3h-5.8zM701.7 691h6v8h-6z"/>
<path fill="#3d3d3d" d="M715.8 219h5.8v3h-5.8zM709.6 222h6.7v6h-6.7zM672.6 379h6.8v8h-6.8zM709.6 413h6.9v5h-6.9zM714.8 418h6.7v4h-6.7zM716.8 590h4.7v7h-4.7zM667.5 602h4.8v3h-4.8zM689 602h4.7v3h-4.7zM709.6 609h5.9v2h-5.9zM715.8 686h5.8v5h-5.8z"/>
<path fill="#656565" d="M688.6 228h5.1v6h-5.1zM667.5 334h11.9v1h-11.9zM682.2 396h5.7v1h-5.7zM671.6 611h7.9v9h-7.9zM682.2 611h4.5v9h-4.5zM689.5 646h4.1v1h-4.1z"/>
<path fill="#6b6b6b" d="M682.2 258h11.4v1h-11.4zM709.6 262h11.9v1h-11.9zM695.5 332h12.1v1h-12.1z"/>
<path fill="#6a6a6a" d="M709.6 258h11.9v1h-11.9zM682.2 259h11.4v1h-11.4z"/>
<path fill="#696969" d="M667.5 259h11.9v1h-11.9zM682.2 332h11.4v1h-11.4zM709.6 332h11.9v1h-11.9zM695.5 333h12.1v1h-12.1zM682.2 335h11.4v1h-11.4zM667.5 611h4v9h-4zM672.8 646h6.7v1h-6.7z"/>
<path fill="#646464" d="M695.5 259h12.1v1h-12.1zM667.5 336h11.9v1h-11.9zM688 396h5.7v1h-5.7zM667.5 545h5.5v3h-5.5zM672.2 626h7.3v8h-7.3zM689.1 626h4.5v8h-4.5z"/>
<path fill="#707070" d="M667.5 261h11.9v1h-11.9z"/>
<path fill="#686868" d="M682.2 261h11.4v1h-11.4zM695.5 261h12.1v1h-12.1z"/>
<path fill="#6d6d6d" d="M667.5 262h11.9v1h-11.9z"/>
<path fill="#6f6f6f" d="M682.2 262h11.4v1h-11.4zM709.6 334h11.9v1h-11.9z"/>
<path fill="#8c8c8c" d="M667.5 284h11.9v1h-11.9zM695.5 286h12.1v1h-12.1zM709.6 286h11.9v1h-11.9zM709.6 288h11.9v1h-11.9zM695.5 300h12.1v1h-12.1zM682.2 310h11.4v1h-11.4z"/>
<path fill="#8f8f8f" d="M682.2 284h11.4v1h-11.4zM682.2 295h11.4v1h-11.4zM695.5 297h12.1v1h-12.1zM695.5 302h12.1v1h-12.1zM682.2 303h11.4v1h-11.4zM695.5 307h12.1v1h-12.1zM709.6 309h11.9v1h-11.9zM709.6 315h11.9v1h-11.9z"/>
<path fill="#828282" d="M695.5 284h12.1v1h-12.1zM709.6 325h11.9v1h-11.9z"/>
<path fill="#838383" d="M709.6 284h11.9v1h-11.9zM695.5 295h12.1v1h-12.1zM667.5 330h11.9v1h-11.9z"/>
<path fill="#9a9a9a" d="M667.5 285h11.9v1h-11.9zM667.5 301h11.9v1h-11.9zM667.5 313h11.9v1h-11.9z"/>
<path fill="#989898" d="M682.2 285h11.4v1h-11.4zM667.5 287h11.9v1h-11.9zM682.2 290h11.4v1h-11.4zM667.5 304h11.9v1h-11.9zM667.5 317h11.9v1h-11.9z"/>
<path fill="#949494" d="M695.5 285h12.1v1h-12.1zM667.5 296h11.9v1h-11.9zM667.5 297h11.9v1h-11.9zM709.6 303h11.9v1h-11.9zM682.2 308h11.4v1h-11.4zM667.5 310h11.9v1h-11.9z"/>
<path fill="#959595" d="M709.6 285h11.9v1h-11.9zM695.5 287h12.1v1h-12.1zM682.2 302h11.4v1h-11.4zM695.5 303h12.1v1h-12.1zM667.5 308h11.9v1h-11.9zM667.5 312h11.9v1h-11.9z"/>
<path fill="#8d8d8d" d="M667.5 286h11.9v1h-11.9zM682.2 299h11.4v1h-11.4zM667.5 305h11.9v1h-11.9zM667.5 306h11.9v1h-11.9zM709.6 308h11.9v1h-11.9zM709.6 310h11.9v1h-11.9zM709.6 311h11.9v1h-11.9z"/>
<path fill="#939393" d="M682.2 286h11.4v1h-11.4zM667.5 290h11.9v1h-11.9zM682.2 313h11.4v1h-11.4zM667.5 315h11.9v1h-11.9z"/>
<path fill="#9c9c9c" d="M682.2 287h11.4v1h-11.4zM667.5 292h11.9v1h-11.9z"/>
<path fill="#919191" d="M709.6 287h11.9v1h-11.9zM667.5 288h11.9v1h-11.9zM682.2 288h11.4v1h-11.4zM695.5 289h12.1v1h-12.1zM709.6 289h11.9v1h-11.9zM682.2 294h11.4v1h-11.4zM682.2 297h11.4v1h-11.4zM667.5 309h11.9v1h-11.9zM709.6 313h11.9v1h-11.9zM682.2 316h11.4v1h-11.4z"/>
<path fill="#858585" d="M695.5 288h12.1v1h-12.1zM709.6 291h11.9v1h-11.9zM709.6 298h11.9v1h-11.9zM709.6 301h11.9v1h-11.9zM709.6 314h11.9v1h-11.9zM709.6 326h11.9v1h-11.9zM667.5 328h11.9v1h-11.9z"/>
<path fill="#999999" d="M667.5 289h11.9v1h-11.9zM667.5 291h11.9v1h-11.9zM709.6 307h11.9v1h-11.9z"/>
<path fill="#9b9b9b" d="M682.2 289h11.4v1h-11.4zM682.2 300h11.4v1h-11.4z"/>
<path fill="#878787" d="M695.5 290h12.1v1h-12.1zM682.2 291h11.4v1h-11.4zM682.2 314h11.4v1h-11.4z"/>
<path fill="#868686" d="M709.6 290h11.9v1h-11.9zM695.5 304h12.1v1h-12.1zM695.5 312h12.1v1h-12.1zM667.5 327h11.9v1h-11.9z"/>
<path fill="#8b8b8b" d="M695.5 291h12.1v1h-12.1zM667.5 299h11.9v1h-11.9zM695.5 308h12.1v1h-12.1zM682.2 315h11.4v1h-11.4z"/>
<path fill="#979797" d="M682.2 292h11.4v1h-11.4zM709.6 300h11.9v1h-11.9zM667.5 302h11.9v1h-11.9zM667.5 307h11.9v1h-11.9zM682.2 307h11.4v1h-11.4zM682.2 312h11.4v1h-11.4zM709.6 312h11.9v1h-11.9zM667.5 316h11.9v1h-11.9z"/>
<path fill="#898989" d="M695.5 292h12.1v1h-12.1zM667.5 293h11.9v1h-11.9zM682.2 298h11.4v1h-11.4zM682.2 309h11.4v1h-11.4zM695.5 309h12.1v1h-12.1zM695.5 315h12.1v1h-12.1z"/>
<path fill="#969696" d="M709.6 292h11.9v1h-11.9zM682.2 304h11.4v1h-11.4zM709.6 304h11.9v1h-11.9z"/>
<path fill="#848484" d="M682.2 293h11.4v1h-11.4zM709.6 296h11.9v1h-11.9zM709.6 299h11.9v1h-11.9z"/>
<path fill="#8a8a8a" d="M695.5 293h12.1v1h-12.1zM695.5 301h12.1v1h-12.1zM682.2 306h11.4v1h-11.4zM667.5 311h11.9v1h-11.9zM682.2 311h11.4v1h-11.4zM709.6 317h11.9v1h-11.9zM667.5 326h11.9v1h-11.9z"/>
<path fill="#7d7d7d" d="M709.6 293h11.9v1h-11.9zM695.5 299h12.1v1h-12.1zM709.6 305h11.9v1h-11.9zM695.5 311h12.1v1h-12.1zM695.5 325h12.1v1h-12.1zM709.6 328h11.9v1h-11.9z"/>
<path fill="#a4a4a4" d="M667.5 294h11.9v1h-11.9z"/>
<path fill="#909090" d="M695.5 294h12.1v1h-12.1zM709.6 294h11.9v1h-11.9zM709.6 302h11.9v1h-11.9zM667.5 314h11.9v1h-11.9zM695.5 316h12.1v1h-12.1z"/>
<path fill="#9e9e9e" d="M667.5 295h11.9v1h-11.9z"/>
<path fill="#888888" d="M709.6 295h11.9v1h-11.9zM695.5 298h12.1v1h-12.1zM682.2 301h11.4v1h-11.4z"/>
<path fill="#8e8e8e" d="M682.2 296h11.4v1h-11.4zM667.5 329h11.9v1h-11.9z"/>
<path fill="#818181" d="M695.5 296h12.1v1h-12.1zM695.5 313h12.1v1h-12.1z"/>
<path fill="#929292" d="M709.6 297h11.9v1h-11.9zM667.5 298h11.9v1h-11.9zM682.2 317h11.4v1h-11.4zM667.5 325h11.9v1h-11.9z"/>
<path fill="#9d9d9d" d="M667.5 300h11.9v1h-11.9zM709.6 316h11.9v1h-11.9z"/>
<path fill="#a6a6a6" d="M667.5 303h11.9v1h-11.9z"/>
<path fill="#7c7c7c" d="M682.2 305h11.4v1h-11.4zM695.5 306h12.1v1h-12.1z"/>
<path fill="#767676" d="M695.5 305h12.1v1h-12.1zM695.5 329h12.1v1h-12.1z"/>
<path fill="#808080" d="M709.6 306h11.9v1h-11.9z"/>
<path fill="#7f7f7f" d="M695.5 310h12.1v1h-12.1zM695.5 317h12.1v1h-12.1zM709.6 327h11.9v1h-11.9zM709.6 329h11.9v1h-11.9z"/>
<path fill="#787878" d="M695.5 314h12.1v1h-12.1zM695.5 326h12.1v1h-12.1z"/>
<path fill="#7e7e7e" d="M682.2 325h11.4v1h-11.4z"/>
<path fill="#777777" d="M682.2 326h11.4v1h-11.4zM709.6 330h11.9v1h-11.9z"/>
<path fill="#747474" d="M682.2 327h11.4v1h-11.4zM682.2 330h11.4v1h-11.4zM682.2 333h11.4v1h-11.4z"/>
<path fill="#727272" d="M695.5 327h12.1v1h-12.1zM695.5 330h12.1v1h-12.1zM709.6 333h11.9v1h-11.9z"/>
<path fill="#717171" d="M682.2 328h11.4v1h-11.4z"/>
<path fill="#757575" d="M695.5 328h12.1v1h-12.1zM667.5 332h11.9v1h-11.9zM667.5 333h11.9v1h-11.9z"/>
<path fill="#797979" d="M682.2 329h11.4v1h-11.4z"/>
<path fill="#616161" d="M667.5 331h11.9v1h-11.9zM667.5 396h5.6v1h-5.6zM700.8 626h6.9v8h-6.9z"/>
<path fill="#626262" d="M682.2 334h11.4v1h-11.4zM682.2 620h6.2v6h-6.2zM695.5 634h7v4h-7zM674.9 638h4.6v8h-4.6z"/>
<path fill="#6e6e6e" d="M667.5 335h11.9v1h-11.9z"/>
<path fill="#666666" d="M709.6 335h11.9v1h-11.9zM667.5 555h7.3v5h-7.3zM682.2 555h5.9v5h-5.9zM686.7 611h6.9v9h-6.9zM667.5 626h4.6v8h-4.6zM673.4 634h6v4h-6z"/>
<path fill="#2d2d2d" d="M714 338h7.6v4h-7.6zM717.6 661h4v7h-4zM709.6 691h4.4v8h-4.4z"/>
<path fill="#2a2a2a" d="M709.6 364h6.8v8h-6.8z"/>
<path fill="#333333" d="M716.4 364h5.1v8h-5.1zM709.6 387h5.9v2h-5.9zM695.5 560h8v7h-8zM709.6 656h4.5v5h-4.5z"/>
<path fill="#2b2b2b" d="M709.6 379h4v8h-4z"/>
<path fill="#313131" d="M715.6 387h6v2h-6zM709.6 560h4.7v7h-4.7zM717.2 602h4.3v3h-4.3z"/>
<path fill="#303030" d="M714 597h7.5v5h-7.5z"/>
<path fill="#363636" d="M709.6 605h7.4v4h-7.4zM709.6 647h7.4v9h-7.4zM709.6 699h4.9v3h-4.9zM715.9 706h5.7v9h-5.7z"/>
</g>
<rect x="693.8" y="366" width="3" height="1" fill="#ff7000"/>
<rect x="594.8" y="637" width="1.4" height="1" fill="#ff9000"/>
<rect x="634.8" y="637" width="1.4" height="1" fill="#ff9000"/>
<rect x="658.3" y="637" width="1.4" height="1" fill="#ffb000"/>
<rect x="721.1" y="185" width="0.9" height="2" fill="#d00000"/>
<rect x="721.1" y="187" width="0.9" height="3" fill="#ff6000"/>
<rect x="721.1" y="172" width="0.9" height="1" fill="#d00000"/>
<path d="M555.8 105h176.9v1h-176.9zM555.8 120h176.9v1h-176.9zM555.8 136h176.9v1h-176.9zM555.8 140h176.9v8h-176.9zM555.8 191h176.9v1h-176.9zM555.8 203h176.9v1h-176.9zM555.8 219h176.9v1h-176.9zM555.8 224h176.9v1h-176.9zM555.8 240h176.9v1h-176.9zM555.8 243h176.9v1h-176.9zM555.8 244.8h176.9v2.4h-176.9zM555.8 263h176.9v1h-176.9zM555.8 266h176.9v1h-176.9zM555.8 269h176.9v1h-176.9zM555.8 289h176.9v1h-176.9zM555.8 301h176.9v1h-176.9zM555.8 321h176.9v1h-176.9zM555.8 330h176.9v1h-176.9zM555.8 339h176.9v1h-176.9zM555.8 342h176.9v1h-176.9zM555.8 345h176.9v1h-176.9zM555.8 348h176.9v1h-176.9zM555.8 364h176.9v1h-176.9zM555.8 367h176.9v1h-176.9zM555.8 370h176.9v2h-176.9zM555.8 375h176.9v1h-176.9zM555.8 386h176.9v2.2h-176.9zM555.8 397h176.9v3h-176.9zM555.8 405h176.9v1h-176.9zM555.8 408h176.9v1h-176.9zM555.8 414h176.9v1h-176.9zM555.8 440h176.9v1h-176.9zM555.8 442h176.9v3h-176.9zM555.8 461h176.9v2h-176.9zM555.8 489h176.9v2h-176.9zM555.8 492h176.9v1h-176.9zM555.8 516h176.9v2h-176.9zM555.8 520h176.9v4h-176.9zM555.8 529h176.9v1h-176.9zM555.8 533h176.9v1h-176.9zM555.8 535h176.9v1h-176.9zM555.8 544h176.9v1h-176.9zM555.8 549h176.9v4h-176.9zM555.8 557h176.9v1h-176.9zM555.8 559h176.9v1h-176.9zM555.8 563h176.9v1h-176.9zM555.8 578h176.9v1h-176.9zM555.8 590h176.9v2h-176.9zM555.8 598h176.9v1h-176.9zM555.8 603h176.9v2h-176.9zM555.8 609h176.9v1h-176.9zM555.8 622h176.9v1h-176.9zM555.8 625h176.9v1h-176.9zM555.8 627h176.9v1h-176.9zM555.8 631h176.9v1h-176.9zM555.8 633h176.9v1h-176.9zM555.8 639h176.9v1h-176.9zM555.8 654h176.9v1h-176.9zM555.8 663h176.9v1h-176.9zM555.8 669h176.9v1h-176.9zM555.8 672h176.9v1h-176.9zM555.8 680h176.9v1h-176.9zM555.8 693h176.9v1h-176.9zM555.8 700h176.9v1h-176.9zM555.8 707h176.9v1h-176.9zM555.8 717h176.9v1h-176.9z" fill="#fff"/>
<path d="M555.8 82h176.9v1h-176.9zM555.8 87h176.9v1h-176.9zM555.8 93h176.9v1h-176.9zM555.8 119h176.9v1h-176.9zM555.8 208h176.9v1h-176.9zM555.8 252h176.9v1h-176.9zM555.8 257h176.9v1h-176.9zM555.8 274h176.9v1h-176.9zM555.8 280h176.9v1h-176.9zM555.8 282h176.9v2h-176.9zM555.8 318h176.9v1h-176.9zM555.8 324h176.9v1h-176.9zM555.8 389h176.9v1h-176.9zM555.8 393h176.9v1h-176.9zM555.8 415h176.9v1h-176.9zM555.8 424h176.9v1h-176.9zM555.8 431h176.9v1.8h-176.9zM555.8 441h176.9v1h-176.9zM555.8 451h176.9v1h-176.9zM555.8 545h176.9v1h-176.9zM555.8 548h176.9v1h-176.9zM555.8 558h176.9v1h-176.9zM555.8 560h176.9v1h-176.9zM555.8 610h176.9v1h-176.9zM555.8 619h176.9v1h-176.9zM555.8 645h176.9v1h-176.9zM555.8 688h176.9v1h-176.9zM555.8 719h176.9v1h-176.9z" fill="#000"/>
<rect x="556.5" y="80.5" width="177" height="640" fill="none" stroke="#000" stroke-width="1"/>
<path d="M556.5 720.5v-5.6M556.5 80.5v5.6M598.5 720.5v-5.6M598.5 80.5v5.6M639.5 720.5v-5.6M639.5 80.5v5.6M681.5 720.5v-5.6M681.5 80.5v5.6M722.5 720.5v-5.6M722.5 80.5v5.6M556.5 720.5h5.6M733.5 720.5h-5.6M556.5 587.5h5.6M733.5 587.5h-5.6M556.5 453.5h5.6M733.5 453.5h-5.6M556.5 320.5h5.6M733.5 320.5h-5.6M556.5 187.5h5.6M733.5 187.5h-5.6" stroke="#000" stroke-width="0.7" fill="none"/>
<text x="556.62" y="735.7" font-size="12.5" letter-spacing="0.45" text-anchor="middle">320</text>
<text x="597.62" y="735.7" font-size="12.5" letter-spacing="0.45" text-anchor="middle">335</text>
<text x="639.62" y="735.7" font-size="12.5" letter-spacing="0.45" text-anchor="middle">350</text>
<text x="680.62" y="735.7" font-size="12.5" letter-spacing="0.45" text-anchor="middle">365</text>
<text x="722.62" y="735.7" font-size="12.5" letter-spacing="0.45" text-anchor="middle">380</text>
<text x="552.2" y="723.8" font-size="12.5" letter-spacing="0.3" text-anchor="end">0</text>
<text x="552.2" y="589.87" font-size="12.5" letter-spacing="0.3" text-anchor="end">5</text>
<text x="551" y="456.93" font-size="12.5" letter-spacing="0.3" text-anchor="end">10</text>
<text x="551" y="324" font-size="12.5" letter-spacing="0.3" text-anchor="end">15</text>
<text x="551.95" y="189.87" font-size="12.5" letter-spacing="0.3" text-anchor="end">20</text>
<text x="645" y="73.5" font-size="16.67" text-anchor="middle">XY, V4*V7=EA05*EA03</text>
<g filter="url(#jet)">
<rect x="768.1" y="80.0" width="176.9" height="640.0" fill="#292929"/>
<rect x="768.1" y="516" width="176.9" height="204.0" fill="#2c2c2c"/>
<rect x="868.1" y="81" width="11.7" height="6" fill="#404040"/>
<rect x="868.1" y="94.5" width="11.7" height="10.5" fill="#3b3b3b"/>
<rect x="879.45" y="80" width="12.7" height="2" fill="#a7a7a7"/>
<rect x="894.15" y="80" width="12.2" height="2" fill="#959595"/>
<rect x="907.45" y="80" width="12.9" height="2" fill="#a2a2a2"/>
<rect x="921.55" y="80" width="12.7" height="2" fill="#9d9d9d"/>
<rect x="879.45" y="83" width="12.7" height="4" fill="#b6b6b6"/>
<rect x="894.15" y="83" width="12.2" height="4" fill="#a2a2a2"/>
<rect x="907.45" y="83" width="12.9" height="4" fill="#acacac"/>
<rect x="921.55" y="83" width="12.7" height="4" fill="#a7a7a7"/>
<rect x="879.45" y="88" width="12.7" height="3" fill="#b1b1b1"/>
<rect x="894.15" y="88" width="12.2" height="3" fill="#959595"/>
<rect x="907.45" y="88" width="12.9" height="3" fill="#acacac"/>
<rect x="921.55" y="88" width="12.7" height="3" fill="#a2a2a2"/>
<rect x="879.85" y="91" width="11.9" height="2" fill="#717171"/>
<rect x="894.55" y="91" width="11.4" height="2" fill="#717171"/>
<rect x="907.85" y="91" width="12.1" height="2" fill="#717171"/>
<rect x="921.95" y="91" width="11.9" height="2" fill="#717171"/>
<rect x="879.45" y="94" width="12.7" height="5" fill="#bbbbbb"/>
<rect x="894.15" y="94" width="12.2" height="5" fill="#a7a7a7"/>
<rect x="907.45" y="94" width="12.9" height="5" fill="#a7a7a7"/>
<rect x="921.55" y="94" width="12.7" height="5" fill="#9d9d9d"/>
<rect x="879.45" y="99" width="12.7" height="6" fill="#a7a7a7"/>
<rect x="894.15" y="99" width="12.2" height="6" fill="#acacac"/>
<rect x="907.45" y="99" width="12.9" height="6" fill="#a2a2a2"/>
<rect x="921.55" y="99" width="12.7" height="6" fill="#9a9a9a"/>
<rect x="879.85" y="106" width="11.9" height="7" fill="#4a4a4a"/>
<rect x="894.55" y="106" width="11.4" height="7" fill="#454545"/>
<rect x="907.85" y="106" width="12.1" height="7" fill="#3d3d3d"/>
<rect x="921.95" y="106" width="11.9" height="7" fill="#333333"/>
<rect x="879.85" y="113" width="11.9" height="6" fill="#5c5c5c"/>
<rect x="894.55" y="113" width="11.4" height="6" fill="#525252"/>
<rect x="907.85" y="113" width="12.1" height="6" fill="#454545"/>
<rect x="921.95" y="113" width="11.9" height="6" fill="#383838"/>
<rect x="879.85" y="121" width="11.9" height="19" fill="#4a4a4a"/>
<rect x="894.55" y="121" width="11.4" height="19" fill="#3d3d3d"/>
<rect x="907.85" y="121" width="12.1" height="19" fill="#383838"/>
<rect x="921.95" y="121" width="11.9" height="19" fill="#303030"/>
<rect x="879.85" y="148" width="11.9" height="1" fill="#4d4d4d"/>
<rect x="894.55" y="148" width="11.4" height="1" fill="#4d4d4d"/>
<rect x="907.85" y="148" width="12.1" height="1" fill="#4d4d4d"/>
<rect x="921.95" y="148" width="11.9" height="1" fill="#4d4d4d"/>
<rect x="879.45" y="149" width="12.7" height="5" fill="#8e8e8e"/>
<rect x="894.15" y="149" width="12.2" height="5" fill="#959595"/>
<rect x="907.45" y="149" width="12.9" height="5" fill="#888888"/>
<rect x="921.55" y="149" width="12.7" height="5" fill="#838383"/>
<rect x="879.45" y="154" width="12.7" height="4" fill="#7a7a7a"/>
<rect x="894.55" y="154" width="11.4" height="4" fill="#575757"/>
<rect x="907.85" y="154" width="12.1" height="4" fill="#5e5e5e"/>
<rect x="921.95" y="154" width="11.9" height="4" fill="#5e5e5e"/>
<rect x="879.85" y="158" width="11.9" height="4" fill="#717171"/>
<rect x="894.15" y="158" width="12.2" height="4" fill="#808080"/>
<rect x="907.45" y="158" width="12.9" height="4" fill="#7a7a7a"/>
<rect x="921.95" y="158" width="11.9" height="4" fill="#666666"/>
<rect x="879.45" y="162" width="12.7" height="5" fill="#9d9d9d"/>
<rect x="894.15" y="162" width="12.2" height="5" fill="#9a9a9a"/>
<rect x="907.45" y="162" width="12.9" height="5" fill="#8e8e8e"/>
<rect x="921.55" y="162" width="12.7" height="5" fill="#838383"/>
<rect x="879.85" y="167" width="11.9" height="9" fill="#525252"/>
<rect x="894.55" y="167" width="11.4" height="9" fill="#525252"/>
<rect x="907.85" y="167" width="12.1" height="9" fill="#525252"/>
<rect x="921.95" y="167" width="11.9" height="9" fill="#454545"/>
<rect x="879.85" y="176" width="11.9" height="4" fill="#525252"/>
<rect x="894.15" y="176" width="12.2" height="4" fill="#7a7a7a"/>
<rect x="907.45" y="176" width="12.9" height="4" fill="#7a7a7a"/>
<rect x="921.95" y="176" width="11.9" height="4" fill="#5e5e5e"/>
<rect x="879.85" y="180" width="11.9" height="68" fill="#595959"/>
<rect x="894.55" y="180" width="11.4" height="68" fill="#5e5e5e"/>
<rect x="907.85" y="180" width="12.1" height="68" fill="#525252"/>
<rect x="921.95" y="180" width="11.9" height="68" fill="#454545"/>
<rect x="879.85" y="253" width="11.9" height="4" fill="#666666"/>
<rect x="894.55" y="253" width="11.4" height="4" fill="#666666"/>
<rect x="907.85" y="253" width="12.1" height="4" fill="#666666"/>
<rect x="921.95" y="253" width="11.9" height="4" fill="#616161"/>
<rect x="879.85" y="258" width="11.9" height="5" fill="#595959"/>
<rect x="894.55" y="258" width="11.4" height="5" fill="#5e5e5e"/>
<rect x="907.85" y="258" width="12.1" height="5" fill="#5e5e5e"/>
<rect x="921.95" y="258" width="11.9" height="5" fill="#595959"/>
<rect x="879.85" y="263" width="11.9" height="3" fill="#717171"/>
<rect x="894.55" y="263" width="11.4" height="3" fill="#6b6b6b"/>
<rect x="907.85" y="263" width="12.1" height="3" fill="#6b6b6b"/>
<rect x="921.95" y="263" width="11.9" height="3" fill="#717171"/>
<rect x="879.45" y="266" width="12.7" height="8" fill="#959595"/>
<rect x="894.15" y="266" width="12.2" height="8" fill="#747474"/>
<rect x="907.45" y="266" width="12.9" height="8" fill="#747474"/>
<rect x="921.55" y="266" width="12.7" height="8" fill="#888888"/>
<rect x="879.45" y="274" width="12.7" height="6" fill="#9d9d9d"/>
<rect x="894.55" y="274" width="11.4" height="6" fill="#717171"/>
<rect x="907.85" y="274" width="12.1" height="6" fill="#6b6b6b"/>
<rect x="921.55" y="274" width="12.7" height="6" fill="#7a7a7a"/>
<rect x="879.45" y="284" width="12.7" height="6" fill="#959595"/>
<rect x="894.15" y="284" width="12.2" height="6" fill="#989898"/>
<rect x="907.45" y="284" width="12.9" height="6" fill="#888888"/>
<rect x="921.55" y="284" width="12.7" height="6" fill="#888888"/>
<rect x="879.45" y="290" width="12.7" height="12" fill="#9d9d9d"/>
<rect x="894.15" y="290" width="12.2" height="12" fill="#9d9d9d"/>
<rect x="907.45" y="290" width="12.9" height="12" fill="#8e8e8e"/>
<rect x="921.55" y="290" width="12.7" height="12" fill="#8e8e8e"/>
<rect x="879.45" y="302" width="12.7" height="16" fill="#9a9a9a"/>
<rect x="894.15" y="302" width="12.2" height="16" fill="#9a9a9a"/>
<rect x="907.45" y="302" width="12.9" height="16" fill="#888888"/>
<rect x="921.55" y="302" width="12.7" height="16" fill="#888888"/>
<rect x="879.45" y="318" width="12.7" height="6" fill="#9a9a9a"/>
<rect x="894.15" y="318" width="12.2" height="6" fill="#8e8e8e"/>
<rect x="907.45" y="318" width="12.9" height="6" fill="#838383"/>
<rect x="921.55" y="318" width="12.7" height="6" fill="#888888"/>
<rect x="879.45" y="325" width="12.7" height="6" fill="#888888"/>
<rect x="894.15" y="325" width="12.2" height="6" fill="#7a7a7a"/>
<rect x="907.85" y="325" width="12.1" height="6" fill="#717171"/>
<rect x="921.55" y="325" width="12.7" height="6" fill="#7a7a7a"/>
<rect x="879.85" y="331" width="11.9" height="7" fill="#717171"/>
<rect x="894.55" y="331" width="11.4" height="7" fill="#6b6b6b"/>
<rect x="907.85" y="331" width="12.1" height="7" fill="#666666"/>
<rect x="921.95" y="331" width="11.9" height="7" fill="#6b6b6b"/>
<rect x="879.85" y="338" width="11.9" height="51" fill="#424242"/>
<rect x="894.55" y="338" width="11.4" height="51" fill="#474747"/>
<rect x="907.85" y="338" width="12.1" height="51" fill="#424242"/>
<rect x="921.95" y="338" width="11.9" height="51" fill="#333333"/>
<rect x="879.85" y="389" width="11.9" height="8" fill="#595959"/>
<rect x="894.55" y="389" width="11.4" height="8" fill="#595959"/>
<rect x="907.85" y="389" width="12.1" height="8" fill="#525252"/>
<rect x="921.95" y="389" width="11.9" height="8" fill="#525252"/>
<rect x="879.85" y="400" width="11.9" height="33" fill="#454545"/>
<rect x="894.55" y="400" width="11.4" height="33" fill="#525252"/>
<rect x="907.85" y="400" width="12.1" height="33" fill="#4a4a4a"/>
<rect x="921.95" y="400" width="11.9" height="33" fill="#3d3d3d"/>
<rect x="879.85" y="433" width="11.9" height="7" fill="#666666"/>
<rect x="894.15" y="433" width="12.2" height="7" fill="#a7a7a7"/>
<rect x="907.45" y="433" width="12.9" height="7" fill="#afafaf"/>
<rect x="921.55" y="433" width="12.7" height="7" fill="#9d9d9d"/>
<rect x="879.45" y="445" width="12.7" height="6" fill="#7a7a7a"/>
<rect x="894.15" y="445" width="12.2" height="6" fill="#9a9a9a"/>
<rect x="907.45" y="445" width="12.9" height="6" fill="#9a9a9a"/>
<rect x="921.55" y="445" width="12.7" height="6" fill="#959595"/>
<rect x="879.45" y="452" width="12.7" height="10" fill="#888888"/>
<rect x="894.15" y="452" width="12.2" height="10" fill="#8e8e8e"/>
<rect x="907.45" y="452" width="12.9" height="10" fill="#8e8e8e"/>
<rect x="921.55" y="452" width="12.7" height="10" fill="#959595"/>
<rect x="879.45" y="464" width="12.7" height="14" fill="#a2a2a2"/>
<rect x="894.15" y="464" width="12.2" height="14" fill="#8e8e8e"/>
<rect x="907.45" y="464" width="12.9" height="14" fill="#888888"/>
<rect x="921.55" y="464" width="12.7" height="14" fill="#959595"/>
<rect x="879.45" y="478" width="12.7" height="11" fill="#acacac"/>
<rect x="894.15" y="478" width="12.2" height="11" fill="#9a9a9a"/>
<rect x="907.45" y="478" width="12.9" height="11" fill="#8e8e8e"/>
<rect x="921.55" y="478" width="12.7" height="11" fill="#959595"/>
<rect x="879.45" y="492" width="12.7" height="12" fill="#a2a2a2"/>
<rect x="894.15" y="492" width="12.2" height="12" fill="#9d9d9d"/>
<rect x="907.45" y="492" width="12.9" height="12" fill="#888888"/>
<rect x="921.55" y="492" width="12.7" height="12" fill="#8e8e8e"/>
<rect x="879.45" y="504" width="12.7" height="12" fill="#959595"/>
<rect x="894.15" y="504" width="12.2" height="12" fill="#9a9a9a"/>
<rect x="907.45" y="504" width="12.9" height="12" fill="#808080"/>
<rect x="921.55" y="504" width="12.7" height="12" fill="#888888"/>
<rect x="879.85" y="516" width="11.9" height="29" fill="#4a4a4a"/>
<rect x="894.55" y="516" width="11.4" height="29" fill="#4a4a4a"/>
<rect x="907.85" y="516" width="12.1" height="29" fill="#454545"/>
<rect x="921.95" y="516" width="11.9" height="29" fill="#3d3d3d"/>
<rect x="879.85" y="545" width="11.9" height="15" fill="#525252"/>
<rect x="894.55" y="545" width="11.4" height="15" fill="#5e5e5e"/>
<rect x="907.85" y="545" width="12.1" height="15" fill="#525252"/>
<rect x="921.95" y="545" width="11.9" height="15" fill="#454545"/>
<rect x="879.85" y="560" width="11.9" height="51" fill="#3d3d3d"/>
<rect x="894.55" y="560" width="11.4" height="51" fill="#454545"/>
<rect x="907.85" y="560" width="12.1" height="51" fill="#383838"/>
<rect x="921.95" y="560" width="11.9" height="51" fill="#303030"/>
<rect x="879.85" y="611" width="11.9" height="36" fill="#666666"/>
<rect x="894.55" y="611" width="11.4" height="36" fill="#595959"/>
<rect x="907.85" y="611" width="12.1" height="36" fill="#525252"/>
<rect x="921.95" y="611" width="11.9" height="36" fill="#4a4a4a"/>
<rect x="879.85" y="647" width="11.9" height="73" fill="#525252"/>
<rect x="894.55" y="647" width="11.4" height="73" fill="#4a4a4a"/>
<rect x="907.85" y="647" width="12.1" height="73" fill="#3d3d3d"/>
<rect x="921.95" y="647" width="11.9" height="73" fill="#303030"/>
<path fill="#4d4d4d" d="M879.9 121h6.6v6h-6.6zM886.7 134h5.1v5h-5.1zM879.9 342h7.2v4h-7.2zM902.2 342h3.7v4h-3.7zM912.1 516h7.9v7h-7.9zM922 553h7.6v4h-7.6zM894.6 568h7.3v4h-7.3zM899 655h6.9v5h-6.9zM894.6 668h6.4v4h-6.4zM884 686h7.8v3h-7.8zM894.6 712h6.5v7h-6.5z"/>
<path fill="#4b4b4b" d="M886.4 121h5.3v6h-5.3zM884.6 127h7.1v7h-7.1zM928.5 180h5.3v6h-5.3zM922 232h6v5h-6zM894.6 363h6.2v3h-6.2zM907.9 382h4.8v3h-4.8zM887.1 406h4.7v7h-4.7zM907.9 422h7.2v6h-7.2zM912.3 432h7.6v1h-7.6zM887.4 523h4.3v8h-4.3zM899.8 523h6.1v8h-6.1zM894.6 531h5.5v8h-5.5zM922 557h7.7v3h-7.7zM915.4 621h4.6v9h-4.6zM928.6 630h5.2v4h-5.2zM927 634h6.9v5h-6.9zM898.7 647h7.2v8h-7.2zM901 668h5v4h-5zM894.6 672h5.7v7h-5.7zM879.9 683h6.3v3h-6.3zM879.9 701h6.7v5h-6.7zM894.6 701h6.5v5h-6.5z"/>
<path fill="#3f3f3f" d="M894.6 121h4.5v6h-4.5zM913.4 121h6.6v6h-6.6zM898.4 134h7.6v5h-7.6zM902.2 139h3.7v1h-3.7zM928.3 205h5.5v6h-5.5zM928 232h5.9v5h-5.9zM887 338h4.8v4h-4.8zM907.9 346h5.6v8h-5.6zM884.8 374h7v8h-7zM922 432h6.5v1h-6.5zM926.1 531h7.8v8h-7.8zM884.8 586h6.9v8h-6.9zM907.9 594h5.4v7h-5.4zM907.9 686h6.8v3h-6.8zM914.6 686h5.3v3h-5.3zM894.6 719h6.9v1h-6.9z"/>
<path fill="#404040" d="M899.1 121h6.9v6h-6.9zM907.9 139h7v1h-7zM915 413h5v9h-5zM879.9 560h6v8h-6zM879.9 568h4.5v4h-4.5zM914.9 572h5v6h-5zM907.9 586h7.5v8h-7.5zM900.2 604h5.8v7h-5.8zM922 614h5.4v7h-5.4zM922 639h6.8v3h-6.8zM913.6 660h6.4v3h-6.4zM915.1 689h4.9v6h-4.9z"/>
<path fill="#3e3e3e" d="M907.9 121h5.5v6h-5.5zM928.4 219h5.5v8h-5.5zM912.6 354h7.3v9h-7.3zM907.9 363h7.5v3h-7.5zM928.8 406h5v7h-5zM879.9 422h6.4v6h-6.4zM922 516h6.7v7h-6.7zM907.9 523h5.5v8h-5.5zM922 523h4.7v8h-4.7zM899.2 578h6.7v8h-6.7z"/>
<path fill="#333333" d="M922 121h6.1v6h-6.1zM922 134h6.7v5h-6.7zM922 338h5.6v4h-5.6zM928.5 572h5.4v6h-5.4zM922 660h6.4v3h-6.4zM922 686h7v3h-7zM922 712h4.3v7h-4.3zM926.2 712h7.6v7h-7.6zM914.3 719h5.6v1h-5.6z"/>
<path fill="#3b3b3b" d="M928 121h5.8v6h-5.8zM907.9 366h7.1v8h-7.1zM914.9 366h5v8h-5zM922 385h5.1v4h-5.1zM927.7 400h6.2v6h-6.2zM879.9 586h5v8h-5zM913.3 594h6.7v7h-6.7zM907.9 601h6.6v3h-6.6zM928.1 706h5.7v6h-5.7z"/>
<path fill="#515151" d="M879.9 127h4.8v7h-4.8zM907.9 199h5.7v6h-5.7zM886.3 219h5.5v8h-5.5zM879.9 261h11.9v1h-11.9zM894.6 331h11.4v1h-11.4zM907.9 389h5v7h-5zM883.8 396h7.9v1h-7.9zM899.1 396h6.8v1h-6.8zM928.6 396h5.3v1h-5.3zM898.4 406h7.6v7h-7.6zM912.5 406h7.4v7h-7.4zM879.9 516h6.5v7h-6.5zM879.9 549h7.2v4h-7.2zM907.9 549h7.1v4h-7.1zM913.4 553h6.5v4h-6.5zM922 630h6.7v4h-6.7zM886.5 672h5.2v7h-5.2zM894.6 706h6.6v6h-6.6zM901.2 706h4.8v6h-4.8z"/>
<path fill="#434343" d="M894.6 127h6.7v7h-6.7zM879.9 134h6.8v5h-6.8zM922 199h6v6h-6zM879.9 363h4.5v3h-4.5zM894.6 366h5.3v8h-5.3zM899.8 366h6.1v8h-6.1zM913.4 374h6.6v8h-6.6zM879.9 385h4.8v4h-4.8zM907.9 531h7.9v8h-7.9zM884.5 539h7.3v6h-7.3zM927.5 545h6.4v4h-6.4zM884.3 568h7.4v4h-7.4zM894.6 601h3.8v3h-3.8zM901.1 701h4.9v5h-4.9z"/>
<path fill="#444444" d="M901.3 127h4.7v7h-4.7zM928.8 192h5v7h-5zM922 237h6.2v4h-6.2zM887 342h4.7v4h-4.7zM894.6 374h6.5v8h-6.5zM907.9 385h5.9v4h-5.9zM913.7 385h6.2v4h-6.2zM922 406h6.9v7h-6.9zM907.9 428h6.3v4h-6.3zM914.2 428h5.8v4h-5.8zM922 549h6.1v4h-6.1zM885.9 560h5.9v8h-5.9zM894.6 586h6.1v8h-6.1zM894.6 683h4.3v3h-4.3zM901.5 719h4.5v1h-4.5z"/>
<path fill="#383838" d="M907.9 127h4.5v7h-4.5zM915.4 134h4.5v5h-4.5zM922 205h6.4v6h-6.4zM922 219h6.4v8h-6.4zM922 374h4.6v8h-4.6zM929.1 382h4.7v3h-4.7zM922 422h5.2v6h-5.2zM928.9 560h4.9v8h-4.9zM914.4 568h5.6v4h-5.6zM927.9 568h5.9v4h-5.9zM913 668h6.9v4h-6.9zM913.6 701h6.4v5h-6.4z"/>
<path fill="#3a3a3a" d="M912.3 127h7.6v7h-7.6zM922 363h7.2v3h-7.2zM927 385h6.8v4h-6.8zM927.1 539h6.7v6h-6.7zM879.9 601h5.4v3h-5.4zM922 663h6.4v5h-6.4zM928.3 663h5.5v5h-5.5zM907.9 679h4.5v4h-4.5zM912.3 679h7.6v4h-7.6zM914.8 695h5.2v6h-5.2z"/>
<path fill="#303030" d="M922 127h6.6v7h-6.6zM907.9 134h7.6v5h-7.6zM926.7 139h7.1v1h-7.1zM922 366h7.3v8h-7.3zM929.2 366h4.6v8h-4.6zM922 586h5.6v8h-5.6z"/>
<path fill="#353535" d="M928.6 127h5.3v7h-5.3zM927.6 413h6.3v9h-6.3zM922 568h6v4h-6zM879.9 604h5.2v7h-5.2zM885 604h6.7v7h-6.7z"/>
<path fill="#343434" d="M894.6 134h3.8v5h-3.8zM927.6 338h6.3v4h-6.3zM922 342h4.4v4h-4.4zM926.4 342h7.5v4h-7.5zM928.2 354h5.6v9h-5.6zM929.1 363h4.7v3h-4.7zM922 382h7.2v3h-7.2zM922 539h5.2v6h-5.2z"/>
<path fill="#2f2f2f" d="M928.7 134h5.2v5h-5.2zM922 139h4.8v1h-4.8zM922 655h6.4v5h-6.4z"/>
<path fill="#474747" d="M879.9 139h5.4v1h-5.4zM922 216h6.1v3h-6.1zM915.2 219h4.8v8h-4.8zM927.6 241h6.2v7h-6.2zM907.9 333h12.1v1h-12.1zM899.1 346h6.9v8h-6.9zM907.9 354h4.8v9h-4.8zM879.9 366h4.4v8h-4.4zM894.6 382h7.4v3h-7.4zM912.6 382h7.3v3h-7.3zM879.9 400h5.9v6h-5.9zM886.2 422h5.5v6h-5.5zM879.9 432h6.3v1h-6.3zM928.4 432h5.4v1h-5.4zM879.9 523h7.6v8h-7.6zM894.6 523h5.3v8h-5.3zM879.9 572h7.3v6h-7.3zM894.6 572h4.7v6h-4.7zM927.3 614h6.5v7h-6.5zM900.3 672h5.7v7h-5.7z"/>
<path fill="#4a4a4a" d="M885.2 139h6.5v1h-6.5zM922 180h6.6v6h-6.6zM926 186h7.9v6h-7.9zM907.9 205h6.1v6h-6.1zM913.1 237h6.9v4h-6.9zM898.9 338h7v4h-7zM894.6 346h4.5v8h-4.5zM901 374h4.9v8h-4.9zM884.6 385h7.1v4h-7.1zM901.8 428h4.2v4h-4.2zM879.9 531h7.5v8h-7.5zM900 531h5.9v8h-5.9zM922 642h7v5h-7zM928.9 642h4.9v5h-4.9zM894.6 660h6.8v3h-6.8zM894.6 679h4.5v4h-4.5z"/>
<path fill="#3d3d3d" d="M894.6 139h7.7v1h-7.7zM928.2 237h5.7v4h-5.7zM914.5 338h5.5v4h-5.5zM879.9 354h6.7v9h-6.7zM915.4 363h4.6v3h-4.6zM879.9 413h6.6v9h-6.6zM928 428h5.9v4h-5.9zM913.3 523h6.6v8h-6.6zM907.9 560h6.3v8h-6.3zM915.4 586h4.6v8h-4.6zM907.9 647h6.1v8h-6.1zM907.9 660h5.7v3h-5.7zM913.6 663h6.3v5h-6.3zM907.9 668h5.2v4h-5.2zM907.9 706h5.5v6h-5.5z"/>
<path fill="#373737" d="M914.8 139h5.1v1h-5.1zM922 354h6.3v9h-6.3zM907.9 568h6.5v4h-6.5zM913 578h7v8h-7zM914.5 601h5.5v3h-5.5zM922 601h4v3h-4zM907.9 604h6v7h-6zM912.5 655h7.4v5h-7.4zM927.6 672h6.3v7h-6.3zM907.9 683h4.9v3h-4.9zM922 689h7.3v6h-7.3zM922 706h6.2v6h-6.2zM915 712h4.9v7h-4.9zM907.9 719h6.5v1h-6.5z"/>
<path fill="#595959" d="M879.9 167h4.7v6h-4.7zM886 205h5.7v6h-5.7zM879.9 227h6.7v5h-6.7zM879.9 232h5.8v5h-5.8zM922 258h11.9v1h-11.9zM907.9 259h12.1v1h-12.1zM894.6 337h11.4v1h-11.4zM894.6 396h4.6v1h-4.6zM899.1 611h6.8v3h-6.8zM899.7 621h6.3v9h-6.3zM907.9 642h7.5v5h-7.5z"/>
<path fill="#4f4f4f" d="M884.5 167h7.2v6h-7.2zM900.5 173h5.4v3h-5.4zM922 331h11.9v1h-11.9zM907.9 332h12.1v1h-12.1zM922 333h11.9v1h-11.9zM899.5 385h6.4v4h-6.4zM907.9 396h4.6v1h-4.6zM912.5 396h7.5v1h-7.5zM907.9 400h7.1v6h-7.1zM894.6 406h3.8v7h-3.8zM915.1 422h4.9v6h-4.9zM894.6 516h5.6v7h-5.6zM907.9 621h7.5v9h-7.5zM886.3 647h5.4v8h-5.4zM887.2 655h4.6v5h-4.6zM901.4 660h4.6v3h-4.6zM901.3 689h4.6v6h-4.6zM900.1 695h5.9v6h-5.9z"/>
<path fill="#575757" d="M894.6 167h6.6v6h-6.6zM907.9 186h5.2v6h-5.2zM898.5 216h7.4v3h-7.4zM907.9 336h12.1v1h-12.1zM886.6 389h5.2v7h-5.2zM922 389h4.4v7h-4.4zM894.6 422h7.5v6h-7.5zM915.4 642h4.6v5h-4.6zM879.9 672h6.7v7h-6.7z"/>
<path fill="#525252" d="M901.2 167h4.8v6h-4.8zM922 186h4v6h-4zM901 237h4.9v4h-4.9zM879.9 260h11.9v1h-11.9zM907.9 260h12.1v1h-12.1zM894.6 335h11.4v1h-11.4zM912.9 389h7.1v7h-7.1zM894.6 428h7.2v4h-7.2zM900.2 432h5.7v1h-5.7zM886.4 516h5.4v7h-5.4zM900.1 516h5.8v7h-5.8zM915 549h5v4h-5zM907.9 553h5.6v4h-5.6zM907.9 557h6.5v3h-6.5zM894.6 663h5.5v5h-5.5zM879.9 712h4.5v7h-4.5z"/>
<path fill="#585858" d="M907.9 167h7.1v6h-7.1zM885 173h6.8v3h-6.8zM907.9 227h4.3v5h-4.3zM907.9 241h4.2v7h-4.2zM879.9 335h11.9v1h-11.9zM922 335h11.9v1h-11.9zM894.6 336h11.4v1h-11.4zM899.4 400h6.6v6h-6.6zM901 545h5v4h-5zM894.6 611h4.6v3h-4.6zM912 611h8v3h-8zM894.6 614h6v7h-6zM894.6 621h5.1v9h-5.1zM894.6 642h6.2v5h-6.2z"/>
<path fill="#555555" d="M914.9 167h5v6h-5zM879.9 173h5.1v3h-5.1zM894.6 173h6v3h-6zM879.9 216h5.9v3h-5.9zM879.9 258h11.9v1h-11.9zM894.6 260h11.4v1h-11.4zM922 261h11.9v1h-11.9zM926.4 389h7.5v7h-7.5zM884.9 545h6.9v4h-6.9zM914.1 545h5.8v4h-5.8zM879.9 553h5.8v4h-5.8zM883.8 557h7.9v3h-7.9zM900.8 642h5.2v5h-5.2zM887.1 668h4.7v4h-4.7zM879.9 686h4.1v3h-4.1z"/>
<path fill="#4c4c4c" d="M922 167h6.3v6h-6.3zM913.6 199h6.4v6h-6.4zM879.9 219h6.4v8h-6.4zM912.2 227h7.8v5h-7.8zM879.9 237h7.2v4h-7.2zM887.1 237h4.7v4h-4.7zM922 260h11.9v1h-11.9zM907.9 335h12.1v1h-12.1zM907.9 342h8v4h-8zM915.8 342h4.1v4h-4.1zM894.6 594h7.3v7h-7.3zM907.9 614h7v7h-7zM914.9 614h5.1v7h-5.1zM907.9 639h7.6v3h-7.6zM887.1 695h4.6v6h-4.6zM886.7 719h5.1v1h-5.1z"/>
<path fill="#424242" d="M928.3 167h5.6v6h-5.6zM922 192h6.9v7h-6.9zM884.2 366h7.5v8h-7.5zM922 400h5.7v6h-5.7zM886.5 413h5.3v9h-5.3zM927.2 422h6.7v6h-6.7zM922 531h4.1v8h-4.1zM901.9 568h4.1v4h-4.1zM907.9 655h4.7v5h-4.7z"/>
<path fill="#505050" d="M907.9 173h7.1v3h-7.1zM907.9 331h12.1v1h-12.1zM901.9 413h4v9h-4zM907.9 634h6.8v5h-6.8zM900.1 663h5.9v5h-5.9zM887.7 679h4v4h-4zM886.2 683h5.6v3h-5.6zM879.9 695h7.3v6h-7.3zM894.6 695h5.5v6h-5.5zM886.7 706h5v6h-5zM884.3 712h7.4v7h-7.4z"/>
<path fill="#565656" d="M915 173h5v3h-5zM901.3 199h4.6v6h-4.6zM879.9 205h6.2v6h-6.2zM907.9 211h5.8v5h-5.8zM914 216h6v3h-6zM886.6 227h5.2v5h-5.2zM894.6 332h11.4v1h-11.4zM894.6 639h7.4v3h-7.4zM885.4 660h6.4v3h-6.4zM884.1 663h7.6v5h-7.6zM879.9 689h5.1v6h-5.1z"/>
<path fill="#414141" d="M922 173h5.5v3h-5.5zM927.4 173h6.4v3h-6.4zM922 227h4.1v5h-4.1zM926 227h7.8v5h-7.8zM879.9 338h7.1v4h-7.1zM879.9 374h4.9v8h-4.9zM879.9 382h4.1v3h-4.1zM907.9 539h5.7v6h-5.7zM914.1 560h5.8v8h-5.8zM887.1 572h4.6v6h-4.6zM885.2 601h6.5v3h-6.5zM898.3 601h7.6v3h-7.6z"/>
<path fill="#656565" d="M879.9 180h4.2v6h-4.2zM898.6 180h7.3v6h-7.3zM900.1 192h5.8v7h-5.8zM879.9 639h5.8v3h-5.8zM885.6 642h6.2v5h-6.2z"/>
<path fill="#616161" d="M884.1 180h7.7v6h-7.7zM914.1 180h5.9v6h-5.9zM894.6 199h6.8v6h-6.8zM907.9 262h12.1v1h-12.1zM885.6 639h6.1v3h-6.1z"/>
<path fill="#666666" d="M894.6 180h4.1v6h-4.1zM879.9 186h5.8v6h-5.8zM894.6 192h5.6v7h-5.6zM899.7 232h6.3v5h-6.3zM907.9 325h12.1v1h-12.1zM899.9 553h6.1v4h-6.1zM879.9 611h7.9v3h-7.9z"/>
<path fill="#606060" d="M907.9 180h6.2v6h-6.2zM894.6 205h5.4v6h-5.4zM922 334h11.9v1h-11.9zM879.9 336h11.9v1h-11.9zM879.9 337h11.9v1h-11.9zM907.9 337h12.1v1h-12.1zM922 337h11.9v1h-11.9zM894.6 557h6.4v3h-6.4zM894.6 634h7.2v5h-7.2z"/>
<path fill="#626262" d="M885.7 186h6.1v6h-6.1z"/>
<path fill="#696969" d="M894.6 186h7.5v6h-7.5zM886.5 630h5.3v4h-5.3z"/>
<path fill="#5f5f5f" d="M902 186h3.9v6h-3.9zM884.5 199h7.2v6h-7.2zM894.6 216h4v3h-4zM885.6 232h6.1v5h-6.1zM894.6 232h5.1v5h-5.1zM894.6 237h6.5v4h-6.5zM894.6 549h5.5v4h-5.5zM900 549h5.9v4h-5.9z"/>
<path fill="#545454" d="M913.1 186h6.9v6h-6.9zM907.9 192h5.1v7h-5.1zM900 205h6v6h-6zM894.6 219h7.7v8h-7.7zM902.2 219h3.7v8h-3.7zM907.9 232h6.5v5h-6.5zM879.9 241h7.9v7h-7.9zM887.7 241h4v7h-4zM922 259h11.9v1h-11.9zM922 332h11.9v1h-11.9zM894.6 389h4.9v7h-4.9zM902 422h3.9v6h-3.9zM885.6 553h6.1v4h-6.1zM907.9 611h4.1v3h-4.1zM900.6 614h5.4v7h-5.4zM879.9 655h7.3v5h-7.3z"/>
<path fill="#646464" d="M879.9 192h7.4v7h-7.4zM894.6 262h11.4v1h-11.4zM894.6 334h11.4v1h-11.4zM884.8 621h6.9v9h-6.9z"/>
<path fill="#5a5a5a" d="M887.2 192h4.5v7h-4.5zM879.9 199h4.7v6h-4.7zM879.9 211h4v5h-4zM913.7 211h6.3v5h-6.3zM894.6 261h11.4v1h-11.4zM907.9 261h12.1v1h-12.1zM907.9 334h12.1v1h-12.1zM894.6 432h5.7v1h-5.7zM879.9 557h4v3h-4zM907.9 630h5.8v4h-5.8zM901.8 634h4.2v5h-4.2zM879.9 706h6.9v6h-6.9z"/>
<path fill="#5c5c5c" d="M913 192h7v7h-7zM883.9 211h7.9v5h-7.9zM898.8 211h7.2v5h-7.2zM894.6 227h4.3v5h-4.3zM898.8 241h7.1v7h-7.1zM879.9 262h11.9v1h-11.9zM879.9 332h11.9v1h-11.9zM894.6 333h11.4v1h-11.4zM894.6 545h6.4v4h-6.4zM913.7 630h6.3v4h-6.3z"/>
<path fill="#464646" d="M927.9 199h5.9v6h-5.9zM898.6 354h7.4v9h-7.4zM901.9 382h4v3h-4zM885.8 400h6v6h-6zM887.2 428h4.6v4h-4.6zM928.7 516h5.2v7h-5.2zM915.8 531h4.2v8h-4.2zM879.9 539h4.6v6h-4.6zM928.1 549h5.8v4h-5.8zM929.5 553h4.3v4h-4.3zM929.6 557h4.2v3h-4.2zM899.9 560h6.1v8h-6.1zM885.4 594h6.4v7h-6.4zM901.8 594h4.1v7h-4.1zM915.5 639h4.5v3h-4.5zM928.7 639h5.1v3h-5.1zM894.6 647h4.2v8h-4.2zM913.4 706h6.6v6h-6.6z"/>
<path fill="#484848" d="M914 205h6v6h-6zM884.4 363h7.4v3h-7.4zM915 400h5v6h-5zM907.9 406h4.7v7h-4.7zM879.9 428h7.3v4h-7.3zM894.6 539h5.7v6h-5.7zM900.7 586h5.3v8h-5.3zM898.8 683h7.1v3h-7.1zM899.3 686h6.6v3h-6.6zM901.1 712h4.9v7h-4.9zM879.9 719h6.8v1h-6.8z"/>
<path fill="#686868" d="M894.6 211h4.2v5h-4.2zM879.9 634h7.1v5h-7.1z"/>
<path fill="#494949" d="M922 211h7.1v5h-7.1zM907.9 219h7.3v8h-7.3zM894.6 338h4.4v4h-4.4zM894.6 342h7.7v4h-7.7zM886.6 354h5.2v9h-5.2zM907.9 374h5.5v8h-5.5zM894.6 385h5v4h-5zM879.9 406h7.2v7h-7.2zM894.6 413h7.4v9h-7.4zM886.1 432h5.6v1h-5.6zM887.4 531h4.4v8h-4.4zM900.3 539h5.7v6h-5.7zM894.6 560h5.3v8h-5.3zM879.9 594h5.5v7h-5.5zM929.5 611h4.3v3h-4.3zM894.6 655h4.5v5h-4.5zM894.6 689h6.8v6h-6.8z"/>
<path fill="#454545" d="M929 211h4.8v5h-4.8zM928 216h5.8v3h-5.8zM907.9 237h5.2v4h-5.2zM922 241h5.7v7h-5.7zM907.9 338h6.6v4h-6.6zM900.8 363h5.2v3h-5.2zM883.9 382h7.8v3h-7.8zM907.9 413h7.1v9h-7.1zM907.9 516h4.2v7h-4.2zM913.6 539h6.4v6h-6.4zM922 545h5.5v4h-5.5zM899.3 572h6.7v6h-6.7zM894.6 604h5.6v7h-5.6zM922 621h4.1v9h-4.1zM926.1 621h7.8v9h-7.8zM899 679h6.9v4h-6.9zM894.6 686h4.8v3h-4.8z"/>
<path fill="#5b5b5b" d="M885.8 216h6v3h-6zM894.6 258h11.4v1h-11.4zM907.9 258h12.1v1h-12.1zM894.6 259h11.4v1h-11.4zM879.9 621h5v9h-5zM899.5 630h6.5v4h-6.5z"/>
<path fill="#535353" d="M907.9 216h6.1v3h-6.1zM914.3 232h5.6v5h-5.6zM899.4 389h6.5v7h-6.5zM879.9 396h4v1h-4zM894.6 400h4.8v6h-4.8zM907.9 432h4.5v1h-4.5zM914.4 557h5.6v3h-5.6zM914.7 634h5.3v5h-5.3zM922 634h5v5h-5zM901.9 639h4v3h-4zM879.9 660h5.5v3h-5.5zM879.9 663h4.3v5h-4.3zM879.9 668h7.2v4h-7.2zM886.6 701h5.2v5h-5.2z"/>
<path fill="#5e5e5e" d="M898.8 227h7.1v5h-7.1zM894.6 241h4.3v7h-4.3zM922 262h11.9v1h-11.9zM879.9 331h11.9v1h-11.9zM879.9 389h6.7v7h-6.7zM894.6 553h5.3v4h-5.3zM879.9 614h4.7v7h-4.7zM894.6 630h4.9v4h-4.9z"/>
<path fill="#4e4e4e" d="M912.1 241h7.9v7h-7.9zM879.9 259h11.9v1h-11.9zM894.6 354h4v9h-4zM922 396h6.6v1h-6.6zM879.9 545h5v4h-5zM907.9 545h6.3v4h-6.3zM887.1 549h4.7v4h-4.7zM922 611h7.6v3h-7.6zM879.9 647h6.5v8h-6.5zM879.9 679h7.9v4h-7.9zM884.9 689h6.8v6h-6.8z"/>
<path fill="#939393" d="M879.9 284h11.9v1h-11.9zM894.6 287h11.4v1h-11.4zM879.9 288h11.9v1h-11.9zM894.6 291h11.4v1h-11.4zM879.9 295h11.9v1h-11.9zM907.9 297h12.1v1h-12.1zM879.9 299h11.9v1h-11.9zM879.9 312h11.9v1h-11.9z"/>
<path fill="#989898" d="M894.6 284h11.4v1h-11.4zM894.6 288h11.4v1h-11.4zM894.6 293h11.4v1h-11.4zM879.9 306h11.9v1h-11.9zM894.6 307h11.4v1h-11.4z"/>
<path fill="#838383" d="M907.9 284h12.1v1h-12.1zM894.6 303h11.4v1h-11.4zM922 307h11.9v1h-11.9zM879.9 309h11.9v1h-11.9zM879.9 326h11.9v1h-11.9zM879.9 329h11.9v1h-11.9z"/>
<path fill="#8a8a8a" d="M922 284h11.9v1h-11.9z"/>
<path fill="#8e8e8e" d="M879.9 285h11.9v1h-11.9zM894.6 289h11.4v1h-11.4zM879.9 310h11.9v1h-11.9zM922 316h11.9v1h-11.9z"/>
<path fill="#919191" d="M894.6 285h11.4v1h-11.4zM879.9 289h11.9v1h-11.9zM922 301h11.9v1h-11.9zM879.9 315h11.9v1h-11.9zM907.9 316h12.1v1h-12.1z"/>
<path fill="#808080" d="M907.9 285h12.1v1h-12.1zM922 287h11.9v1h-11.9zM922 291h11.9v1h-11.9zM894.6 327h11.4v1h-11.4z"/>
<path fill="#7b7b7b" d="M922 285h11.9v1h-11.9z"/>
<path fill="#929292" d="M879.9 286h11.9v1h-11.9zM894.6 286h11.4v1h-11.4zM894.6 292h11.4v1h-11.4zM907.9 296h12.1v1h-12.1zM907.9 308h12.1v1h-12.1z"/>
<path fill="#878787" d="M907.9 286h12.1v1h-12.1zM894.6 290h11.4v1h-11.4zM879.9 327h11.9v1h-11.9z"/>
<path fill="#818181" d="M922 286h11.9v1h-11.9zM922 304h11.9v1h-11.9zM907.9 311h12.1v1h-12.1z"/>
<path fill="#8d8d8d" d="M879.9 287h11.9v1h-11.9zM922 292h11.9v1h-11.9zM907.9 293h12.1v1h-12.1zM922 296h11.9v1h-11.9zM922 297h11.9v1h-11.9zM907.9 301h12.1v1h-12.1zM907.9 302h12.1v1h-12.1zM879.9 303h11.9v1h-11.9zM894.6 304h11.4v1h-11.4zM922 314h11.9v1h-11.9zM894.6 315h11.4v1h-11.4z"/>
<path fill="#868686" d="M907.9 287h12.1v1h-12.1zM922 293h11.9v1h-11.9zM879.9 305h11.9v1h-11.9z"/>
<path fill="#858585" d="M907.9 288h12.1v1h-12.1zM907.9 304h12.1v1h-12.1zM894.6 313h11.4v1h-11.4zM907.9 315h12.1v1h-12.1zM922 317h11.9v1h-11.9z"/>
<path fill="#8b8b8b" d="M922 288h11.9v1h-11.9zM879.9 291h11.9v1h-11.9zM894.6 298h11.4v1h-11.4zM894.6 299h11.4v1h-11.4zM907.9 317h12.1v1h-12.1zM879.9 328h11.9v1h-11.9z"/>
<path fill="#848484" d="M907.9 289h12.1v1h-12.1zM894.6 294h11.4v1h-11.4zM922 300h11.9v1h-11.9zM894.6 305h11.4v1h-11.4zM907.9 312h12.1v1h-12.1z"/>
<path fill="#828282" d="M922 289h11.9v1h-11.9zM879.9 290h11.9v1h-11.9zM907.9 292h12.1v1h-12.1zM879.9 294h11.9v1h-11.9zM922 299h11.9v1h-11.9zM907.9 307h12.1v1h-12.1zM879.9 325h11.9v1h-11.9z"/>
<path fill="#737373" d="M907.9 290h12.1v1h-12.1z"/>
<path fill="#7c7c7c" d="M922 290h11.9v1h-11.9zM907.9 298h12.1v1h-12.1zM922 315h11.9v1h-11.9zM922 328h11.9v1h-11.9z"/>
<path fill="#888888" d="M907.9 291h12.1v1h-12.1zM894.6 312h11.4v1h-11.4zM879.9 330h11.9v1h-11.9z"/>
<path fill="#9a9a9a" d="M879.9 292h11.9v1h-11.9zM894.6 296h11.4v1h-11.4zM879.9 300h11.9v1h-11.9zM879.9 302h11.9v1h-11.9zM879.9 308h11.9v1h-11.9zM894.6 310h11.4v1h-11.4zM894.6 314h11.4v1h-11.4zM879.9 317h11.9v1h-11.9z"/>
<path fill="#9b9b9b" d="M879.9 293h11.9v1h-11.9zM894.6 300h11.4v1h-11.4z"/>
<path fill="#787878" d="M907.9 294h12.1v1h-12.1zM922 326h11.9v1h-11.9zM922 329h11.9v1h-11.9z"/>
<path fill="#757575" d="M922 294h11.9v1h-11.9zM907.9 309h12.1v1h-12.1z"/>
<path fill="#9e9e9e" d="M894.6 295h11.4v1h-11.4z"/>
<path fill="#8c8c8c" d="M907.9 295h12.1v1h-12.1zM922 306h11.9v1h-11.9zM907.9 314h12.1v1h-12.1z"/>
<path fill="#898989" d="M922 295h11.9v1h-11.9z"/>
<path fill="#9c9c9c" d="M879.9 296h11.9v1h-11.9z"/>
<path fill="#9d9d9d" d="M879.9 297h11.9v1h-11.9zM894.6 302h11.4v1h-11.4z"/>
<path fill="#a7a7a7" d="M894.6 297h11.4v1h-11.4z"/>
<path fill="#909090" d="M879.9 298h11.9v1h-11.9zM907.9 300h12.1v1h-12.1zM907.9 306h12.1v1h-12.1z"/>
<path fill="#7a7a7a" d="M922 298h11.9v1h-11.9zM922 305h11.9v1h-11.9z"/>
<path fill="#7e7e7e" d="M907.9 299h12.1v1h-12.1zM922 302h11.9v1h-11.9zM922 312h11.9v1h-11.9zM922 327h11.9v1h-11.9z"/>
<path fill="#9f9f9f" d="M879.9 301h11.9v1h-11.9zM879.9 316h11.9v1h-11.9z"/>
<path fill="#a2a2a2" d="M894.6 301h11.4v1h-11.4z"/>
<path fill="#7f7f7f" d="M907.9 303h12.1v1h-12.1zM894.6 309h11.4v1h-11.4zM907.9 310h12.1v1h-12.1z"/>
<path fill="#767676" d="M922 303h11.9v1h-11.9zM894.6 326h11.4v1h-11.4zM894.6 329h11.4v1h-11.4zM894.6 330h11.4v1h-11.4z"/>
<path fill="#969696" d="M879.9 304h11.9v1h-11.9zM894.6 317h11.4v1h-11.4z"/>
<path fill="#797979" d="M907.9 305h12.1v1h-12.1zM922 309h11.9v1h-11.9zM922 311h11.9v1h-11.9z"/>
<path fill="#a0a0a0" d="M894.6 306h11.4v1h-11.4z"/>
<path fill="#949494" d="M879.9 307h11.9v1h-11.9zM894.6 316h11.4v1h-11.4z"/>
<path fill="#a1a1a1" d="M894.6 308h11.4v1h-11.4z"/>
<path fill="#8f8f8f" d="M922 308h11.9v1h-11.9zM879.9 313h11.9v1h-11.9z"/>
<path fill="#7d7d7d" d="M922 310h11.9v1h-11.9zM907.9 313h12.1v1h-12.1z"/>
<path fill="#959595" d="M879.9 311h11.9v1h-11.9z"/>
<path fill="#979797" d="M894.6 311h11.4v1h-11.4zM879.9 314h11.9v1h-11.9z"/>
<path fill="#727272" d="M922 313h11.9v1h-11.9z"/>
<path fill="#6f6f6f" d="M894.6 325h11.4v1h-11.4zM907.9 330h12.1v1h-12.1zM879.9 630h6.6v4h-6.6z"/>
<path fill="#6e6e6e" d="M922 325h11.9v1h-11.9z"/>
<path fill="#707070" d="M907.9 326h12.1v1h-12.1z"/>
<path fill="#747474" d="M907.9 327h12.1v1h-12.1z"/>
<path fill="#777777" d="M894.6 328h11.4v1h-11.4zM922 330h11.9v1h-11.9z"/>
<path fill="#6c6c6c" d="M907.9 328h12.1v1h-12.1zM879.9 642h5.7v5h-5.7z"/>
<path fill="#717171" d="M907.9 329h12.1v1h-12.1z"/>
<path fill="#5d5d5d" d="M879.9 333h11.9v1h-11.9zM884.5 614h7.2v7h-7.2z"/>
<path fill="#6b6b6b" d="M879.9 334h11.9v1h-11.9z"/>
<path fill="#676767" d="M922 336h11.9v1h-11.9zM900.9 557h5v3h-5zM886.9 634h4.8v5h-4.8z"/>
<path fill="#393939" d="M879.9 346h7.6v8h-7.6zM913.5 346h6.5v8h-6.5zM907.9 578h5.1v8h-5.1zM928.1 594h5.7v7h-5.7zM913.9 647h6v8h-6zM915.2 672h4.7v7h-4.7zM912.7 683h7.2v3h-7.2zM907.9 701h5.7v5h-5.7zM907.9 712h7.2v7h-7.2z"/>
<path fill="#3c3c3c" d="M887.4 346h4.3v8h-4.3zM922 428h6v4h-6zM926.7 523h7.2v8h-7.2zM894.6 578h4.7v8h-4.7zM907.9 663h5.8v5h-5.8zM907.9 672h7.4v7h-7.4zM907.9 689h7.2v6h-7.2zM907.9 695h6.9v6h-6.9z"/>
<path fill="#2d2d2d" d="M922 346h6.2v8h-6.2zM928.2 346h5.7v8h-5.7zM926 601h7.9v3h-7.9zM929.3 604h4.5v7h-4.5zM929 686h4.9v3h-4.9z"/>
<path fill="#313131" d="M926.6 374h7.3v8h-7.3zM922 560h7v8h-7zM913.8 604h6.1v7h-6.1zM928.3 660h5.5v3h-5.5zM922 695h4.6v6h-4.6z"/>
<path fill="#323232" d="M922 413h5.6v9h-5.6z"/>
<path fill="#363636" d="M907.9 572h7.1v6h-7.1zM922 572h6.5v6h-6.5zM879.9 578h6.5v8h-6.5zM886.3 578h5.4v8h-5.4zM922 594h6.2v7h-6.2zM922 672h5.6v7h-5.6z"/>
<path fill="#272727" d="M922 578h5.5v8h-5.5zM927.4 578h6.4v8h-6.4z"/>
<path fill="#2e2e2e" d="M927.6 586h6.3v8h-6.3zM929.3 689h4.6v6h-4.6zM922 701h7.4v5h-7.4z"/>
<path fill="#2a2a2a" d="M922 604h7.4v7h-7.4zM928.3 655h5.5v5h-5.5zM922 679h5.9v4h-5.9zM929.3 701h4.5v5h-4.5z"/>
<path fill="#6a6a6a" d="M887.8 611h4v3h-4z"/>
<path fill="#282828" d="M922 647h4.9v8h-4.9z"/>
<path fill="#2b2b2b" d="M926.8 647h7v8h-7zM922 668h6.3v4h-6.3zM922 683h6.3v3h-6.3zM926.5 695h7.3v6h-7.3zM922 719h4.2v1h-4.2z"/>
<path fill="#292929" d="M928.3 668h5.6v4h-5.6z"/>
<path fill="#2c2c2c" d="M927.8 679h6v4h-6zM928.2 683h5.6v3h-5.6z"/>
<path fill="#252525" d="M926.2 719h7.7v1h-7.7z"/>
</g>
<rect x="906.1" y="366" width="3" height="1" fill="#ff7000"/>
<rect x="807.1" y="637" width="1.4" height="1" fill="#ff9000"/>
<rect x="847.1" y="637" width="1.4" height="1" fill="#ff9000"/>
<rect x="870.6" y="637" width="1.4" height="1" fill="#ffb000"/>
<rect x="933.4" y="185" width="0.9" height="2" fill="#d00000"/>
<rect x="933.4" y="187" width="0.9" height="3" fill="#ff6000"/>
<rect x="933.4" y="172" width="0.9" height="1" fill="#d00000"/>
<path d="M768.1 105h176.9v1h-176.9zM768.1 120h176.9v1h-176.9zM768.1 136h176.9v1h-176.9zM768.1 140h176.9v8h-176.9zM768.1 191h176.9v1h-176.9zM768.1 203h176.9v1h-176.9zM768.1 219h176.9v1h-176.9zM768.1 224h176.9v1h-176.9zM768.1 240h176.9v1h-176.9zM768.1 243h176.9v1h-176.9zM768.1 244.8h176.9v2.4h-176.9zM768.1 263h176.9v1h-176.9zM768.1 266h176.9v1h-176.9zM768.1 269h176.9v1h-176.9zM768.1 289h176.9v1h-176.9zM768.1 301h176.9v1h-176.9zM768.1 321h176.9v1h-176.9zM768.1 330h176.9v1h-176.9zM768.1 339h176.9v1h-176.9zM768.1 342h176.9v1h-176.9zM768.1 345h176.9v1h-176.9zM768.1 348h176.9v1h-176.9zM768.1 364h176.9v1h-176.9zM768.1 367h176.9v1h-176.9zM768.1 370h176.9v2h-176.9zM768.1 375h176.9v1h-176.9zM768.1 386h176.9v2.2h-176.9zM768.1 397h176.9v3h-176.9zM768.1 405h176.9v1h-176.9zM768.1 408h176.9v1h-176.9zM768.1 414h176.9v1h-176.9zM768.1 440h176.9v1h-176.9zM768.1 442h176.9v3h-176.9zM768.1 461h176.9v2h-176.9zM768.1 489h176.9v2h-176.9zM768.1 492h176.9v1h-176.9zM768.1 516h176.9v2h-176.9zM768.1 520h176.9v4h-176.9zM768.1 529h176.9v1h-176.9zM768.1 533h176.9v1h-176.9zM768.1 535h176.9v1h-176.9zM768.1 544h176.9v1h-176.9zM768.1 549h176.9v4h-176.9zM768.1 557h176.9v1h-176.9zM768.1 559h176.9v1h-176.9zM768.1 563h176.9v1h-176.9zM768.1 578h176.9v1h-176.9zM768.1 590h176.9v2h-176.9zM768.1 598h176.9v1h-176.9zM768.1 603h176.9v2h-176.9zM768.1 609h176.9v1h-176.9zM768.1 622h176.9v1h-176.9zM768.1 625h176.9v1h-176.9zM768.1 627h176.9v1h-176.9zM768.1 631h176.9v1h-176.9zM768.1 633h176.9v1h-176.9zM768.1 639h176.9v1h-176.9zM768.1 654h176.9v1h-176.9zM768.1 663h176.9v1h-176.9zM768.1 669h176.9v1h-176.9zM768.1 672h176.9v1h-176.9zM768.1 680h176.9v1h-176.9zM768.1 693h176.9v1h-176.9zM768.1 700h176.9v1h-176.9zM768.1 707h176.9v1h-176.9zM768.1 717h176.9v1h-176.9z" fill="#fff"/>
<path d="M768.1 82h176.9v1h-176.9zM768.1 87h176.9v1h-176.9zM768.1 93h176.9v1h-176.9zM768.1 119h176.9v1h-176.9zM768.1 208h176.9v1h-176.9zM768.1 252h176.9v1h-176.9zM768.1 257h176.9v1h-176.9zM768.1 274h176.9v1h-176.9zM768.1 280h176.9v1h-176.9zM768.1 282h176.9v2h-176.9zM768.1 318h176.9v1h-176.9zM768.1 324h176.9v1h-176.9zM768.1 389h176.9v1h-176.9zM768.1 393h176.9v1h-176.9zM768.1 415h176.9v1h-176.9zM768.1 424h176.9v1h-176.9zM768.1 431h176.9v1.8h-176.9zM768.1 441h176.9v1h-176.9zM768.1 451h176.9v1h-176.9zM768.1 545h176.9v1h-176.9zM768.1 548h176.9v1h-176.9zM768.1 558h176.9v1h-176.9zM768.1 560h176.9v1h-176.9zM768.1 610h176.9v1h-176.9zM768.1 619h176.9v1h-176.9zM768.1 645h176.9v1h-176.9zM768.1 688h176.9v1h-176.9zM768.1 719h176.9v1h-176.9z" fill="#000"/>
<rect x="768.5" y="80.5" width="177" height="640" fill="none" stroke="#000" stroke-width="1"/>
<path d="M768.5 720.5v-5.6M768.5 80.5v5.6M810.5 720.5v-5.6M810.5 80.5v5.6M851.5 720.5v-5.6M851.5 80.5v5.6M893.5 720.5v-5.6M893.5 80.5v5.6M934.5 720.5v-5.6M934.5 80.5v5.6M768.5 720.5h5.6M945.5 720.5h-5.6M768.5 587.5h5.6M945.5 587.5h-5.6M768.5 453.5h5.6M945.5 453.5h-5.6M768.5 320.5h5.6M945.5 320.5h-5.6M768.5 187.5h5.6M945.5 187.5h-5.6" stroke="#000" stroke-width="0.7" fill="none"/>
<text x="768.62" y="735.7" font-size="12.5" letter-spacing="0.45" text-anchor="middle">320</text>
<text x="810.62" y="735.7" font-size="12.5" letter-spacing="0.45" text-anchor="middle">335</text>
<text x="851.62" y="735.7" font-size="12.5" letter-spacing="0.45" text-anchor="middle">350</text>
<text x="893.62" y="735.7" font-size="12.5" letter-spacing="0.45" text-anchor="middle">365</text>
<text x="934.62" y="735.7" font-size="12.5" letter-spacing="0.45" text-anchor="middle">380</text>
<text x="764.2" y="723.8" font-size="12.5" letter-spacing="0.3" text-anchor="end">0</text>
<text x="764.2" y="589.87" font-size="12.5" letter-spacing="0.3" text-anchor="end">5</text>
<text x="763" y="456.93" font-size="12.5" letter-spacing="0.3" text-anchor="end">10</text>
<text x="763" y="324" font-size="12.5" letter-spacing="0.3" text-anchor="end">15</text>
<text x="763.95" y="189.87" font-size="12.5" letter-spacing="0.3" text-anchor="end">20</text>
<text x="857.3" y="73.5" font-size="16.67" text-anchor="middle">YX, V4*V7=EA05*EA03</text>
<text x="589.3" y="26.4" font-size="13.89" text-anchor="middle">2019-05-10 0.0-24.0</text>
<text x="483.5" y="755" font-size="13.89" text-anchor="middle">frequency (MHz)</text>
<text transform="translate(100.6,400) rotate(-90)" font-size="13.89" text-anchor="middle">UT (hours)</text>
<rect x="1019.5" y="160.5" width="15" height="480" fill="url(#cb)" stroke="#000" stroke-width="1"/>
<text x="1013.0" y="163.2" font-size="11.1" text-anchor="end">1</text>
<text x="1013.0" y="259.2" font-size="11.1" text-anchor="end">0</text>
<text x="1013.0" y="355.2" font-size="11.1" text-anchor="end">−1</text>
<text x="1013.0" y="451.2" font-size="11.1" text-anchor="end">−2</text>
<text x="1013.0" y="547.2" font-size="11.1" text-anchor="end">−3</text>
<text x="1013.0" y="643.2" font-size="11.1" text-anchor="end">−4</text>
<path d="M1019.5 256.5h5.6M1034.5 256.5h-5.6M1019.5 352.5h5.6M1034.5 352.5h-5.6M1019.5 448.5h5.6M1034.5 448.5h-5.6M1019.5 544.5h5.6M1034.5 544.5h-5.6M1022.5 160.5v5.6M1022.5 640.5v-5.6M1025.5 160.5v5.6M1025.5 640.5v-5.6M1028.5 160.5v5.6M1028.5 640.5v-5.6M1031.5 160.5v5.6M1031.5 640.5v-5.6" stroke="#000" stroke-width="0.7" fill="none"/>
<text transform="translate(985.7,400.5) rotate(-90)" font-size="13.89" text-anchor="middle">log<tspan font-size="7.8" dy="2.6">10</tspan><tspan dy="-2.6"> amplitude</tspan></text>
<text x="1018.1" y="646.9" font-size="0.8" text-anchor="middle" fill="#111">0.0</text>
<text x="1021.9" y="646.9" font-size="0.8" text-anchor="middle" fill="#111">0.2</text>
<text x="1025.0" y="646.9" font-size="0.8" text-anchor="middle" fill="#111">0.4</text>
<text x="1028.0" y="646.9" font-size="0.8" text-anchor="middle" fill="#666">0.6</text>
<text x="1031.0" y="646.9" font-size="0.8" text-anchor="middle" fill="#666">0.8</text>
<text x="1034.2" y="646.9" font-size="0.8" text-anchor="middle" fill="#666">1.0</text>
</svg></body></html>
